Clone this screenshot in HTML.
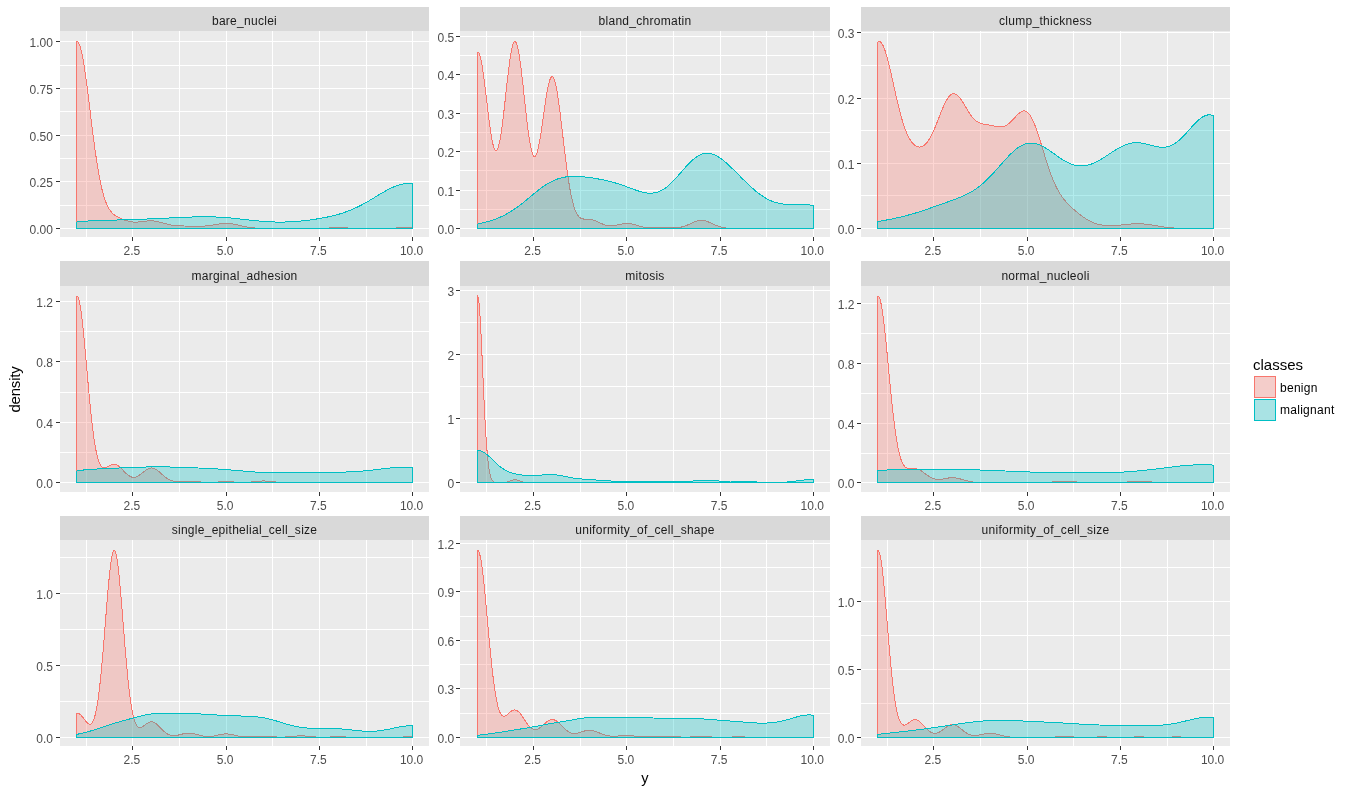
<!DOCTYPE html><html><head><meta charset="utf-8"><title>density</title><style>html,body{margin:0;padding:0;background:#fff}svg{display:block}text{font-family:"Liberation Sans",Arial,sans-serif;letter-spacing:0.28px}.t{letter-spacing:0}</style></head><body>
<svg width="1349" height="793" viewBox="0 0 1349 793">
<rect width="1349" height="793" fill="#fff"/>
<g shape-rendering="crispEdges">
<rect x="60" y="7" width="369" height="24" fill="#D9D9D9"/>
<rect x="60" y="31" width="369" height="206" fill="#EBEBEB"/>
<path d="M60 228.5H429M60 205.5H429M60 181.5H429M60 158.5H429M60 135.5H429M60 111.5H429M60 88.5H429M60 65.5H429M60 41.5H429M86.5 31V237M132.5 31V237M179.5 31V237M226.5 31V237M272.5 31V237M319.5 31V237M366.5 31V237M412.5 31V237" stroke="#fff" stroke-width="1" fill="none"/>
<path d="M56 228.5H60M56 181.5H60M56 135.5H60M56 88.5H60M56 41.5H60M132.5 237V241M226.5 237V241M319.5 237V241M412.5 237V241" stroke="#333" stroke-width="1" fill="none"/>
<polygon points="76.94,228.60 76.94,41.50 77.59,41.69 78.25,42.33 78.91,43.40 79.56,44.90 80.22,46.82 80.88,49.14 81.53,51.85 82.19,54.92 82.85,58.34 83.50,62.08 84.16,66.11 84.82,70.41 85.48,74.95 86.13,79.69 86.79,84.62 87.45,89.70 88.10,94.89 88.76,100.17 89.42,105.51 90.07,110.88 90.73,116.25 91.39,121.59 92.04,126.89 92.70,132.11 93.36,137.24 94.02,142.25 94.67,147.13 95.33,151.86 95.99,156.43 96.64,160.82 97.30,165.04 97.96,169.06 98.61,172.89 99.27,176.52 99.93,179.94 100.59,183.17 101.24,186.20 101.90,189.02 102.56,191.66 103.21,194.11 103.87,196.37 104.53,198.47 105.18,200.39 105.84,202.16 106.50,203.78 107.15,205.26 107.81,206.61 108.47,207.83 109.13,208.95 109.78,209.96 110.44,210.88 111.10,211.71 111.75,212.47 112.41,213.16 113.07,213.79 113.72,214.36 114.38,214.89 115.04,215.38 115.69,215.83 116.35,216.24 117.01,216.64 117.67,217.00 118.32,217.35 118.98,217.68 119.64,218.00 120.29,218.30 120.95,218.59 121.61,218.88 122.26,219.15 122.92,219.41 123.58,219.66 124.24,219.91 124.89,220.14 125.55,220.36 126.21,220.58 126.86,220.78 127.52,220.97 128.18,221.15 128.83,221.31 129.49,221.46 130.15,221.60 130.80,221.72 131.46,221.82 132.12,221.91 132.78,221.99 133.43,222.04 134.09,222.09 134.75,222.11 135.40,222.12 136.06,222.12 136.72,222.11 137.37,222.08 138.03,222.03 138.69,221.98 139.34,221.92 140.00,221.85 140.66,221.77 141.32,221.69 141.97,221.60 142.63,221.52 143.29,221.43 143.94,221.34 144.60,221.25 145.26,221.17 145.91,221.09 146.57,221.02 147.23,220.96 147.89,220.91 148.54,220.87 149.20,220.83 149.86,220.81 150.51,220.81 151.17,220.81 151.83,220.83 152.48,220.87 153.14,220.92 153.80,220.98 154.45,221.06 155.11,221.15 155.77,221.25 156.43,221.37 157.08,221.49 157.74,221.63 158.40,221.78 159.05,221.94 159.71,222.10 160.37,222.27 161.02,222.45 161.68,222.63 162.34,222.81 163.00,223.00 163.65,223.19 164.31,223.37 164.97,223.56 165.62,223.74 166.28,223.92 166.94,224.09 167.59,224.26 168.25,224.42 168.91,224.57 169.56,224.72 170.22,224.86 170.88,224.99 171.54,225.11 172.19,225.22 172.85,225.33 173.51,225.42 174.16,225.51 174.82,225.59 175.48,225.66 176.13,225.72 176.79,225.77 177.45,225.81 178.10,225.85 178.76,225.89 179.42,225.91 180.08,225.94 180.73,225.95 181.39,225.97 182.05,225.98 182.70,225.99 183.36,225.99 184.02,226.00 184.67,226.00 185.33,226.00 185.99,226.01 186.65,226.01 187.30,226.01 187.96,226.02 188.62,226.02 189.27,226.03 189.93,226.04 190.59,226.05 191.24,226.06 191.90,226.07 192.56,226.09 193.21,226.10 193.87,226.11 194.53,226.13 195.19,226.14 195.84,226.15 196.50,226.16 197.16,226.17 197.81,226.18 198.47,226.19 199.13,226.19 199.78,226.19 200.44,226.18 201.10,226.17 201.75,226.15 202.41,226.13 203.07,226.11 203.73,226.07 204.38,226.03 205.04,225.99 205.70,225.94 206.35,225.88 207.01,225.81 207.67,225.74 208.32,225.66 208.98,225.58 209.64,225.49 210.30,225.40 210.95,225.30 211.61,225.19 212.27,225.08 212.92,224.97 213.58,224.86 214.24,224.75 214.89,224.63 215.55,224.52 216.21,224.40 216.86,224.29 217.52,224.18 218.18,224.08 218.84,223.98 219.49,223.88 220.15,223.80 220.81,223.72 221.46,223.64 222.12,223.58 222.78,223.53 223.43,223.48 224.09,223.45 224.75,223.43 225.41,223.41 226.06,223.41 226.72,223.42 227.38,223.45 228.03,223.48 228.69,223.52 229.35,223.58 230.00,223.65 230.66,223.72 231.32,223.81 231.97,223.91 232.63,224.01 233.29,224.13 233.95,224.25 234.60,224.37 235.26,224.50 235.92,224.64 236.57,224.78 237.23,224.93 237.89,225.08 238.54,225.23 239.20,225.38 239.86,225.53 240.51,225.68 241.17,225.83 241.83,225.97 242.49,226.12 243.14,226.26 243.80,226.40 244.46,226.53 245.11,226.66 245.77,226.79 246.43,226.91 247.08,227.03 247.74,227.14 248.40,227.24 249.06,227.34 249.71,227.43 250.37,227.52 251.03,227.61 251.68,227.68 252.34,227.76 253.00,227.82 253.65,227.89 254.31,227.94 254.97,228.00 255.62,228.05 256.28,228.09 256.94,228.13 257.60,228.17 258.25,228.20 258.91,228.23 259.57,228.26 260.22,228.29 260.88,228.31 261.54,228.33 262.19,228.35 262.85,228.36 263.51,228.38 264.16,228.39 264.82,228.41 265.48,228.42 266.14,228.43 266.79,228.43 267.45,228.44 268.11,228.45 268.76,228.46 269.42,228.46 270.08,228.47 270.73,228.47 271.39,228.48 272.05,228.48 272.71,228.49 273.36,228.49 274.02,228.49 274.68,228.49 275.33,228.50 275.99,228.50 276.65,228.50 277.30,228.50 277.96,228.50 278.62,228.50 279.27,228.50 279.93,228.51 280.59,228.51 281.25,228.51 281.90,228.51 282.56,228.50 283.22,228.50 283.87,228.50 284.53,228.50 285.19,228.50 285.84,228.50 286.50,228.50 287.16,228.49 287.82,228.49 288.47,228.49 289.13,228.49 289.79,228.49 290.44,228.48 291.10,228.48 291.76,228.48 292.41,228.47 293.07,228.47 293.73,228.47 294.38,228.47 295.04,228.46 295.70,228.46 296.36,228.46 297.01,228.46 297.67,228.46 298.33,228.45 298.98,228.45 299.64,228.45 300.30,228.45 300.95,228.45 301.61,228.44 302.27,228.44 302.92,228.44 303.58,228.44 304.24,228.44 304.90,228.43 305.55,228.43 306.21,228.43 306.87,228.43 307.52,228.42 308.18,228.42 308.84,228.42 309.49,228.41 310.15,228.41 310.81,228.40 311.47,228.40 312.12,228.39 312.78,228.38 313.44,228.37 314.09,228.37 314.75,228.36 315.41,228.35 316.06,228.33 316.72,228.32 317.38,228.31 318.03,228.30 318.69,228.28 319.35,228.27 320.01,228.25 320.66,228.23 321.32,228.22 321.98,228.20 322.63,228.18 323.29,228.16 323.95,228.14 324.60,228.12 325.26,228.10 325.92,228.08 326.57,228.06 327.23,228.04 327.89,228.02 328.55,228.01 329.20,227.99 329.86,227.97 330.52,227.95 331.17,227.94 331.83,227.92 332.49,227.91 333.14,227.90 333.80,227.89 334.46,227.88 335.12,227.87 335.77,227.86 336.43,227.86 337.09,227.85 337.74,227.85 338.40,227.85 339.06,227.85 339.71,227.86 340.37,227.86 341.03,227.87 341.68,227.88 342.34,227.89 343.00,227.90 343.66,227.91 344.31,227.92 344.97,227.94 345.63,227.95 346.28,227.97 346.94,227.99 347.60,228.00 348.25,228.02 348.91,228.04 349.57,228.06 350.23,228.08 350.88,228.10 351.54,228.12 352.20,228.14 352.85,228.15 353.51,228.17 354.17,228.19 354.82,228.21 355.48,228.22 356.14,228.24 356.79,228.25 357.45,228.27 358.11,228.28 358.77,228.29 359.42,228.31 360.08,228.32 360.74,228.33 361.39,228.34 362.05,228.34 362.71,228.35 363.36,228.36 364.02,228.37 364.68,228.37 365.33,228.37 365.99,228.38 366.65,228.38 367.31,228.39 367.96,228.39 368.62,228.39 369.28,228.39 369.93,228.39 370.59,228.39 371.25,228.39 371.90,228.39 372.56,228.39 373.22,228.39 373.88,228.39 374.53,228.39 375.19,228.39 375.85,228.39 376.50,228.39 377.16,228.39 377.82,228.38 378.47,228.38 379.13,228.38 379.79,228.38 380.44,228.37 381.10,228.37 381.76,228.36 382.42,228.36 383.07,228.35 383.73,228.35 384.39,228.34 385.04,228.33 385.70,228.32 386.36,228.31 387.01,228.30 387.67,228.29 388.33,228.27 388.98,228.26 389.64,228.24 390.30,228.22 390.96,228.20 391.61,228.18 392.27,228.16 392.93,228.14 393.58,228.12 394.24,228.09 394.90,228.06 395.55,228.04 396.21,228.01 396.87,227.98 397.53,227.95 398.18,227.92 398.84,227.89 399.50,227.86 400.15,227.83 400.81,227.80 401.47,227.77 402.12,227.74 402.78,227.71 403.44,227.68 404.09,227.65 404.75,227.62 405.41,227.60 406.07,227.58 406.72,227.55 407.38,227.53 408.04,227.52 408.69,227.50 409.35,227.49 410.01,227.47 410.66,227.47 411.32,227.46 411.98,227.46 412.63,227.46 412.63,228.60" fill="#F8766D" fill-opacity="0.3" stroke="#F8766D" stroke-width="1" stroke-linejoin="round"/>
<polygon points="76.94,228.60 76.94,221.73 77.59,221.67 78.25,221.62 78.91,221.57 79.56,221.52 80.22,221.48 80.88,221.43 81.53,221.38 82.19,221.34 82.85,221.29 83.50,221.25 84.16,221.21 84.82,221.17 85.48,221.13 86.13,221.09 86.79,221.05 87.45,221.02 88.10,220.98 88.76,220.94 89.42,220.91 90.07,220.88 90.73,220.84 91.39,220.81 92.04,220.78 92.70,220.75 93.36,220.72 94.02,220.69 94.67,220.67 95.33,220.64 95.99,220.61 96.64,220.59 97.30,220.56 97.96,220.54 98.61,220.52 99.27,220.49 99.93,220.47 100.59,220.45 101.24,220.43 101.90,220.41 102.56,220.39 103.21,220.37 103.87,220.35 104.53,220.33 105.18,220.31 105.84,220.29 106.50,220.27 107.15,220.25 107.81,220.24 108.47,220.22 109.13,220.20 109.78,220.18 110.44,220.17 111.10,220.15 111.75,220.13 112.41,220.12 113.07,220.10 113.72,220.08 114.38,220.07 115.04,220.05 115.69,220.03 116.35,220.02 117.01,220.00 117.67,219.98 118.32,219.96 118.98,219.95 119.64,219.93 120.29,219.91 120.95,219.90 121.61,219.88 122.26,219.86 122.92,219.84 123.58,219.82 124.24,219.81 124.89,219.79 125.55,219.77 126.21,219.75 126.86,219.73 127.52,219.71 128.18,219.69 128.83,219.67 129.49,219.65 130.15,219.63 130.80,219.61 131.46,219.59 132.12,219.57 132.78,219.54 133.43,219.52 134.09,219.50 134.75,219.48 135.40,219.45 136.06,219.43 136.72,219.41 137.37,219.38 138.03,219.36 138.69,219.34 139.34,219.31 140.00,219.29 140.66,219.26 141.32,219.24 141.97,219.21 142.63,219.18 143.29,219.16 143.94,219.13 144.60,219.11 145.26,219.08 145.91,219.05 146.57,219.02 147.23,219.00 147.89,218.97 148.54,218.94 149.20,218.91 149.86,218.88 150.51,218.86 151.17,218.83 151.83,218.80 152.48,218.77 153.14,218.74 153.80,218.71 154.45,218.68 155.11,218.65 155.77,218.62 156.43,218.59 157.08,218.56 157.74,218.53 158.40,218.50 159.05,218.47 159.71,218.44 160.37,218.41 161.02,218.37 161.68,218.34 162.34,218.31 163.00,218.28 163.65,218.25 164.31,218.22 164.97,218.19 165.62,218.15 166.28,218.12 166.94,218.09 167.59,218.06 168.25,218.03 168.91,217.99 169.56,217.96 170.22,217.93 170.88,217.90 171.54,217.87 172.19,217.84 172.85,217.80 173.51,217.77 174.16,217.74 174.82,217.71 175.48,217.68 176.13,217.65 176.79,217.62 177.45,217.59 178.10,217.56 178.76,217.53 179.42,217.50 180.08,217.47 180.73,217.44 181.39,217.41 182.05,217.38 182.70,217.35 183.36,217.32 184.02,217.29 184.67,217.27 185.33,217.24 185.99,217.21 186.65,217.19 187.30,217.16 187.96,217.14 188.62,217.11 189.27,217.09 189.93,217.07 190.59,217.04 191.24,217.02 191.90,217.00 192.56,216.98 193.21,216.96 193.87,216.94 194.53,216.93 195.19,216.91 195.84,216.89 196.50,216.88 197.16,216.86 197.81,216.85 198.47,216.84 199.13,216.83 199.78,216.82 200.44,216.81 201.10,216.80 201.75,216.80 202.41,216.79 203.07,216.79 203.73,216.79 204.38,216.79 205.04,216.79 205.70,216.79 206.35,216.79 207.01,216.80 207.67,216.80 208.32,216.81 208.98,216.82 209.64,216.83 210.30,216.84 210.95,216.85 211.61,216.87 212.27,216.89 212.92,216.90 213.58,216.92 214.24,216.95 214.89,216.97 215.55,216.99 216.21,217.02 216.86,217.05 217.52,217.08 218.18,217.11 218.84,217.14 219.49,217.18 220.15,217.21 220.81,217.25 221.46,217.29 222.12,217.33 222.78,217.38 223.43,217.42 224.09,217.47 224.75,217.51 225.41,217.56 226.06,217.61 226.72,217.66 227.38,217.72 228.03,217.77 228.69,217.83 229.35,217.89 230.00,217.94 230.66,218.00 231.32,218.07 231.97,218.13 232.63,218.19 233.29,218.26 233.95,218.32 234.60,218.39 235.26,218.46 235.92,218.53 236.57,218.59 237.23,218.66 237.89,218.74 238.54,218.81 239.20,218.88 239.86,218.95 240.51,219.03 241.17,219.10 241.83,219.17 242.49,219.25 243.14,219.32 243.80,219.40 244.46,219.47 245.11,219.55 245.77,219.62 246.43,219.70 247.08,219.77 247.74,219.85 248.40,219.92 249.06,220.00 249.71,220.07 250.37,220.15 251.03,220.22 251.68,220.29 252.34,220.36 253.00,220.43 253.65,220.50 254.31,220.57 254.97,220.64 255.62,220.71 256.28,220.77 256.94,220.84 257.60,220.90 258.25,220.97 258.91,221.03 259.57,221.09 260.22,221.15 260.88,221.20 261.54,221.26 262.19,221.31 262.85,221.37 263.51,221.42 264.16,221.47 264.82,221.52 265.48,221.56 266.14,221.61 266.79,221.65 267.45,221.69 268.11,221.73 268.76,221.76 269.42,221.80 270.08,221.83 270.73,221.86 271.39,221.89 272.05,221.92 272.71,221.94 273.36,221.97 274.02,221.99 274.68,222.00 275.33,222.02 275.99,222.03 276.65,222.05 277.30,222.06 277.96,222.06 278.62,222.07 279.27,222.07 279.93,222.07 280.59,222.07 281.25,222.07 281.90,222.06 282.56,222.05 283.22,222.04 283.87,222.03 284.53,222.02 285.19,222.00 285.84,221.98 286.50,221.96 287.16,221.94 287.82,221.91 288.47,221.89 289.13,221.86 289.79,221.83 290.44,221.79 291.10,221.76 291.76,221.72 292.41,221.68 293.07,221.64 293.73,221.60 294.38,221.55 295.04,221.50 295.70,221.46 296.36,221.40 297.01,221.35 297.67,221.30 298.33,221.24 298.98,221.18 299.64,221.12 300.30,221.06 300.95,221.00 301.61,220.93 302.27,220.87 302.92,220.80 303.58,220.73 304.24,220.65 304.90,220.58 305.55,220.51 306.21,220.43 306.87,220.35 307.52,220.27 308.18,220.19 308.84,220.10 309.49,220.02 310.15,219.93 310.81,219.84 311.47,219.75 312.12,219.66 312.78,219.57 313.44,219.47 314.09,219.38 314.75,219.28 315.41,219.18 316.06,219.08 316.72,218.97 317.38,218.87 318.03,218.76 318.69,218.65 319.35,218.54 320.01,218.43 320.66,218.32 321.32,218.20 321.98,218.08 322.63,217.96 323.29,217.84 323.95,217.71 324.60,217.59 325.26,217.46 325.92,217.33 326.57,217.19 327.23,217.06 327.89,216.92 328.55,216.78 329.20,216.63 329.86,216.49 330.52,216.34 331.17,216.18 331.83,216.03 332.49,215.87 333.14,215.71 333.80,215.55 334.46,215.38 335.12,215.21 335.77,215.04 336.43,214.86 337.09,214.68 337.74,214.50 338.40,214.31 339.06,214.12 339.71,213.93 340.37,213.73 341.03,213.52 341.68,213.32 342.34,213.11 343.00,212.89 343.66,212.68 344.31,212.45 344.97,212.23 345.63,211.99 346.28,211.76 346.94,211.52 347.60,211.27 348.25,211.02 348.91,210.77 349.57,210.51 350.23,210.25 350.88,209.98 351.54,209.71 352.20,209.43 352.85,209.15 353.51,208.86 354.17,208.57 354.82,208.27 355.48,207.97 356.14,207.67 356.79,207.36 357.45,207.04 358.11,206.72 358.77,206.40 359.42,206.07 360.08,205.73 360.74,205.40 361.39,205.05 362.05,204.71 362.71,204.36 363.36,204.00 364.02,203.64 364.68,203.28 365.33,202.92 365.99,202.55 366.65,202.17 367.31,201.80 367.96,201.42 368.62,201.04 369.28,200.65 369.93,200.26 370.59,199.87 371.25,199.48 371.90,199.09 372.56,198.69 373.22,198.30 373.88,197.90 374.53,197.50 375.19,197.10 375.85,196.70 376.50,196.31 377.16,195.91 377.82,195.51 378.47,195.11 379.13,194.71 379.79,194.32 380.44,193.93 381.10,193.53 381.76,193.15 382.42,192.76 383.07,192.38 383.73,192.00 384.39,191.62 385.04,191.25 385.70,190.89 386.36,190.52 387.01,190.17 387.67,189.82 388.33,189.47 388.98,189.13 389.64,188.80 390.30,188.48 390.96,188.16 391.61,187.85 392.27,187.55 392.93,187.25 393.58,186.97 394.24,186.69 394.90,186.43 395.55,186.17 396.21,185.92 396.87,185.69 397.53,185.46 398.18,185.25 398.84,185.04 399.50,184.85 400.15,184.67 400.81,184.50 401.47,184.34 402.12,184.20 402.78,184.07 403.44,183.95 404.09,183.85 404.75,183.75 405.41,183.67 406.07,183.61 406.72,183.56 407.38,183.52 408.04,183.50 408.69,183.49 409.35,183.49 410.01,183.51 410.66,183.54 411.32,183.59 411.98,183.65 412.63,183.72 412.63,228.60" fill="#00BFC4" fill-opacity="0.3" stroke="#00BFC4" stroke-width="1" stroke-linejoin="round"/>
</g>
<text x="244.5" y="24.8" font-size="12" fill="#1A1A1A" text-anchor="middle">bare_nuclei</text>
<text class="t" x="52.9" y="234" font-size="12" fill="#4D4D4D" text-anchor="end">0.00</text>
<text class="t" x="52.9" y="187" font-size="12" fill="#4D4D4D" text-anchor="end">0.25</text>
<text class="t" x="52.9" y="141" font-size="12" fill="#4D4D4D" text-anchor="end">0.50</text>
<text class="t" x="52.9" y="94" font-size="12" fill="#4D4D4D" text-anchor="end">0.75</text>
<text class="t" x="52.9" y="47" font-size="12" fill="#4D4D4D" text-anchor="end">1.00</text>
<text class="t" x="131.9" y="255" font-size="12" fill="#4D4D4D" text-anchor="middle">2.5</text>
<text class="t" x="225.1" y="255" font-size="12" fill="#4D4D4D" text-anchor="middle">5.0</text>
<text class="t" x="318.4" y="255" font-size="12" fill="#4D4D4D" text-anchor="middle">7.5</text>
<text class="t" x="411.6" y="255" font-size="12" fill="#4D4D4D" text-anchor="middle">10.0</text>
<g shape-rendering="crispEdges">
<rect x="460" y="7" width="370" height="24" fill="#D9D9D9"/>
<rect x="460" y="31" width="370" height="206" fill="#EBEBEB"/>
<path d="M460 228.5H830M460 209.5H830M460 190.5H830M460 170.5H830M460 151.5H830M460 132.5H830M460 113.5H830M460 93.5H830M460 74.5H830M460 55.5H830M460 36.5H830M486.5 31V237M533.5 31V237M580.5 31V237M626.5 31V237M673.5 31V237M720.5 31V237M766.5 31V237M813.5 31V237" stroke="#fff" stroke-width="1" fill="none"/>
<path d="M456 228.5H460M456 190.5H460M456 151.5H460M456 113.5H460M456 74.5H460M456 36.5H460M533.5 237V241M626.5 237V241M720.5 237V241M813.5 237V241" stroke="#333" stroke-width="1" fill="none"/>
<polygon points="477.64,228.60 477.64,52.05 478.29,52.29 478.95,53.18 479.61,54.70 480.26,56.83 480.92,59.54 481.58,62.79 482.23,66.53 482.89,70.72 483.55,75.30 484.20,80.21 484.86,85.37 485.52,90.74 486.18,96.23 486.83,101.78 487.49,107.31 488.15,112.76 488.80,118.07 489.46,123.16 490.12,127.97 490.77,132.44 491.43,136.53 492.09,140.18 492.74,143.35 493.40,145.99 494.06,148.09 494.72,149.60 495.37,150.52 496.03,150.83 496.69,150.52 497.34,149.60 498.00,148.07 498.66,145.94 499.31,143.25 499.97,140.00 500.63,136.25 501.29,132.02 501.94,127.37 502.60,122.34 503.26,116.99 503.91,111.39 504.57,105.59 505.23,99.67 505.88,93.69 506.54,87.73 507.20,81.85 507.85,76.14 508.51,70.66 509.17,65.48 509.83,60.66 510.48,56.28 511.14,52.38 511.80,49.01 512.45,46.22 513.11,44.06 513.77,42.53 514.42,41.68 515.08,41.50 515.74,42.00 516.39,43.18 517.05,45.02 517.71,47.49 518.37,50.57 519.02,54.22 519.68,58.38 520.34,63.02 520.99,68.06 521.65,73.45 522.31,79.12 522.96,85.00 523.62,91.02 524.28,97.12 524.94,103.22 525.59,109.25 526.25,115.14 526.91,120.84 527.56,126.28 528.22,131.40 528.88,136.15 529.53,140.49 530.19,144.37 530.85,147.76 531.50,150.63 532.16,152.95 532.82,154.72 533.48,155.91 534.13,156.53 534.79,156.58 535.45,156.06 536.10,154.99 536.76,153.39 537.42,151.29 538.07,148.72 538.73,145.72 539.39,142.33 540.04,138.59 540.70,134.55 541.36,130.28 542.02,125.82 542.67,121.24 543.33,116.59 543.99,111.95 544.64,107.36 545.30,102.89 545.96,98.61 546.61,94.57 547.27,90.82 547.93,87.42 548.59,84.42 549.24,81.86 549.90,79.76 550.56,78.18 551.21,77.13 551.87,76.62 552.53,76.67 553.18,77.28 553.84,78.45 554.50,80.17 555.15,82.41 555.81,85.16 556.47,88.39 557.13,92.06 557.78,96.13 558.44,100.57 559.10,105.32 559.75,110.34 560.41,115.57 561.07,120.98 561.72,126.51 562.38,132.11 563.04,137.73 563.70,143.34 564.35,148.88 565.01,154.32 565.67,159.63 566.32,164.77 566.98,169.72 567.64,174.45 568.29,178.95 568.95,183.19 569.61,187.18 570.26,190.89 570.92,194.33 571.58,197.50 572.24,200.40 572.89,203.03 573.55,205.41 574.21,207.53 574.86,209.43 575.52,211.09 576.18,212.55 576.83,213.81 577.49,214.89 578.15,215.80 578.80,216.57 579.46,217.20 580.12,217.71 580.78,218.12 581.43,218.44 582.09,218.68 582.75,218.86 583.40,218.99 584.06,219.07 584.72,219.13 585.37,219.16 586.03,219.18 586.69,219.20 587.35,219.21 588.00,219.24 588.66,219.28 589.32,219.33 589.97,219.40 590.63,219.49 591.29,219.60 591.94,219.74 592.60,219.90 593.26,220.09 593.91,220.30 594.57,220.52 595.23,220.77 595.89,221.03 596.54,221.31 597.20,221.60 597.86,221.90 598.51,222.20 599.17,222.51 599.83,222.81 600.48,223.11 601.14,223.41 601.80,223.70 602.45,223.97 603.11,224.23 603.77,224.48 604.43,224.71 605.08,224.92 605.74,225.10 606.40,225.27 607.05,225.41 607.71,225.53 608.37,225.63 609.02,225.70 609.68,225.74 610.34,225.77 611.00,225.77 611.65,225.75 612.31,225.71 612.97,225.66 613.62,225.58 614.28,225.49 614.94,225.38 615.59,225.27 616.25,225.14 616.91,225.01 617.56,224.87 618.22,224.73 618.88,224.58 619.54,224.44 620.19,224.30 620.85,224.17 621.51,224.05 622.16,223.93 622.82,223.83 623.48,223.74 624.13,223.66 624.79,223.60 625.45,223.56 626.11,223.53 626.76,223.53 627.42,223.54 628.08,223.57 628.73,223.61 629.39,223.68 630.05,223.76 630.70,223.86 631.36,223.97 632.02,224.10 632.67,224.24 633.33,224.39 633.99,224.56 634.65,224.73 635.30,224.90 635.96,225.08 636.62,225.27 637.27,225.45 637.93,225.64 638.59,225.82 639.24,226.00 639.90,226.18 640.56,226.35 641.21,226.51 641.87,226.67 642.53,226.82 643.19,226.96 643.84,227.09 644.50,227.21 645.16,227.32 645.81,227.42 646.47,227.51 647.13,227.60 647.78,227.67 648.44,227.74 649.10,227.79 649.76,227.84 650.41,227.88 651.07,227.91 651.73,227.94 652.38,227.96 653.04,227.97 653.70,227.98 654.35,227.99 655.01,227.99 655.67,227.99 656.32,227.98 656.98,227.98 657.64,227.97 658.30,227.96 658.95,227.95 659.61,227.94 660.27,227.94 660.92,227.93 661.58,227.92 662.24,227.92 662.89,227.91 663.55,227.91 664.21,227.91 664.86,227.91 665.52,227.91 666.18,227.91 666.84,227.91 667.49,227.91 668.15,227.92 668.81,227.92 669.46,227.92 670.12,227.92 670.78,227.92 671.43,227.92 672.09,227.91 672.75,227.90 673.41,227.89 674.06,227.87 674.72,227.84 675.38,227.81 676.03,227.77 676.69,227.72 677.35,227.66 678.00,227.59 678.66,227.51 679.32,227.41 679.97,227.30 680.63,227.18 681.29,227.05 681.95,226.90 682.60,226.73 683.26,226.55 683.92,226.36 684.57,226.15 685.23,225.92 685.89,225.68 686.54,225.43 687.20,225.17 687.86,224.89 688.52,224.61 689.17,224.31 689.83,224.02 690.49,223.71 691.14,223.41 691.80,223.10 692.46,222.80 693.11,222.51 693.77,222.22 694.43,221.94 695.08,221.68 695.74,221.44 696.40,221.21 697.06,221.01 697.71,220.83 698.37,220.68 699.03,220.55 699.68,220.45 700.34,220.39 701.00,220.35 701.65,220.34 702.31,220.37 702.97,220.43 703.62,220.52 704.28,220.63 704.94,220.78 705.60,220.95 706.25,221.15 706.91,221.37 707.57,221.61 708.22,221.87 708.88,222.14 709.54,222.43 710.19,222.72 710.85,223.02 711.51,223.33 712.17,223.64 712.82,223.95 713.48,224.25 714.14,224.56 714.79,224.85 715.45,225.14 716.11,225.41 716.76,225.68 717.42,225.93 718.08,226.18 718.73,226.40 719.39,226.62 720.05,226.82 720.71,227.00 721.36,227.18 722.02,227.33 722.68,227.48 723.33,227.61 723.99,227.73 724.65,227.84 725.30,227.94 725.96,228.02 726.62,228.10 727.27,228.17 727.93,228.23 728.59,228.28 729.25,228.33 729.90,228.37 730.56,228.41 731.22,228.44 731.87,228.46 732.53,228.49 733.19,228.50 733.84,228.52 734.50,228.53 735.16,228.55 735.82,228.56 736.47,228.56 737.13,228.57 737.79,228.58 738.44,228.58 739.10,228.58 739.76,228.59 740.41,228.59 741.07,228.59 741.73,228.59 742.38,228.60 743.04,228.60 743.70,228.60 744.36,228.60 745.01,228.60 745.67,228.60 746.33,228.60 746.98,228.60 747.64,228.60 748.30,228.60 748.95,228.60 749.61,228.60 750.27,228.60 750.93,228.60 751.58,228.60 752.24,228.60 752.90,228.60 753.55,228.60 754.21,228.60 754.87,228.60 755.52,228.60 756.18,228.60 756.84,228.60 757.49,228.60 758.15,228.60 758.81,228.60 759.47,228.60 760.12,228.60 760.78,228.60 761.44,228.60 762.09,228.60 762.75,228.60 763.41,228.60 764.06,228.60 764.72,228.60 765.38,228.60 766.03,228.60 766.69,228.60 767.35,228.60 768.01,228.60 768.66,228.60 769.32,228.60 769.98,228.60 770.63,228.60 771.29,228.60 771.95,228.60 772.60,228.60 773.26,228.60 773.92,228.60 774.58,228.60 775.23,228.60 775.89,228.60 776.55,228.60 777.20,228.60 777.86,228.60 778.52,228.60 779.17,228.60 779.83,228.60 780.49,228.60 781.14,228.60 781.80,228.60 782.46,228.60 783.12,228.60 783.77,228.60 784.43,228.60 785.09,228.60 785.74,228.60 786.40,228.60 787.06,228.60 787.71,228.60 788.37,228.60 789.03,228.60 789.68,228.60 790.34,228.60 791.00,228.60 791.66,228.60 792.31,228.60 792.97,228.60 793.63,228.60 794.28,228.60 794.94,228.60 795.60,228.60 796.25,228.60 796.91,228.60 797.57,228.60 798.23,228.60 798.88,228.60 799.54,228.60 800.20,228.60 800.85,228.60 801.51,228.60 802.17,228.60 802.82,228.60 803.48,228.60 804.14,228.60 804.79,228.60 805.45,228.60 806.11,228.60 806.77,228.60 807.42,228.60 808.08,228.60 808.74,228.60 809.39,228.60 810.05,228.60 810.71,228.60 811.36,228.60 812.02,228.60 812.68,228.60 813.34,228.60 813.34,228.60" fill="#F8766D" fill-opacity="0.3" stroke="#F8766D" stroke-width="1" stroke-linejoin="round"/>
<polygon points="477.64,228.60 477.64,224.00 478.29,223.87 478.95,223.74 479.61,223.60 480.26,223.46 480.92,223.32 481.58,223.17 482.23,223.03 482.89,222.87 483.55,222.72 484.20,222.56 484.86,222.39 485.52,222.22 486.18,222.05 486.83,221.87 487.49,221.69 488.15,221.50 488.80,221.31 489.46,221.12 490.12,220.92 490.77,220.71 491.43,220.50 492.09,220.29 492.74,220.07 493.40,219.84 494.06,219.61 494.72,219.37 495.37,219.13 496.03,218.88 496.69,218.62 497.34,218.36 498.00,218.09 498.66,217.82 499.31,217.54 499.97,217.25 500.63,216.96 501.29,216.65 501.94,216.35 502.60,216.03 503.26,215.71 503.91,215.38 504.57,215.05 505.23,214.71 505.88,214.36 506.54,214.00 507.20,213.63 507.85,213.26 508.51,212.88 509.17,212.50 509.83,212.10 510.48,211.70 511.14,211.29 511.80,210.88 512.45,210.46 513.11,210.02 513.77,209.59 514.42,209.14 515.08,208.69 515.74,208.23 516.39,207.77 517.05,207.30 517.71,206.82 518.37,206.34 519.02,205.85 519.68,205.35 520.34,204.85 520.99,204.34 521.65,203.83 522.31,203.31 522.96,202.79 523.62,202.27 524.28,201.74 524.94,201.21 525.59,200.67 526.25,200.13 526.91,199.59 527.56,199.05 528.22,198.50 528.88,197.96 529.53,197.41 530.19,196.86 530.85,196.32 531.50,195.77 532.16,195.22 532.82,194.68 533.48,194.14 534.13,193.60 534.79,193.06 535.45,192.52 536.10,191.99 536.76,191.47 537.42,190.94 538.07,190.43 538.73,189.91 539.39,189.41 540.04,188.91 540.70,188.41 541.36,187.93 542.02,187.45 542.67,186.98 543.33,186.51 543.99,186.06 544.64,185.61 545.30,185.18 545.96,184.75 546.61,184.33 547.27,183.93 547.93,183.53 548.59,183.14 549.24,182.77 549.90,182.40 550.56,182.05 551.21,181.71 551.87,181.38 552.53,181.06 553.18,180.75 553.84,180.45 554.50,180.16 555.15,179.89 555.81,179.63 556.47,179.37 557.13,179.13 557.78,178.90 558.44,178.69 559.10,178.48 559.75,178.28 560.41,178.10 561.07,177.92 561.72,177.76 562.38,177.61 563.04,177.46 563.70,177.33 564.35,177.21 565.01,177.09 565.67,176.99 566.32,176.89 566.98,176.81 567.64,176.73 568.29,176.66 568.95,176.60 569.61,176.54 570.26,176.50 570.92,176.46 571.58,176.43 572.24,176.40 572.89,176.39 573.55,176.38 574.21,176.37 574.86,176.37 575.52,176.38 576.18,176.39 576.83,176.41 577.49,176.43 578.15,176.46 578.80,176.49 579.46,176.53 580.12,176.57 580.78,176.61 581.43,176.66 582.09,176.72 582.75,176.77 583.40,176.84 584.06,176.90 584.72,176.97 585.37,177.04 586.03,177.11 586.69,177.19 587.35,177.27 588.00,177.35 588.66,177.44 589.32,177.52 589.97,177.62 590.63,177.71 591.29,177.80 591.94,177.90 592.60,178.00 593.26,178.10 593.91,178.21 594.57,178.32 595.23,178.43 595.89,178.54 596.54,178.65 597.20,178.77 597.86,178.89 598.51,179.01 599.17,179.13 599.83,179.25 600.48,179.38 601.14,179.51 601.80,179.64 602.45,179.78 603.11,179.91 603.77,180.05 604.43,180.20 605.08,180.34 605.74,180.49 606.40,180.64 607.05,180.79 607.71,180.94 608.37,181.10 609.02,181.26 609.68,181.43 610.34,181.59 611.00,181.76 611.65,181.94 612.31,182.11 612.97,182.29 613.62,182.47 614.28,182.66 614.94,182.85 615.59,183.04 616.25,183.23 616.91,183.43 617.56,183.64 618.22,183.84 618.88,184.05 619.54,184.26 620.19,184.48 620.85,184.69 621.51,184.92 622.16,185.14 622.82,185.37 623.48,185.60 624.13,185.83 624.79,186.06 625.45,186.30 626.11,186.54 626.76,186.78 627.42,187.02 628.08,187.26 628.73,187.51 629.39,187.75 630.05,188.00 630.70,188.24 631.36,188.49 632.02,188.73 632.67,188.98 633.33,189.22 633.99,189.46 634.65,189.69 635.30,189.93 635.96,190.16 636.62,190.39 637.27,190.61 637.93,190.83 638.59,191.04 639.24,191.24 639.90,191.44 640.56,191.63 641.21,191.82 641.87,191.99 642.53,192.16 643.19,192.31 643.84,192.46 644.50,192.59 645.16,192.72 645.81,192.83 646.47,192.92 647.13,193.01 647.78,193.08 648.44,193.13 649.10,193.17 649.76,193.20 650.41,193.20 651.07,193.19 651.73,193.16 652.38,193.12 653.04,193.05 653.70,192.97 654.35,192.87 655.01,192.75 655.67,192.60 656.32,192.44 656.98,192.25 657.64,192.05 658.30,191.82 658.95,191.57 659.61,191.30 660.27,191.01 660.92,190.70 661.58,190.36 662.24,190.01 662.89,189.63 663.55,189.23 664.21,188.81 664.86,188.36 665.52,187.90 666.18,187.41 666.84,186.91 667.49,186.39 668.15,185.84 668.81,185.28 669.46,184.70 670.12,184.10 670.78,183.49 671.43,182.85 672.09,182.21 672.75,181.55 673.41,180.87 674.06,180.18 674.72,179.48 675.38,178.77 676.03,178.05 676.69,177.32 677.35,176.58 678.00,175.83 678.66,175.08 679.32,174.33 679.97,173.57 680.63,172.81 681.29,172.05 681.95,171.29 682.60,170.53 683.26,169.77 683.92,169.01 684.57,168.27 685.23,167.52 685.89,166.79 686.54,166.06 687.20,165.35 687.86,164.64 688.52,163.95 689.17,163.27 689.83,162.61 690.49,161.96 691.14,161.33 691.80,160.72 692.46,160.12 693.11,159.55 693.77,159.00 694.43,158.46 695.08,157.95 695.74,157.47 696.40,157.00 697.06,156.57 697.71,156.15 698.37,155.76 699.03,155.40 699.68,155.07 700.34,154.76 701.00,154.48 701.65,154.23 702.31,154.00 702.97,153.81 703.62,153.64 704.28,153.50 704.94,153.39 705.60,153.31 706.25,153.25 706.91,153.23 707.57,153.23 708.22,153.26 708.88,153.31 709.54,153.39 710.19,153.50 710.85,153.64 711.51,153.80 712.17,153.99 712.82,154.20 713.48,154.44 714.14,154.70 714.79,154.98 715.45,155.29 716.11,155.61 716.76,155.96 717.42,156.33 718.08,156.72 718.73,157.12 719.39,157.55 720.05,157.99 720.71,158.45 721.36,158.93 722.02,159.42 722.68,159.93 723.33,160.45 723.99,160.98 724.65,161.52 725.30,162.08 725.96,162.65 726.62,163.23 727.27,163.82 727.93,164.42 728.59,165.02 729.25,165.64 729.90,166.26 730.56,166.88 731.22,167.52 731.87,168.16 732.53,168.80 733.19,169.45 733.84,170.10 734.50,170.75 735.16,171.41 735.82,172.07 736.47,172.73 737.13,173.39 737.79,174.06 738.44,174.72 739.10,175.38 739.76,176.05 740.41,176.71 741.07,177.37 741.73,178.03 742.38,178.69 743.04,179.34 743.70,179.99 744.36,180.64 745.01,181.29 745.67,181.93 746.33,182.57 746.98,183.20 747.64,183.83 748.30,184.45 748.95,185.07 749.61,185.68 750.27,186.29 750.93,186.88 751.58,187.48 752.24,188.06 752.90,188.64 753.55,189.21 754.21,189.77 754.87,190.33 755.52,190.88 756.18,191.41 756.84,191.94 757.49,192.46 758.15,192.97 758.81,193.47 759.47,193.96 760.12,194.44 760.78,194.91 761.44,195.37 762.09,195.82 762.75,196.26 763.41,196.69 764.06,197.10 764.72,197.50 765.38,197.90 766.03,198.28 766.69,198.65 767.35,199.00 768.01,199.35 768.66,199.68 769.32,200.00 769.98,200.31 770.63,200.60 771.29,200.89 771.95,201.16 772.60,201.42 773.26,201.67 773.92,201.90 774.58,202.13 775.23,202.34 775.89,202.54 776.55,202.72 777.20,202.90 777.86,203.07 778.52,203.22 779.17,203.36 779.83,203.50 780.49,203.62 781.14,203.73 781.80,203.84 782.46,203.93 783.12,204.01 783.77,204.09 784.43,204.16 785.09,204.21 785.74,204.27 786.40,204.31 787.06,204.35 787.71,204.38 788.37,204.40 789.03,204.42 789.68,204.44 790.34,204.45 791.00,204.46 791.66,204.46 792.31,204.46 792.97,204.45 793.63,204.45 794.28,204.44 794.94,204.43 795.60,204.43 796.25,204.42 796.91,204.41 797.57,204.40 798.23,204.40 798.88,204.39 799.54,204.39 800.20,204.39 800.85,204.40 801.51,204.41 802.17,204.42 802.82,204.44 803.48,204.46 804.14,204.49 804.79,204.52 805.45,204.56 806.11,204.61 806.77,204.66 807.42,204.72 808.08,204.79 808.74,204.87 809.39,204.95 810.05,205.04 810.71,205.14 811.36,205.25 812.02,205.37 812.68,205.50 813.34,205.63 813.34,228.60" fill="#00BFC4" fill-opacity="0.3" stroke="#00BFC4" stroke-width="1" stroke-linejoin="round"/>
</g>
<text x="645.0" y="24.8" font-size="12" fill="#1A1A1A" text-anchor="middle">bland_chromatin</text>
<text class="t" x="454.3" y="234" font-size="12" fill="#4D4D4D" text-anchor="end">0.0</text>
<text class="t" x="454.3" y="196" font-size="12" fill="#4D4D4D" text-anchor="end">0.1</text>
<text class="t" x="454.3" y="157" font-size="12" fill="#4D4D4D" text-anchor="end">0.2</text>
<text class="t" x="454.3" y="119" font-size="12" fill="#4D4D4D" text-anchor="end">0.3</text>
<text class="t" x="454.3" y="80" font-size="12" fill="#4D4D4D" text-anchor="end">0.4</text>
<text class="t" x="454.3" y="42" font-size="12" fill="#4D4D4D" text-anchor="end">0.5</text>
<text class="t" x="532.6" y="255" font-size="12" fill="#4D4D4D" text-anchor="middle">2.5</text>
<text class="t" x="625.8" y="255" font-size="12" fill="#4D4D4D" text-anchor="middle">5.0</text>
<text class="t" x="719.1" y="255" font-size="12" fill="#4D4D4D" text-anchor="middle">7.5</text>
<text class="t" x="812.3" y="255" font-size="12" fill="#4D4D4D" text-anchor="middle">10.0</text>
<g shape-rendering="crispEdges">
<rect x="861" y="7" width="369" height="24" fill="#D9D9D9"/>
<rect x="861" y="31" width="369" height="206" fill="#EBEBEB"/>
<path d="M861 228.5H1230M861 195.5H1230M861 163.5H1230M861 130.5H1230M861 98.5H1230M861 65.5H1230M861 32.5H1230M887.5 31V237M933.5 31V237M980.5 31V237M1027.5 31V237M1073.5 31V237M1120.5 31V237M1167.5 31V237M1213.5 31V237" stroke="#fff" stroke-width="1" fill="none"/>
<path d="M857 228.5H861M857 163.5H861M857 98.5H861M857 32.5H861M933.5 237V241M1027.5 237V241M1120.5 237V241M1213.5 237V241" stroke="#333" stroke-width="1" fill="none"/>
<polygon points="877.93,228.60 877.93,41.87 878.59,41.56 879.25,41.50 879.91,41.68 880.56,42.09 881.22,42.73 881.88,43.59 882.53,44.67 883.19,45.95 883.85,47.43 884.50,49.10 885.16,50.95 885.82,52.96 886.48,55.13 887.13,57.44 887.79,59.87 888.45,62.42 889.10,65.07 889.76,67.80 890.42,70.61 891.07,73.48 891.73,76.40 892.39,79.35 893.04,82.31 893.70,85.29 894.36,88.27 895.02,91.23 895.67,94.16 896.33,97.06 896.99,99.91 897.64,102.72 898.30,105.45 898.96,108.13 899.61,110.72 900.27,113.24 900.93,115.67 901.59,118.01 902.24,120.27 902.90,122.42 903.56,124.48 904.21,126.45 904.87,128.31 905.53,130.08 906.18,131.75 906.84,133.32 907.50,134.79 908.15,136.18 908.81,137.46 909.47,138.66 910.13,139.77 910.78,140.79 911.44,141.73 912.10,142.58 912.75,143.36 913.41,144.05 914.07,144.67 914.72,145.22 915.38,145.69 916.04,146.09 916.69,146.42 917.35,146.67 918.01,146.86 918.67,146.98 919.32,147.03 919.98,147.01 920.64,146.92 921.29,146.76 921.95,146.54 922.61,146.24 923.26,145.87 923.92,145.42 924.58,144.91 925.24,144.32 925.89,143.66 926.55,142.93 927.21,142.13 927.86,141.25 928.52,140.30 929.18,139.27 929.83,138.18 930.49,137.02 931.15,135.80 931.80,134.51 932.46,133.16 933.12,131.76 933.78,130.30 934.43,128.79 935.09,127.24 935.75,125.66 936.40,124.04 937.06,122.39 937.72,120.73 938.37,119.05 939.03,117.37 939.69,115.69 940.34,114.03 941.00,112.38 941.66,110.75 942.32,109.16 942.97,107.61 943.63,106.11 944.29,104.67 944.94,103.29 945.60,101.98 946.26,100.76 946.91,99.61 947.57,98.55 948.23,97.59 948.89,96.73 949.54,95.97 950.20,95.31 950.86,94.77 951.51,94.33 952.17,94.01 952.83,93.80 953.48,93.70 954.14,93.71 954.80,93.82 955.45,94.05 956.11,94.37 956.77,94.79 957.43,95.31 958.08,95.91 958.74,96.59 959.40,97.35 960.05,98.18 960.71,99.07 961.37,100.02 962.02,101.01 962.68,102.04 963.34,103.10 964.00,104.19 964.65,105.29 965.31,106.40 965.97,107.52 966.62,108.62 967.28,109.72 967.94,110.79 968.59,111.84 969.25,112.86 969.91,113.85 970.56,114.80 971.22,115.71 971.88,116.57 972.54,117.38 973.19,118.14 973.85,118.85 974.51,119.51 975.16,120.12 975.82,120.67 976.48,121.18 977.13,121.64 977.79,122.05 978.45,122.42 979.10,122.74 979.76,123.03 980.42,123.28 981.08,123.50 981.73,123.69 982.39,123.86 983.05,124.01 983.70,124.14 984.36,124.25 985.02,124.36 985.67,124.46 986.33,124.56 986.99,124.65 987.65,124.75 988.30,124.84 988.96,124.95 989.62,125.05 990.27,125.17 990.93,125.29 991.59,125.42 992.24,125.55 992.90,125.69 993.56,125.83 994.21,125.97 994.87,126.11 995.53,126.25 996.19,126.38 996.84,126.50 997.50,126.61 998.16,126.71 998.81,126.78 999.47,126.83 1000.13,126.86 1000.78,126.86 1001.44,126.83 1002.10,126.76 1002.75,126.65 1003.41,126.50 1004.07,126.31 1004.73,126.08 1005.38,125.80 1006.04,125.48 1006.70,125.11 1007.35,124.69 1008.01,124.23 1008.67,123.73 1009.32,123.19 1009.98,122.61 1010.64,121.99 1011.30,121.35 1011.95,120.67 1012.61,119.98 1013.27,119.26 1013.92,118.54 1014.58,117.81 1015.24,117.08 1015.89,116.36 1016.55,115.66 1017.21,114.97 1017.86,114.32 1018.52,113.70 1019.18,113.13 1019.84,112.61 1020.49,112.15 1021.15,111.75 1021.81,111.42 1022.46,111.17 1023.12,111.00 1023.78,110.92 1024.43,110.93 1025.09,111.04 1025.75,111.25 1026.41,111.57 1027.06,111.99 1027.72,112.52 1028.38,113.16 1029.03,113.91 1029.69,114.77 1030.35,115.74 1031.00,116.81 1031.66,117.99 1032.32,119.27 1032.97,120.65 1033.63,122.13 1034.29,123.69 1034.95,125.34 1035.60,127.07 1036.26,128.87 1036.92,130.74 1037.57,132.67 1038.23,134.66 1038.89,136.69 1039.54,138.76 1040.20,140.86 1040.86,143.00 1041.51,145.15 1042.17,147.31 1042.83,149.48 1043.49,151.64 1044.14,153.80 1044.80,155.95 1045.46,158.08 1046.11,160.18 1046.77,162.26 1047.43,164.30 1048.08,166.30 1048.74,168.26 1049.40,170.17 1050.06,172.04 1050.71,173.86 1051.37,175.62 1052.03,177.33 1052.68,178.98 1053.34,180.58 1054.00,182.13 1054.65,183.61 1055.31,185.04 1055.97,186.42 1056.62,187.74 1057.28,189.01 1057.94,190.22 1058.60,191.39 1059.25,192.51 1059.91,193.58 1060.57,194.61 1061.22,195.60 1061.88,196.55 1062.54,197.46 1063.19,198.34 1063.85,199.19 1064.51,200.01 1065.16,200.80 1065.82,201.56 1066.48,202.30 1067.14,203.02 1067.79,203.72 1068.45,204.41 1069.11,205.07 1069.76,205.73 1070.42,206.37 1071.08,206.99 1071.73,207.61 1072.39,208.22 1073.05,208.81 1073.71,209.40 1074.36,209.98 1075.02,210.55 1075.68,211.12 1076.33,211.68 1076.99,212.23 1077.65,212.77 1078.30,213.30 1078.96,213.83 1079.62,214.34 1080.27,214.85 1080.93,215.35 1081.59,215.84 1082.25,216.32 1082.90,216.79 1083.56,217.25 1084.22,217.70 1084.87,218.14 1085.53,218.57 1086.19,218.98 1086.84,219.38 1087.50,219.77 1088.16,220.15 1088.82,220.51 1089.47,220.86 1090.13,221.19 1090.79,221.51 1091.44,221.82 1092.10,222.12 1092.76,222.40 1093.41,222.66 1094.07,222.92 1094.73,223.16 1095.38,223.39 1096.04,223.60 1096.70,223.80 1097.36,223.99 1098.01,224.17 1098.67,224.33 1099.33,224.49 1099.98,224.63 1100.64,224.76 1101.30,224.88 1101.95,224.99 1102.61,225.10 1103.27,225.19 1103.92,225.27 1104.58,225.34 1105.24,225.41 1105.90,225.46 1106.55,225.51 1107.21,225.55 1107.87,225.58 1108.52,225.61 1109.18,225.63 1109.84,225.64 1110.49,225.64 1111.15,225.64 1111.81,225.64 1112.47,225.62 1113.12,225.60 1113.78,225.58 1114.44,225.55 1115.09,225.52 1115.75,225.48 1116.41,225.44 1117.06,225.39 1117.72,225.34 1118.38,225.29 1119.03,225.23 1119.69,225.17 1120.35,225.11 1121.01,225.04 1121.66,224.97 1122.32,224.91 1122.98,224.84 1123.63,224.77 1124.29,224.69 1124.95,224.62 1125.60,224.55 1126.26,224.48 1126.92,224.41 1127.57,224.34 1128.23,224.28 1128.89,224.21 1129.55,224.15 1130.20,224.09 1130.86,224.04 1131.52,223.98 1132.17,223.94 1132.83,223.89 1133.49,223.85 1134.14,223.82 1134.80,223.79 1135.46,223.77 1136.12,223.75 1136.77,223.73 1137.43,223.73 1138.09,223.73 1138.74,223.73 1139.40,223.75 1140.06,223.76 1140.71,223.79 1141.37,223.82 1142.03,223.86 1142.68,223.90 1143.34,223.95 1144.00,224.00 1144.66,224.07 1145.31,224.13 1145.97,224.20 1146.63,224.28 1147.28,224.36 1147.94,224.45 1148.60,224.54 1149.25,224.63 1149.91,224.73 1150.57,224.83 1151.23,224.93 1151.88,225.03 1152.54,225.14 1153.20,225.25 1153.85,225.36 1154.51,225.47 1155.17,225.58 1155.82,225.69 1156.48,225.81 1157.14,225.92 1157.79,226.03 1158.45,226.14 1159.11,226.25 1159.77,226.35 1160.42,226.46 1161.08,226.56 1161.74,226.67 1162.39,226.76 1163.05,226.86 1163.71,226.96 1164.36,227.05 1165.02,227.14 1165.68,227.22 1166.33,227.30 1166.99,227.38 1167.65,227.46 1168.31,227.53 1168.96,227.60 1169.62,227.67 1170.28,227.73 1170.93,227.79 1171.59,227.85 1172.25,227.90 1172.90,227.95 1173.56,228.00 1174.22,228.05 1174.88,228.09 1175.53,228.13 1176.19,228.17 1176.85,228.20 1177.50,228.24 1178.16,228.27 1178.82,228.30 1179.47,228.32 1180.13,228.35 1180.79,228.37 1181.44,228.39 1182.10,228.41 1182.76,228.43 1183.42,228.45 1184.07,228.46 1184.73,228.47 1185.39,228.49 1186.04,228.50 1186.70,228.51 1187.36,228.52 1188.01,228.53 1188.67,228.53 1189.33,228.54 1189.98,228.55 1190.64,228.55 1191.30,228.56 1191.96,228.56 1192.61,228.57 1193.27,228.57 1193.93,228.57 1194.58,228.58 1195.24,228.58 1195.90,228.58 1196.55,228.58 1197.21,228.59 1197.87,228.59 1198.53,228.59 1199.18,228.59 1199.84,228.59 1200.50,228.59 1201.15,228.59 1201.81,228.59 1202.47,228.60 1203.12,228.60 1203.78,228.60 1204.44,228.60 1205.09,228.60 1205.75,228.60 1206.41,228.60 1207.07,228.60 1207.72,228.60 1208.38,228.60 1209.04,228.60 1209.69,228.60 1210.35,228.60 1211.01,228.60 1211.66,228.60 1212.32,228.60 1212.98,228.60 1213.63,228.60 1213.63,228.60" fill="#F8766D" fill-opacity="0.3" stroke="#F8766D" stroke-width="1" stroke-linejoin="round"/>
<polygon points="877.93,228.60 877.93,221.53 878.59,221.42 879.25,221.31 879.91,221.19 880.56,221.08 881.22,220.96 881.88,220.85 882.53,220.73 883.19,220.61 883.85,220.50 884.50,220.38 885.16,220.26 885.82,220.14 886.48,220.01 887.13,219.89 887.79,219.76 888.45,219.64 889.10,219.51 889.76,219.38 890.42,219.25 891.07,219.12 891.73,218.99 892.39,218.86 893.04,218.72 893.70,218.59 894.36,218.45 895.02,218.31 895.67,218.17 896.33,218.02 896.99,217.88 897.64,217.73 898.30,217.59 898.96,217.44 899.61,217.28 900.27,217.13 900.93,216.97 901.59,216.82 902.24,216.66 902.90,216.49 903.56,216.33 904.21,216.16 904.87,216.00 905.53,215.83 906.18,215.65 906.84,215.48 907.50,215.30 908.15,215.13 908.81,214.94 909.47,214.76 910.13,214.58 910.78,214.39 911.44,214.20 912.10,214.01 912.75,213.82 913.41,213.62 914.07,213.43 914.72,213.23 915.38,213.03 916.04,212.82 916.69,212.62 917.35,212.41 918.01,212.20 918.67,211.99 919.32,211.78 919.98,211.57 920.64,211.35 921.29,211.14 921.95,210.92 922.61,210.70 923.26,210.48 923.92,210.26 924.58,210.04 925.24,209.81 925.89,209.59 926.55,209.36 927.21,209.14 927.86,208.91 928.52,208.68 929.18,208.45 929.83,208.23 930.49,208.00 931.15,207.77 931.80,207.54 932.46,207.31 933.12,207.08 933.78,206.84 934.43,206.61 935.09,206.38 935.75,206.15 936.40,205.92 937.06,205.69 937.72,205.46 938.37,205.23 939.03,205.00 939.69,204.77 940.34,204.54 941.00,204.30 941.66,204.07 942.32,203.84 942.97,203.61 943.63,203.38 944.29,203.15 944.94,202.92 945.60,202.69 946.26,202.46 946.91,202.23 947.57,202.00 948.23,201.77 948.89,201.54 949.54,201.30 950.20,201.07 950.86,200.83 951.51,200.60 952.17,200.36 952.83,200.12 953.48,199.88 954.14,199.64 954.80,199.39 955.45,199.15 956.11,198.90 956.77,198.65 957.43,198.39 958.08,198.13 958.74,197.87 959.40,197.61 960.05,197.34 960.71,197.06 961.37,196.78 962.02,196.50 962.68,196.21 963.34,195.92 964.00,195.62 964.65,195.32 965.31,195.00 965.97,194.69 966.62,194.36 967.28,194.03 967.94,193.69 968.59,193.34 969.25,192.99 969.91,192.63 970.56,192.25 971.22,191.87 971.88,191.48 972.54,191.09 973.19,190.68 973.85,190.26 974.51,189.83 975.16,189.40 975.82,188.95 976.48,188.49 977.13,188.02 977.79,187.54 978.45,187.05 979.10,186.55 979.76,186.04 980.42,185.52 981.08,184.98 981.73,184.44 982.39,183.88 983.05,183.31 983.70,182.74 984.36,182.15 985.02,181.55 985.67,180.94 986.33,180.32 986.99,179.69 987.65,179.05 988.30,178.40 988.96,177.74 989.62,177.07 990.27,176.40 990.93,175.71 991.59,175.02 992.24,174.32 992.90,173.61 993.56,172.90 994.21,172.17 994.87,171.45 995.53,170.72 996.19,169.98 996.84,169.24 997.50,168.50 998.16,167.75 998.81,167.01 999.47,166.26 1000.13,165.51 1000.78,164.76 1001.44,164.01 1002.10,163.27 1002.75,162.52 1003.41,161.78 1004.07,161.04 1004.73,160.31 1005.38,159.58 1006.04,158.86 1006.70,158.15 1007.35,157.44 1008.01,156.75 1008.67,156.06 1009.32,155.38 1009.98,154.72 1010.64,154.06 1011.30,153.42 1011.95,152.80 1012.61,152.18 1013.27,151.58 1013.92,151.00 1014.58,150.43 1015.24,149.88 1015.89,149.35 1016.55,148.84 1017.21,148.34 1017.86,147.87 1018.52,147.41 1019.18,146.98 1019.84,146.57 1020.49,146.17 1021.15,145.80 1021.81,145.46 1022.46,145.13 1023.12,144.83 1023.78,144.55 1024.43,144.30 1025.09,144.07 1025.75,143.86 1026.41,143.67 1027.06,143.51 1027.72,143.38 1028.38,143.27 1029.03,143.18 1029.69,143.12 1030.35,143.08 1031.00,143.06 1031.66,143.07 1032.32,143.10 1032.97,143.16 1033.63,143.23 1034.29,143.33 1034.95,143.45 1035.60,143.60 1036.26,143.76 1036.92,143.94 1037.57,144.15 1038.23,144.37 1038.89,144.61 1039.54,144.87 1040.20,145.15 1040.86,145.45 1041.51,145.76 1042.17,146.09 1042.83,146.43 1043.49,146.78 1044.14,147.15 1044.80,147.53 1045.46,147.93 1046.11,148.33 1046.77,148.75 1047.43,149.17 1048.08,149.60 1048.74,150.04 1049.40,150.49 1050.06,150.94 1050.71,151.40 1051.37,151.86 1052.03,152.32 1052.68,152.79 1053.34,153.26 1054.00,153.73 1054.65,154.20 1055.31,154.67 1055.97,155.14 1056.62,155.60 1057.28,156.07 1057.94,156.53 1058.60,156.98 1059.25,157.43 1059.91,157.87 1060.57,158.31 1061.22,158.74 1061.88,159.16 1062.54,159.58 1063.19,159.98 1063.85,160.37 1064.51,160.76 1065.16,161.13 1065.82,161.49 1066.48,161.85 1067.14,162.18 1067.79,162.51 1068.45,162.82 1069.11,163.12 1069.76,163.41 1070.42,163.68 1071.08,163.94 1071.73,164.18 1072.39,164.40 1073.05,164.62 1073.71,164.81 1074.36,164.99 1075.02,165.16 1075.68,165.31 1076.33,165.44 1076.99,165.55 1077.65,165.65 1078.30,165.74 1078.96,165.80 1079.62,165.85 1080.27,165.89 1080.93,165.90 1081.59,165.90 1082.25,165.89 1082.90,165.86 1083.56,165.81 1084.22,165.74 1084.87,165.66 1085.53,165.56 1086.19,165.45 1086.84,165.32 1087.50,165.18 1088.16,165.02 1088.82,164.85 1089.47,164.66 1090.13,164.46 1090.79,164.24 1091.44,164.01 1092.10,163.77 1092.76,163.51 1093.41,163.24 1094.07,162.96 1094.73,162.66 1095.38,162.36 1096.04,162.04 1096.70,161.71 1097.36,161.37 1098.01,161.02 1098.67,160.67 1099.33,160.30 1099.98,159.92 1100.64,159.54 1101.30,159.15 1101.95,158.75 1102.61,158.35 1103.27,157.94 1103.92,157.52 1104.58,157.10 1105.24,156.68 1105.90,156.25 1106.55,155.82 1107.21,155.38 1107.87,154.95 1108.52,154.51 1109.18,154.07 1109.84,153.64 1110.49,153.20 1111.15,152.77 1111.81,152.33 1112.47,151.90 1113.12,151.47 1113.78,151.05 1114.44,150.63 1115.09,150.22 1115.75,149.81 1116.41,149.41 1117.06,149.01 1117.72,148.63 1118.38,148.25 1119.03,147.88 1119.69,147.51 1120.35,147.16 1121.01,146.82 1121.66,146.49 1122.32,146.17 1122.98,145.86 1123.63,145.57 1124.29,145.29 1124.95,145.02 1125.60,144.76 1126.26,144.52 1126.92,144.29 1127.57,144.08 1128.23,143.88 1128.89,143.69 1129.55,143.52 1130.20,143.37 1130.86,143.23 1131.52,143.11 1132.17,143.00 1132.83,142.91 1133.49,142.83 1134.14,142.77 1134.80,142.72 1135.46,142.69 1136.12,142.68 1136.77,142.67 1137.43,142.69 1138.09,142.71 1138.74,142.75 1139.40,142.81 1140.06,142.87 1140.71,142.95 1141.37,143.04 1142.03,143.14 1142.68,143.25 1143.34,143.37 1144.00,143.51 1144.66,143.64 1145.31,143.79 1145.97,143.94 1146.63,144.10 1147.28,144.27 1147.94,144.44 1148.60,144.61 1149.25,144.79 1149.91,144.96 1150.57,145.14 1151.23,145.31 1151.88,145.49 1152.54,145.66 1153.20,145.83 1153.85,146.00 1154.51,146.15 1155.17,146.31 1155.82,146.45 1156.48,146.59 1157.14,146.71 1157.79,146.83 1158.45,146.93 1159.11,147.02 1159.77,147.10 1160.42,147.16 1161.08,147.21 1161.74,147.24 1162.39,147.25 1163.05,147.25 1163.71,147.22 1164.36,147.18 1165.02,147.12 1165.68,147.03 1166.33,146.93 1166.99,146.80 1167.65,146.65 1168.31,146.48 1168.96,146.28 1169.62,146.06 1170.28,145.81 1170.93,145.55 1171.59,145.25 1172.25,144.94 1172.90,144.60 1173.56,144.23 1174.22,143.84 1174.88,143.43 1175.53,142.99 1176.19,142.53 1176.85,142.05 1177.50,141.55 1178.16,141.02 1178.82,140.48 1179.47,139.91 1180.13,139.32 1180.79,138.72 1181.44,138.10 1182.10,137.46 1182.76,136.81 1183.42,136.14 1184.07,135.46 1184.73,134.76 1185.39,134.06 1186.04,133.35 1186.70,132.62 1187.36,131.90 1188.01,131.16 1188.67,130.43 1189.33,129.69 1189.98,128.95 1190.64,128.21 1191.30,127.48 1191.96,126.75 1192.61,126.03 1193.27,125.31 1193.93,124.61 1194.58,123.91 1195.24,123.23 1195.90,122.57 1196.55,121.92 1197.21,121.29 1197.87,120.68 1198.53,120.09 1199.18,119.52 1199.84,118.98 1200.50,118.47 1201.15,117.98 1201.81,117.52 1202.47,117.10 1203.12,116.71 1203.78,116.35 1204.44,116.02 1205.09,115.74 1205.75,115.49 1206.41,115.28 1207.07,115.10 1207.72,114.97 1208.38,114.89 1209.04,114.84 1209.69,114.84 1210.35,114.88 1211.01,114.96 1211.66,115.10 1212.32,115.27 1212.98,115.50 1213.63,115.76 1213.63,228.60" fill="#00BFC4" fill-opacity="0.3" stroke="#00BFC4" stroke-width="1" stroke-linejoin="round"/>
</g>
<text x="1045.5" y="24.8" font-size="12" fill="#1A1A1A" text-anchor="middle">clump_thickness</text>
<text class="t" x="854.5" y="234" font-size="12" fill="#4D4D4D" text-anchor="end">0.0</text>
<text class="t" x="854.5" y="169" font-size="12" fill="#4D4D4D" text-anchor="end">0.1</text>
<text class="t" x="854.5" y="104" font-size="12" fill="#4D4D4D" text-anchor="end">0.2</text>
<text class="t" x="854.5" y="38" font-size="12" fill="#4D4D4D" text-anchor="end">0.3</text>
<text class="t" x="932.9" y="255" font-size="12" fill="#4D4D4D" text-anchor="middle">2.5</text>
<text class="t" x="1026.1" y="255" font-size="12" fill="#4D4D4D" text-anchor="middle">5.0</text>
<text class="t" x="1119.4" y="255" font-size="12" fill="#4D4D4D" text-anchor="middle">7.5</text>
<text class="t" x="1212.6" y="255" font-size="12" fill="#4D4D4D" text-anchor="middle">10.0</text>
<g shape-rendering="crispEdges">
<rect x="60" y="261" width="369" height="25" fill="#D9D9D9"/>
<rect x="60" y="286" width="369" height="206" fill="#EBEBEB"/>
<path d="M60 482.5H429M60 452.5H429M60 422.5H429M60 392.5H429M60 361.5H429M60 331.5H429M60 301.5H429M86.5 286V492M132.5 286V492M179.5 286V492M226.5 286V492M272.5 286V492M319.5 286V492M366.5 286V492M412.5 286V492" stroke="#fff" stroke-width="1" fill="none"/>
<path d="M56 482.5H60M56 422.5H60M56 361.5H60M56 301.5H60M132.5 492V496M226.5 492V496M319.5 492V496M412.5 492V496" stroke="#333" stroke-width="1" fill="none"/>
<polygon points="76.94,482.90 76.94,295.80 77.59,296.21 78.25,297.44 78.91,299.47 79.56,302.27 80.22,305.82 80.88,310.05 81.53,314.93 82.19,320.38 82.85,326.34 83.50,332.74 84.16,339.51 84.82,346.56 85.48,353.83 86.13,361.23 86.79,368.69 87.45,376.15 88.10,383.53 88.76,390.77 89.42,397.83 90.07,404.64 90.73,411.18 91.39,417.39 92.04,423.26 92.70,428.76 93.36,433.88 94.02,438.60 94.67,442.92 95.33,446.84 95.99,450.36 96.64,453.50 97.30,456.27 97.96,458.68 98.61,460.75 99.27,462.50 99.93,463.96 100.59,465.14 101.24,466.07 101.90,466.77 102.56,467.27 103.21,467.58 103.87,467.74 104.53,467.77 105.18,467.68 105.84,467.50 106.50,467.26 107.15,466.95 107.81,466.62 108.47,466.27 109.13,465.91 109.78,465.57 110.44,465.25 111.10,464.97 111.75,464.74 112.41,464.56 113.07,464.44 113.72,464.38 114.38,464.40 115.04,464.48 115.69,464.64 116.35,464.87 117.01,465.17 117.67,465.54 118.32,465.97 118.98,466.46 119.64,467.00 120.29,467.58 120.95,468.20 121.61,468.85 122.26,469.52 122.92,470.20 123.58,470.89 124.24,471.57 124.89,472.24 125.55,472.90 126.21,473.53 126.86,474.12 127.52,474.68 128.18,475.20 128.83,475.67 129.49,476.08 130.15,476.44 130.80,476.74 131.46,476.99 132.12,477.16 132.78,477.28 133.43,477.33 134.09,477.32 134.75,477.25 135.40,477.11 136.06,476.92 136.72,476.67 137.37,476.37 138.03,476.03 138.69,475.63 139.34,475.20 140.00,474.74 140.66,474.25 141.32,473.73 141.97,473.21 142.63,472.67 143.29,472.13 143.94,471.60 144.60,471.08 145.26,470.58 145.91,470.11 146.57,469.67 147.23,469.27 147.89,468.92 148.54,468.62 149.20,468.37 149.86,468.18 150.51,468.05 151.17,467.98 151.83,467.98 152.48,468.05 153.14,468.18 153.80,468.37 154.45,468.62 155.11,468.93 155.77,469.29 156.43,469.70 157.08,470.15 157.74,470.64 158.40,471.17 159.05,471.72 159.71,472.29 160.37,472.87 161.02,473.46 161.68,474.06 162.34,474.65 163.00,475.23 163.65,475.80 164.31,476.35 164.97,476.88 165.62,477.39 166.28,477.87 166.94,478.32 167.59,478.74 168.25,479.13 168.91,479.49 169.56,479.81 170.22,480.10 170.88,480.37 171.54,480.59 172.19,480.79 172.85,480.97 173.51,481.11 174.16,481.23 174.82,481.33 175.48,481.40 176.13,481.46 176.79,481.49 177.45,481.51 178.10,481.52 178.76,481.52 179.42,481.50 180.08,481.48 180.73,481.45 181.39,481.42 182.05,481.38 182.70,481.34 183.36,481.31 184.02,481.27 184.67,481.24 185.33,481.20 185.99,481.18 186.65,481.16 187.30,481.14 187.96,481.13 188.62,481.13 189.27,481.13 189.93,481.14 190.59,481.16 191.24,481.18 191.90,481.22 192.56,481.25 193.21,481.30 193.87,481.35 194.53,481.40 195.19,481.46 195.84,481.52 196.50,481.58 197.16,481.65 197.81,481.71 198.47,481.78 199.13,481.85 199.78,481.91 200.44,481.98 201.10,482.04 201.75,482.09 202.41,482.15 203.07,482.20 203.73,482.24 204.38,482.28 205.04,482.32 205.70,482.35 206.35,482.37 207.01,482.39 207.67,482.40 208.32,482.41 208.98,482.41 209.64,482.41 210.30,482.40 210.95,482.38 211.61,482.37 212.27,482.34 212.92,482.31 213.58,482.28 214.24,482.25 214.89,482.21 215.55,482.17 216.21,482.13 216.86,482.09 217.52,482.05 218.18,482.00 218.84,481.96 219.49,481.92 220.15,481.88 220.81,481.84 221.46,481.81 222.12,481.78 222.78,481.75 223.43,481.73 224.09,481.71 224.75,481.70 225.41,481.69 226.06,481.69 226.72,481.69 227.38,481.70 228.03,481.71 228.69,481.73 229.35,481.75 230.00,481.77 230.66,481.80 231.32,481.84 231.97,481.87 232.63,481.91 233.29,481.95 233.95,481.99 234.60,482.03 235.26,482.08 235.92,482.12 236.57,482.16 237.23,482.20 237.89,482.24 238.54,482.27 239.20,482.30 239.86,482.33 240.51,482.35 241.17,482.37 241.83,482.38 242.49,482.39 243.14,482.39 243.80,482.39 244.46,482.38 245.11,482.36 245.77,482.34 246.43,482.31 247.08,482.28 247.74,482.24 248.40,482.20 249.06,482.15 249.71,482.10 250.37,482.04 251.03,481.97 251.68,481.91 252.34,481.84 253.00,481.77 253.65,481.70 254.31,481.62 254.97,481.55 255.62,481.48 256.28,481.41 256.94,481.34 257.60,481.28 258.25,481.22 258.91,481.16 259.57,481.11 260.22,481.07 260.88,481.04 261.54,481.01 262.19,480.99 262.85,480.98 263.51,480.97 264.16,480.98 264.82,480.99 265.48,481.02 266.14,481.04 266.79,481.08 267.45,481.13 268.11,481.18 268.76,481.23 269.42,481.30 270.08,481.36 270.73,481.43 271.39,481.51 272.05,481.58 272.71,481.66 273.36,481.73 274.02,481.81 274.68,481.89 275.33,481.96 275.99,482.03 276.65,482.10 277.30,482.17 277.96,482.24 278.62,482.30 279.27,482.35 279.93,482.41 280.59,482.45 281.25,482.50 281.90,482.54 282.56,482.58 283.22,482.61 283.87,482.64 284.53,482.66 285.19,482.69 285.84,482.70 286.50,482.72 287.16,482.73 287.82,482.74 288.47,482.75 289.13,482.76 289.79,482.76 290.44,482.77 291.10,482.77 291.76,482.77 292.41,482.77 293.07,482.77 293.73,482.77 294.38,482.76 295.04,482.76 295.70,482.76 296.36,482.76 297.01,482.75 297.67,482.75 298.33,482.75 298.98,482.75 299.64,482.75 300.30,482.75 300.95,482.75 301.61,482.75 302.27,482.75 302.92,482.75 303.58,482.76 304.24,482.76 304.90,482.76 305.55,482.77 306.21,482.77 306.87,482.78 307.52,482.78 308.18,482.79 308.84,482.79 309.49,482.80 310.15,482.80 310.81,482.81 311.47,482.82 312.12,482.82 312.78,482.83 313.44,482.83 314.09,482.84 314.75,482.85 315.41,482.85 316.06,482.86 316.72,482.86 317.38,482.86 318.03,482.87 318.69,482.87 319.35,482.87 320.01,482.88 320.66,482.88 321.32,482.88 321.98,482.89 322.63,482.89 323.29,482.89 323.95,482.89 324.60,482.89 325.26,482.89 325.92,482.89 326.57,482.90 327.23,482.90 327.89,482.90 328.55,482.90 329.20,482.90 329.86,482.90 330.52,482.90 331.17,482.90 331.83,482.90 332.49,482.90 333.14,482.90 333.80,482.90 334.46,482.90 335.12,482.90 335.77,482.90 336.43,482.90 337.09,482.90 337.74,482.90 338.40,482.90 339.06,482.90 339.71,482.90 340.37,482.90 341.03,482.90 341.68,482.90 342.34,482.90 343.00,482.90 343.66,482.90 344.31,482.90 344.97,482.90 345.63,482.90 346.28,482.90 346.94,482.90 347.60,482.90 348.25,482.90 348.91,482.90 349.57,482.90 350.23,482.90 350.88,482.90 351.54,482.90 352.20,482.90 352.85,482.90 353.51,482.90 354.17,482.90 354.82,482.90 355.48,482.90 356.14,482.90 356.79,482.90 357.45,482.90 358.11,482.90 358.77,482.90 359.42,482.90 360.08,482.90 360.74,482.90 361.39,482.90 362.05,482.90 362.71,482.90 363.36,482.90 364.02,482.90 364.68,482.90 365.33,482.90 365.99,482.90 366.65,482.90 367.31,482.90 367.96,482.90 368.62,482.90 369.28,482.90 369.93,482.90 370.59,482.90 371.25,482.90 371.90,482.90 372.56,482.90 373.22,482.90 373.88,482.90 374.53,482.90 375.19,482.90 375.85,482.90 376.50,482.90 377.16,482.90 377.82,482.90 378.47,482.90 379.13,482.90 379.79,482.90 380.44,482.90 381.10,482.90 381.76,482.90 382.42,482.90 383.07,482.90 383.73,482.90 384.39,482.90 385.04,482.90 385.70,482.90 386.36,482.90 387.01,482.89 387.67,482.89 388.33,482.89 388.98,482.89 389.64,482.89 390.30,482.89 390.96,482.89 391.61,482.88 392.27,482.88 392.93,482.88 393.58,482.88 394.24,482.87 394.90,482.87 395.55,482.87 396.21,482.86 396.87,482.86 397.53,482.85 398.18,482.85 398.84,482.84 399.50,482.84 400.15,482.83 400.81,482.83 401.47,482.82 402.12,482.81 402.78,482.81 403.44,482.80 404.09,482.80 404.75,482.79 405.41,482.78 406.07,482.78 406.72,482.77 407.38,482.77 408.04,482.76 408.69,482.76 409.35,482.76 410.01,482.75 410.66,482.75 411.32,482.75 411.98,482.75 412.63,482.75 412.63,482.90" fill="#F8766D" fill-opacity="0.3" stroke="#F8766D" stroke-width="1" stroke-linejoin="round"/>
<polygon points="76.94,482.90 76.94,470.74 77.59,470.66 78.25,470.58 78.91,470.50 79.56,470.43 80.22,470.35 80.88,470.28 81.53,470.21 82.19,470.14 82.85,470.08 83.50,470.01 84.16,469.95 84.82,469.89 85.48,469.83 86.13,469.77 86.79,469.71 87.45,469.66 88.10,469.60 88.76,469.55 89.42,469.50 90.07,469.45 90.73,469.40 91.39,469.36 92.04,469.31 92.70,469.27 93.36,469.22 94.02,469.18 94.67,469.14 95.33,469.10 95.99,469.06 96.64,469.02 97.30,468.99 97.96,468.95 98.61,468.92 99.27,468.88 99.93,468.85 100.59,468.81 101.24,468.78 101.90,468.75 102.56,468.72 103.21,468.69 103.87,468.66 104.53,468.63 105.18,468.60 105.84,468.57 106.50,468.54 107.15,468.51 107.81,468.48 108.47,468.46 109.13,468.43 109.78,468.40 110.44,468.37 111.10,468.34 111.75,468.32 112.41,468.29 113.07,468.26 113.72,468.24 114.38,468.21 115.04,468.18 115.69,468.15 116.35,468.13 117.01,468.10 117.67,468.07 118.32,468.04 118.98,468.02 119.64,467.99 120.29,467.96 120.95,467.93 121.61,467.91 122.26,467.88 122.92,467.85 123.58,467.82 124.24,467.79 124.89,467.77 125.55,467.74 126.21,467.71 126.86,467.68 127.52,467.66 128.18,467.63 128.83,467.60 129.49,467.57 130.15,467.55 130.80,467.52 131.46,467.49 132.12,467.46 132.78,467.44 133.43,467.41 134.09,467.39 134.75,467.36 135.40,467.33 136.06,467.31 136.72,467.29 137.37,467.26 138.03,467.24 138.69,467.22 139.34,467.19 140.00,467.17 140.66,467.15 141.32,467.13 141.97,467.11 142.63,467.09 143.29,467.07 143.94,467.05 144.60,467.03 145.26,467.02 145.91,467.00 146.57,466.99 147.23,466.97 147.89,466.96 148.54,466.94 149.20,466.93 149.86,466.92 150.51,466.91 151.17,466.90 151.83,466.89 152.48,466.89 153.14,466.88 153.80,466.87 154.45,466.87 155.11,466.86 155.77,466.86 156.43,466.86 157.08,466.86 157.74,466.86 158.40,466.86 159.05,466.86 159.71,466.86 160.37,466.87 161.02,466.87 161.68,466.87 162.34,466.88 163.00,466.89 163.65,466.89 164.31,466.90 164.97,466.91 165.62,466.92 166.28,466.93 166.94,466.94 167.59,466.96 168.25,466.97 168.91,466.98 169.56,467.00 170.22,467.01 170.88,467.03 171.54,467.04 172.19,467.06 172.85,467.08 173.51,467.09 174.16,467.11 174.82,467.13 175.48,467.15 176.13,467.17 176.79,467.19 177.45,467.21 178.10,467.23 178.76,467.25 179.42,467.27 180.08,467.29 180.73,467.31 181.39,467.34 182.05,467.36 182.70,467.38 183.36,467.41 184.02,467.43 184.67,467.45 185.33,467.48 185.99,467.50 186.65,467.53 187.30,467.55 187.96,467.57 188.62,467.60 189.27,467.62 189.93,467.65 190.59,467.67 191.24,467.70 191.90,467.73 192.56,467.75 193.21,467.78 193.87,467.80 194.53,467.83 195.19,467.86 195.84,467.89 196.50,467.91 197.16,467.94 197.81,467.97 198.47,468.00 199.13,468.02 199.78,468.05 200.44,468.08 201.10,468.11 201.75,468.14 202.41,468.17 203.07,468.20 203.73,468.23 204.38,468.26 205.04,468.29 205.70,468.33 206.35,468.36 207.01,468.39 207.67,468.42 208.32,468.46 208.98,468.49 209.64,468.53 210.30,468.56 210.95,468.60 211.61,468.63 212.27,468.67 212.92,468.71 213.58,468.75 214.24,468.79 214.89,468.83 215.55,468.87 216.21,468.91 216.86,468.95 217.52,468.99 218.18,469.03 218.84,469.08 219.49,469.12 220.15,469.17 220.81,469.21 221.46,469.26 222.12,469.30 222.78,469.35 223.43,469.40 224.09,469.45 224.75,469.50 225.41,469.55 226.06,469.60 226.72,469.65 227.38,469.70 228.03,469.76 228.69,469.81 229.35,469.86 230.00,469.92 230.66,469.97 231.32,470.03 231.97,470.08 232.63,470.14 233.29,470.19 233.95,470.25 234.60,470.31 235.26,470.36 235.92,470.42 236.57,470.48 237.23,470.54 237.89,470.59 238.54,470.65 239.20,470.71 239.86,470.77 240.51,470.82 241.17,470.88 241.83,470.94 242.49,471.00 243.14,471.05 243.80,471.11 244.46,471.17 245.11,471.22 245.77,471.28 246.43,471.33 247.08,471.39 247.74,471.44 248.40,471.50 249.06,471.55 249.71,471.60 250.37,471.65 251.03,471.70 251.68,471.75 252.34,471.80 253.00,471.85 253.65,471.90 254.31,471.94 254.97,471.99 255.62,472.03 256.28,472.08 256.94,472.12 257.60,472.16 258.25,472.20 258.91,472.24 259.57,472.28 260.22,472.31 260.88,472.35 261.54,472.38 262.19,472.41 262.85,472.44 263.51,472.47 264.16,472.50 264.82,472.53 265.48,472.56 266.14,472.58 266.79,472.60 267.45,472.63 268.11,472.65 268.76,472.67 269.42,472.68 270.08,472.70 270.73,472.72 271.39,472.73 272.05,472.74 272.71,472.75 273.36,472.76 274.02,472.77 274.68,472.78 275.33,472.79 275.99,472.79 276.65,472.80 277.30,472.80 277.96,472.80 278.62,472.80 279.27,472.80 279.93,472.80 280.59,472.80 281.25,472.79 281.90,472.79 282.56,472.78 283.22,472.78 283.87,472.77 284.53,472.76 285.19,472.76 285.84,472.75 286.50,472.74 287.16,472.73 287.82,472.72 288.47,472.70 289.13,472.69 289.79,472.68 290.44,472.67 291.10,472.66 291.76,472.64 292.41,472.63 293.07,472.61 293.73,472.60 294.38,472.59 295.04,472.57 295.70,472.56 296.36,472.54 297.01,472.53 297.67,472.51 298.33,472.50 298.98,472.49 299.64,472.47 300.30,472.46 300.95,472.44 301.61,472.43 302.27,472.42 302.92,472.41 303.58,472.39 304.24,472.38 304.90,472.37 305.55,472.36 306.21,472.35 306.87,472.33 307.52,472.32 308.18,472.31 308.84,472.30 309.49,472.30 310.15,472.29 310.81,472.28 311.47,472.27 312.12,472.26 312.78,472.26 313.44,472.25 314.09,472.24 314.75,472.24 315.41,472.23 316.06,472.23 316.72,472.22 317.38,472.22 318.03,472.22 318.69,472.21 319.35,472.21 320.01,472.21 320.66,472.21 321.32,472.20 321.98,472.20 322.63,472.20 323.29,472.20 323.95,472.20 324.60,472.20 325.26,472.20 325.92,472.20 326.57,472.20 327.23,472.20 327.89,472.20 328.55,472.20 329.20,472.19 329.86,472.19 330.52,472.19 331.17,472.19 331.83,472.19 332.49,472.19 333.14,472.18 333.80,472.18 334.46,472.18 335.12,472.18 335.77,472.17 336.43,472.17 337.09,472.16 337.74,472.15 338.40,472.15 339.06,472.14 339.71,472.13 340.37,472.12 341.03,472.11 341.68,472.10 342.34,472.09 343.00,472.07 343.66,472.06 344.31,472.04 344.97,472.03 345.63,472.01 346.28,471.99 346.94,471.97 347.60,471.95 348.25,471.92 348.91,471.90 349.57,471.87 350.23,471.85 350.88,471.82 351.54,471.79 352.20,471.76 352.85,471.72 353.51,471.69 354.17,471.65 354.82,471.61 355.48,471.57 356.14,471.53 356.79,471.49 357.45,471.45 358.11,471.40 358.77,471.35 359.42,471.30 360.08,471.25 360.74,471.20 361.39,471.15 362.05,471.09 362.71,471.03 363.36,470.98 364.02,470.92 364.68,470.85 365.33,470.79 365.99,470.73 366.65,470.66 367.31,470.60 367.96,470.53 368.62,470.46 369.28,470.39 369.93,470.32 370.59,470.24 371.25,470.17 371.90,470.10 372.56,470.02 373.22,469.95 373.88,469.87 374.53,469.79 375.19,469.72 375.85,469.64 376.50,469.56 377.16,469.48 377.82,469.40 378.47,469.32 379.13,469.24 379.79,469.17 380.44,469.09 381.10,469.01 381.76,468.93 382.42,468.85 383.07,468.78 383.73,468.70 384.39,468.62 385.04,468.55 385.70,468.48 386.36,468.40 387.01,468.33 387.67,468.26 388.33,468.19 388.98,468.13 389.64,468.06 390.30,468.00 390.96,467.94 391.61,467.88 392.27,467.82 392.93,467.76 393.58,467.71 394.24,467.66 394.90,467.61 395.55,467.57 396.21,467.52 396.87,467.48 397.53,467.45 398.18,467.41 398.84,467.38 399.50,467.35 400.15,467.33 400.81,467.30 401.47,467.29 402.12,467.27 402.78,467.26 403.44,467.25 404.09,467.25 404.75,467.24 405.41,467.25 406.07,467.25 406.72,467.26 407.38,467.28 408.04,467.30 408.69,467.32 409.35,467.34 410.01,467.37 410.66,467.41 411.32,467.44 411.98,467.49 412.63,467.53 412.63,482.90" fill="#00BFC4" fill-opacity="0.3" stroke="#00BFC4" stroke-width="1" stroke-linejoin="round"/>
</g>
<text x="244.5" y="279.7" font-size="12" fill="#1A1A1A" text-anchor="middle">marginal_adhesion</text>
<text class="t" x="52.9" y="488" font-size="12" fill="#4D4D4D" text-anchor="end">0.0</text>
<text class="t" x="52.9" y="428" font-size="12" fill="#4D4D4D" text-anchor="end">0.4</text>
<text class="t" x="52.9" y="367" font-size="12" fill="#4D4D4D" text-anchor="end">0.8</text>
<text class="t" x="52.9" y="307" font-size="12" fill="#4D4D4D" text-anchor="end">1.2</text>
<text class="t" x="131.9" y="510" font-size="12" fill="#4D4D4D" text-anchor="middle">2.5</text>
<text class="t" x="225.1" y="510" font-size="12" fill="#4D4D4D" text-anchor="middle">5.0</text>
<text class="t" x="318.4" y="510" font-size="12" fill="#4D4D4D" text-anchor="middle">7.5</text>
<text class="t" x="411.6" y="510" font-size="12" fill="#4D4D4D" text-anchor="middle">10.0</text>
<g shape-rendering="crispEdges">
<rect x="460" y="261" width="370" height="25" fill="#D9D9D9"/>
<rect x="460" y="286" width="370" height="206" fill="#EBEBEB"/>
<path d="M460 482.5H830M460 450.5H830M460 418.5H830M460 386.5H830M460 354.5H830M460 322.5H830M460 290.5H830M486.5 286V492M533.5 286V492M580.5 286V492M626.5 286V492M673.5 286V492M720.5 286V492M766.5 286V492M813.5 286V492" stroke="#fff" stroke-width="1" fill="none"/>
<path d="M456 482.5H460M456 418.5H460M456 354.5H460M456 290.5H460M533.5 492V496M626.5 492V496M720.5 492V496M813.5 492V496" stroke="#333" stroke-width="1" fill="none"/>
<polygon points="477.64,482.90 477.64,295.80 478.29,297.41 478.95,302.15 479.61,309.79 480.26,319.95 480.92,332.14 481.58,345.80 482.23,360.37 482.89,375.26 483.55,389.96 484.20,404.03 484.86,417.11 485.52,428.96 486.18,439.44 486.83,448.48 487.49,456.11 488.15,462.40 488.80,467.49 489.46,471.51 490.12,474.62 490.77,476.99 491.43,478.75 492.09,480.04 492.74,480.96 493.40,481.61 494.06,482.05 494.72,482.35 495.37,482.55 496.03,482.68 496.69,482.76 497.34,482.81 498.00,482.84 498.66,482.86 499.31,482.86 499.97,482.86 500.63,482.84 501.29,482.82 501.94,482.79 502.60,482.75 503.26,482.69 503.91,482.62 504.57,482.53 505.23,482.42 505.88,482.28 506.54,482.12 507.20,481.94 507.85,481.73 508.51,481.50 509.17,481.26 509.83,481.01 510.48,480.75 511.14,480.51 511.80,480.28 512.45,480.08 513.11,479.91 513.77,479.79 514.42,479.72 515.08,479.71 515.74,479.75 516.39,479.84 517.05,479.98 517.71,480.16 518.37,480.38 519.02,480.61 519.68,480.86 520.34,481.12 520.99,481.37 521.65,481.60 522.31,481.82 522.96,482.02 523.62,482.19 524.28,482.34 524.94,482.47 525.59,482.57 526.25,482.65 526.91,482.72 527.56,482.77 528.22,482.81 528.88,482.83 529.53,482.86 530.19,482.87 530.85,482.88 531.50,482.89 532.16,482.89 532.82,482.89 533.48,482.90 534.13,482.90 534.79,482.90 535.45,482.90 536.10,482.90 536.76,482.90 537.42,482.90 538.07,482.89 538.73,482.89 539.39,482.89 540.04,482.88 540.70,482.88 541.36,482.87 542.02,482.86 542.67,482.85 543.33,482.83 543.99,482.82 544.64,482.80 545.30,482.78 545.96,482.75 546.61,482.73 547.27,482.70 547.93,482.68 548.59,482.66 549.24,482.63 549.90,482.61 550.56,482.60 551.21,482.59 551.87,482.58 552.53,482.58 553.18,482.59 553.84,482.60 554.50,482.61 555.15,482.63 555.81,482.65 556.47,482.68 557.13,482.70 557.78,482.73 558.44,482.75 559.10,482.78 559.75,482.80 560.41,482.82 561.07,482.83 561.72,482.85 562.38,482.86 563.04,482.87 563.70,482.88 564.35,482.88 565.01,482.89 565.67,482.89 566.32,482.89 566.98,482.90 567.64,482.90 568.29,482.90 568.95,482.90 569.61,482.90 570.26,482.90 570.92,482.90 571.58,482.90 572.24,482.90 572.89,482.90 573.55,482.90 574.21,482.90 574.86,482.90 575.52,482.90 576.18,482.90 576.83,482.90 577.49,482.90 578.15,482.90 578.80,482.90 579.46,482.90 580.12,482.90 580.78,482.90 581.43,482.90 582.09,482.90 582.75,482.90 583.40,482.90 584.06,482.90 584.72,482.90 585.37,482.90 586.03,482.90 586.69,482.90 587.35,482.90 588.00,482.90 588.66,482.90 589.32,482.90 589.97,482.90 590.63,482.90 591.29,482.90 591.94,482.90 592.60,482.90 593.26,482.90 593.91,482.90 594.57,482.90 595.23,482.90 595.89,482.90 596.54,482.90 597.20,482.90 597.86,482.90 598.51,482.90 599.17,482.90 599.83,482.90 600.48,482.90 601.14,482.90 601.80,482.90 602.45,482.90 603.11,482.90 603.77,482.90 604.43,482.90 605.08,482.90 605.74,482.90 606.40,482.90 607.05,482.90 607.71,482.90 608.37,482.90 609.02,482.90 609.68,482.90 610.34,482.90 611.00,482.90 611.65,482.90 612.31,482.90 612.97,482.90 613.62,482.90 614.28,482.90 614.94,482.90 615.59,482.90 616.25,482.90 616.91,482.90 617.56,482.90 618.22,482.90 618.88,482.90 619.54,482.90 620.19,482.90 620.85,482.90 621.51,482.90 622.16,482.90 622.82,482.90 623.48,482.90 624.13,482.90 624.79,482.90 625.45,482.90 626.11,482.90 626.76,482.90 627.42,482.90 628.08,482.90 628.73,482.90 629.39,482.90 630.05,482.90 630.70,482.90 631.36,482.90 632.02,482.90 632.67,482.90 633.33,482.90 633.99,482.90 634.65,482.90 635.30,482.90 635.96,482.90 636.62,482.90 637.27,482.90 637.93,482.90 638.59,482.90 639.24,482.90 639.90,482.90 640.56,482.90 641.21,482.90 641.87,482.90 642.53,482.90 643.19,482.90 643.84,482.90 644.50,482.90 645.16,482.90 645.81,482.90 646.47,482.90 647.13,482.90 647.78,482.90 648.44,482.90 649.10,482.90 649.76,482.90 650.41,482.90 651.07,482.90 651.73,482.90 652.38,482.90 653.04,482.90 653.70,482.90 654.35,482.90 655.01,482.90 655.67,482.90 656.32,482.90 656.98,482.90 657.64,482.90 658.30,482.90 658.95,482.90 659.61,482.90 660.27,482.90 660.92,482.90 661.58,482.90 662.24,482.90 662.89,482.90 663.55,482.90 664.21,482.90 664.86,482.90 665.52,482.90 666.18,482.90 666.84,482.90 667.49,482.90 668.15,482.90 668.81,482.90 669.46,482.90 670.12,482.90 670.78,482.90 671.43,482.90 672.09,482.90 672.75,482.90 673.41,482.90 674.06,482.90 674.72,482.90 675.38,482.90 676.03,482.90 676.69,482.90 677.35,482.90 678.00,482.90 678.66,482.90 679.32,482.90 679.97,482.90 680.63,482.90 681.29,482.90 681.95,482.90 682.60,482.90 683.26,482.90 683.92,482.90 684.57,482.90 685.23,482.90 685.89,482.90 686.54,482.90 687.20,482.90 687.86,482.90 688.52,482.89 689.17,482.89 689.83,482.89 690.49,482.88 691.14,482.88 691.80,482.87 692.46,482.86 693.11,482.85 693.77,482.84 694.43,482.83 695.08,482.81 695.74,482.80 696.40,482.78 697.06,482.77 697.71,482.75 698.37,482.74 699.03,482.73 699.68,482.72 700.34,482.71 701.00,482.71 701.65,482.71 702.31,482.71 702.97,482.72 703.62,482.73 704.28,482.74 704.94,482.75 705.60,482.76 706.25,482.78 706.91,482.79 707.57,482.81 708.22,482.82 708.88,482.84 709.54,482.85 710.19,482.86 710.85,482.87 711.51,482.87 712.17,482.88 712.82,482.89 713.48,482.89 714.14,482.89 714.79,482.89 715.45,482.90 716.11,482.90 716.76,482.90 717.42,482.90 718.08,482.90 718.73,482.90 719.39,482.90 720.05,482.90 720.71,482.90 721.36,482.90 722.02,482.90 722.68,482.90 723.33,482.90 723.99,482.90 724.65,482.90 725.30,482.89 725.96,482.89 726.62,482.89 727.27,482.89 727.93,482.88 728.59,482.88 729.25,482.87 729.90,482.86 730.56,482.85 731.22,482.84 731.87,482.83 732.53,482.81 733.19,482.80 733.84,482.78 734.50,482.77 735.16,482.75 735.82,482.74 736.47,482.73 737.13,482.72 737.79,482.71 738.44,482.71 739.10,482.71 739.76,482.71 740.41,482.72 741.07,482.73 741.73,482.74 742.38,482.75 743.04,482.77 743.70,482.78 744.36,482.80 745.01,482.81 745.67,482.83 746.33,482.84 746.98,482.85 747.64,482.86 748.30,482.87 748.95,482.88 749.61,482.88 750.27,482.89 750.93,482.89 751.58,482.89 752.24,482.90 752.90,482.90 753.55,482.90 754.21,482.90 754.87,482.90 755.52,482.90 756.18,482.90 756.84,482.90 757.49,482.90 758.15,482.90 758.81,482.90 759.47,482.90 760.12,482.90 760.78,482.90 761.44,482.90 762.09,482.90 762.75,482.90 763.41,482.90 764.06,482.90 764.72,482.90 765.38,482.90 766.03,482.90 766.69,482.90 767.35,482.90 768.01,482.90 768.66,482.90 769.32,482.90 769.98,482.90 770.63,482.90 771.29,482.90 771.95,482.90 772.60,482.90 773.26,482.90 773.92,482.90 774.58,482.90 775.23,482.90 775.89,482.90 776.55,482.90 777.20,482.90 777.86,482.90 778.52,482.90 779.17,482.90 779.83,482.90 780.49,482.90 781.14,482.90 781.80,482.90 782.46,482.90 783.12,482.90 783.77,482.90 784.43,482.90 785.09,482.90 785.74,482.90 786.40,482.90 787.06,482.90 787.71,482.90 788.37,482.90 789.03,482.90 789.68,482.90 790.34,482.90 791.00,482.90 791.66,482.90 792.31,482.90 792.97,482.90 793.63,482.90 794.28,482.90 794.94,482.90 795.60,482.90 796.25,482.90 796.91,482.90 797.57,482.90 798.23,482.90 798.88,482.90 799.54,482.90 800.20,482.90 800.85,482.90 801.51,482.90 802.17,482.90 802.82,482.90 803.48,482.90 804.14,482.90 804.79,482.90 805.45,482.90 806.11,482.90 806.77,482.90 807.42,482.90 808.08,482.90 808.74,482.90 809.39,482.90 810.05,482.90 810.71,482.90 811.36,482.90 812.02,482.90 812.68,482.90 813.34,482.90 813.34,482.90" fill="#F8766D" fill-opacity="0.3" stroke="#F8766D" stroke-width="1" stroke-linejoin="round"/>
<polygon points="477.64,482.90 477.64,450.58 478.29,450.56 478.95,450.60 479.61,450.68 480.26,450.81 480.92,450.99 481.58,451.21 482.23,451.48 482.89,451.80 483.55,452.15 484.20,452.54 484.86,452.97 485.52,453.43 486.18,453.93 486.83,454.45 487.49,454.99 488.15,455.56 488.80,456.15 489.46,456.76 490.12,457.38 490.77,458.01 491.43,458.65 492.09,459.29 492.74,459.94 493.40,460.59 494.06,461.23 494.72,461.87 495.37,462.50 496.03,463.12 496.69,463.73 497.34,464.33 498.00,464.92 498.66,465.48 499.31,466.04 499.97,466.57 500.63,467.08 501.29,467.58 501.94,468.05 502.60,468.51 503.26,468.94 503.91,469.36 504.57,469.75 505.23,470.13 505.88,470.48 506.54,470.82 507.20,471.14 507.85,471.44 508.51,471.72 509.17,471.99 509.83,472.24 510.48,472.48 511.14,472.70 511.80,472.91 512.45,473.11 513.11,473.29 513.77,473.47 514.42,473.64 515.08,473.79 515.74,473.94 516.39,474.08 517.05,474.22 517.71,474.34 518.37,474.46 519.02,474.57 519.68,474.68 520.34,474.78 520.99,474.88 521.65,474.97 522.31,475.05 522.96,475.13 523.62,475.21 524.28,475.28 524.94,475.34 525.59,475.40 526.25,475.45 526.91,475.50 527.56,475.54 528.22,475.57 528.88,475.60 529.53,475.62 530.19,475.64 530.85,475.65 531.50,475.65 532.16,475.65 532.82,475.64 533.48,475.62 534.13,475.60 534.79,475.58 535.45,475.55 536.10,475.51 536.76,475.47 537.42,475.42 538.07,475.38 538.73,475.32 539.39,475.27 540.04,475.21 540.70,475.16 541.36,475.10 542.02,475.04 542.67,474.98 543.33,474.93 543.99,474.87 544.64,474.82 545.30,474.77 545.96,474.73 546.61,474.69 547.27,474.66 547.93,474.63 548.59,474.61 549.24,474.59 549.90,474.59 550.56,474.58 551.21,474.59 551.87,474.61 552.53,474.63 553.18,474.66 553.84,474.70 554.50,474.75 555.15,474.81 555.81,474.87 556.47,474.94 557.13,475.02 557.78,475.11 558.44,475.21 559.10,475.31 559.75,475.41 560.41,475.53 561.07,475.64 561.72,475.76 562.38,475.89 563.04,476.02 563.70,476.15 564.35,476.28 565.01,476.41 565.67,476.55 566.32,476.68 566.98,476.82 567.64,476.95 568.29,477.09 568.95,477.22 569.61,477.34 570.26,477.47 570.92,477.59 571.58,477.71 572.24,477.82 572.89,477.93 573.55,478.04 574.21,478.14 574.86,478.24 575.52,478.34 576.18,478.42 576.83,478.51 577.49,478.59 578.15,478.67 578.80,478.74 579.46,478.81 580.12,478.87 580.78,478.93 581.43,478.99 582.09,479.04 582.75,479.10 583.40,479.15 584.06,479.19 584.72,479.24 585.37,479.28 586.03,479.33 586.69,479.37 587.35,479.41 588.00,479.45 588.66,479.49 589.32,479.54 589.97,479.58 590.63,479.62 591.29,479.66 591.94,479.70 592.60,479.74 593.26,479.79 593.91,479.83 594.57,479.88 595.23,479.92 595.89,479.97 596.54,480.02 597.20,480.07 597.86,480.12 598.51,480.17 599.17,480.21 599.83,480.26 600.48,480.31 601.14,480.36 601.80,480.41 602.45,480.46 603.11,480.51 603.77,480.56 604.43,480.61 605.08,480.65 605.74,480.70 606.40,480.74 607.05,480.78 607.71,480.82 608.37,480.86 609.02,480.90 609.68,480.94 610.34,480.97 611.00,481.01 611.65,481.04 612.31,481.07 612.97,481.09 613.62,481.12 614.28,481.14 614.94,481.17 615.59,481.19 616.25,481.21 616.91,481.23 617.56,481.25 618.22,481.26 618.88,481.28 619.54,481.29 620.19,481.31 620.85,481.32 621.51,481.33 622.16,481.35 622.82,481.36 623.48,481.37 624.13,481.38 624.79,481.40 625.45,481.41 626.11,481.42 626.76,481.43 627.42,481.45 628.08,481.46 628.73,481.47 629.39,481.49 630.05,481.50 630.70,481.52 631.36,481.53 632.02,481.55 632.67,481.56 633.33,481.58 633.99,481.60 634.65,481.62 635.30,481.63 635.96,481.65 636.62,481.67 637.27,481.69 637.93,481.71 638.59,481.72 639.24,481.74 639.90,481.76 640.56,481.78 641.21,481.79 641.87,481.81 642.53,481.82 643.19,481.84 643.84,481.85 644.50,481.87 645.16,481.88 645.81,481.89 646.47,481.90 647.13,481.92 647.78,481.92 648.44,481.93 649.10,481.94 649.76,481.95 650.41,481.96 651.07,481.96 651.73,481.97 652.38,481.97 653.04,481.97 653.70,481.98 654.35,481.98 655.01,481.98 655.67,481.98 656.32,481.98 656.98,481.98 657.64,481.98 658.30,481.98 658.95,481.97 659.61,481.97 660.27,481.97 660.92,481.97 661.58,481.96 662.24,481.96 662.89,481.96 663.55,481.95 664.21,481.95 664.86,481.94 665.52,481.94 666.18,481.93 666.84,481.92 667.49,481.92 668.15,481.91 668.81,481.90 669.46,481.89 670.12,481.89 670.78,481.88 671.43,481.86 672.09,481.85 672.75,481.84 673.41,481.83 674.06,481.81 674.72,481.80 675.38,481.78 676.03,481.76 676.69,481.74 677.35,481.72 678.00,481.70 678.66,481.68 679.32,481.66 679.97,481.63 680.63,481.61 681.29,481.58 681.95,481.55 682.60,481.52 683.26,481.49 683.92,481.46 684.57,481.43 685.23,481.39 685.89,481.36 686.54,481.33 687.20,481.29 687.86,481.26 688.52,481.23 689.17,481.19 689.83,481.16 690.49,481.12 691.14,481.09 691.80,481.06 692.46,481.03 693.11,481.00 693.77,480.97 694.43,480.94 695.08,480.92 695.74,480.89 696.40,480.87 697.06,480.85 697.71,480.83 698.37,480.81 699.03,480.80 699.68,480.78 700.34,480.77 701.00,480.76 701.65,480.76 702.31,480.75 702.97,480.75 703.62,480.75 704.28,480.75 704.94,480.75 705.60,480.76 706.25,480.77 706.91,480.77 707.57,480.78 708.22,480.79 708.88,480.81 709.54,480.82 710.19,480.83 710.85,480.85 711.51,480.86 712.17,480.87 712.82,480.89 713.48,480.90 714.14,480.92 714.79,480.93 715.45,480.95 716.11,480.96 716.76,480.97 717.42,480.98 718.08,480.99 718.73,481.00 719.39,481.01 720.05,481.02 720.71,481.02 721.36,481.03 722.02,481.03 722.68,481.03 723.33,481.03 723.99,481.03 724.65,481.03 725.30,481.03 725.96,481.03 726.62,481.03 727.27,481.02 727.93,481.02 728.59,481.02 729.25,481.01 729.90,481.01 730.56,481.00 731.22,481.00 731.87,481.00 732.53,481.00 733.19,481.00 733.84,481.00 734.50,481.00 735.16,481.00 735.82,481.00 736.47,481.01 737.13,481.02 737.79,481.03 738.44,481.04 739.10,481.05 739.76,481.06 740.41,481.08 741.07,481.10 741.73,481.12 742.38,481.14 743.04,481.17 743.70,481.19 744.36,481.22 745.01,481.25 745.67,481.28 746.33,481.32 746.98,481.35 747.64,481.39 748.30,481.43 748.95,481.47 749.61,481.51 750.27,481.55 750.93,481.59 751.58,481.63 752.24,481.67 752.90,481.72 753.55,481.76 754.21,481.80 754.87,481.85 755.52,481.89 756.18,481.93 756.84,481.98 757.49,482.02 758.15,482.06 758.81,482.10 759.47,482.14 760.12,482.17 760.78,482.21 761.44,482.25 762.09,482.28 762.75,482.31 763.41,482.34 764.06,482.37 764.72,482.40 765.38,482.43 766.03,482.45 766.69,482.47 767.35,482.49 768.01,482.51 768.66,482.53 769.32,482.54 769.98,482.55 770.63,482.56 771.29,482.57 771.95,482.57 772.60,482.58 773.26,482.58 773.92,482.58 774.58,482.57 775.23,482.56 775.89,482.56 776.55,482.54 777.20,482.53 777.86,482.51 778.52,482.49 779.17,482.47 779.83,482.45 780.49,482.42 781.14,482.39 781.80,482.35 782.46,482.32 783.12,482.28 783.77,482.24 784.43,482.19 785.09,482.14 785.74,482.09 786.40,482.04 787.06,481.98 787.71,481.92 788.37,481.86 789.03,481.79 789.68,481.72 790.34,481.65 791.00,481.58 791.66,481.51 792.31,481.43 792.97,481.35 793.63,481.27 794.28,481.19 794.94,481.11 795.60,481.02 796.25,480.94 796.91,480.85 797.57,480.77 798.23,480.68 798.88,480.60 799.54,480.51 800.20,480.43 800.85,480.35 801.51,480.27 802.17,480.19 802.82,480.11 803.48,480.04 804.14,479.97 804.79,479.90 805.45,479.84 806.11,479.78 806.77,479.73 807.42,479.67 808.08,479.63 808.74,479.59 809.39,479.55 810.05,479.52 810.71,479.49 811.36,479.47 812.02,479.46 812.68,479.45 813.34,479.45 813.34,482.90" fill="#00BFC4" fill-opacity="0.3" stroke="#00BFC4" stroke-width="1" stroke-linejoin="round"/>
</g>
<text x="645.0" y="279.7" font-size="12" fill="#1A1A1A" text-anchor="middle">mitosis</text>
<text class="t" x="454.3" y="488" font-size="12" fill="#4D4D4D" text-anchor="end">0</text>
<text class="t" x="454.3" y="424" font-size="12" fill="#4D4D4D" text-anchor="end">1</text>
<text class="t" x="454.3" y="360" font-size="12" fill="#4D4D4D" text-anchor="end">2</text>
<text class="t" x="454.3" y="296" font-size="12" fill="#4D4D4D" text-anchor="end">3</text>
<text class="t" x="532.6" y="510" font-size="12" fill="#4D4D4D" text-anchor="middle">2.5</text>
<text class="t" x="625.8" y="510" font-size="12" fill="#4D4D4D" text-anchor="middle">5.0</text>
<text class="t" x="719.1" y="510" font-size="12" fill="#4D4D4D" text-anchor="middle">7.5</text>
<text class="t" x="812.3" y="510" font-size="12" fill="#4D4D4D" text-anchor="middle">10.0</text>
<g shape-rendering="crispEdges">
<rect x="861" y="261" width="369" height="25" fill="#D9D9D9"/>
<rect x="861" y="286" width="369" height="206" fill="#EBEBEB"/>
<path d="M861 482.5H1230M861 453.5H1230M861 423.5H1230M861 393.5H1230M861 363.5H1230M861 333.5H1230M861 303.5H1230M887.5 286V492M933.5 286V492M980.5 286V492M1027.5 286V492M1073.5 286V492M1120.5 286V492M1167.5 286V492M1213.5 286V492" stroke="#fff" stroke-width="1" fill="none"/>
<path d="M857 482.5H861M857 423.5H861M857 363.5H861M857 303.5H861M933.5 492V496M1027.5 492V496M1120.5 492V496M1213.5 492V496" stroke="#333" stroke-width="1" fill="none"/>
<polygon points="877.93,482.90 877.93,295.80 878.59,296.15 879.25,297.21 879.91,298.96 880.56,301.39 881.22,304.47 881.88,308.16 882.53,312.42 883.19,317.20 883.85,322.46 884.50,328.13 885.16,334.17 885.82,340.50 886.48,347.07 887.13,353.81 887.79,360.67 888.45,367.58 889.10,374.49 889.76,381.34 890.42,388.09 891.07,394.69 891.73,401.10 892.39,407.28 893.04,413.20 893.70,418.83 894.36,424.16 895.02,429.16 895.67,433.84 896.33,438.17 896.99,442.16 897.64,445.81 898.30,449.12 898.96,452.11 899.61,454.78 900.27,457.15 900.93,459.23 901.59,461.04 902.24,462.60 902.90,463.92 903.56,465.03 904.21,465.94 904.87,466.68 905.53,467.27 906.18,467.72 906.84,468.05 907.50,468.29 908.15,468.44 908.81,468.53 909.47,468.57 910.13,468.57 910.78,468.55 911.44,468.51 912.10,468.48 912.75,468.45 913.41,468.44 914.07,468.46 914.72,468.50 915.38,468.57 916.04,468.68 916.69,468.83 917.35,469.02 918.01,469.25 918.67,469.51 919.32,469.82 919.98,470.16 920.64,470.53 921.29,470.93 921.95,471.36 922.61,471.81 923.26,472.28 923.92,472.76 924.58,473.25 925.24,473.74 925.89,474.24 926.55,474.72 927.21,475.20 927.86,475.66 928.52,476.11 929.18,476.54 929.83,476.94 930.49,477.32 931.15,477.67 931.80,477.99 932.46,478.28 933.12,478.54 933.78,478.77 934.43,478.96 935.09,479.12 935.75,479.25 936.40,479.35 937.06,479.42 937.72,479.46 938.37,479.47 939.03,479.46 939.69,479.43 940.34,479.37 941.00,479.30 941.66,479.21 942.32,479.11 942.97,479.00 943.63,478.88 944.29,478.75 944.94,478.63 945.60,478.50 946.26,478.37 946.91,478.25 947.57,478.14 948.23,478.04 948.89,477.95 949.54,477.87 950.20,477.81 950.86,477.76 951.51,477.73 952.17,477.72 952.83,477.72 953.48,477.74 954.14,477.79 954.80,477.85 955.45,477.93 956.11,478.02 956.77,478.13 957.43,478.26 958.08,478.40 958.74,478.55 959.40,478.71 960.05,478.88 960.71,479.06 961.37,479.25 962.02,479.43 962.68,479.63 963.34,479.82 964.00,480.01 964.65,480.20 965.31,480.39 965.97,480.57 966.62,480.75 967.28,480.92 967.94,481.08 968.59,481.23 969.25,481.38 969.91,481.52 970.56,481.65 971.22,481.77 971.88,481.88 972.54,481.98 973.19,482.08 973.85,482.16 974.51,482.24 975.16,482.31 975.82,482.37 976.48,482.43 977.13,482.48 977.79,482.52 978.45,482.56 979.10,482.59 979.76,482.62 980.42,482.64 981.08,482.66 981.73,482.68 982.39,482.69 983.05,482.70 983.70,482.71 984.36,482.72 985.02,482.72 985.67,482.73 986.33,482.73 986.99,482.74 987.65,482.74 988.30,482.74 988.96,482.74 989.62,482.75 990.27,482.75 990.93,482.75 991.59,482.75 992.24,482.76 992.90,482.76 993.56,482.76 994.21,482.76 994.87,482.77 995.53,482.77 996.19,482.78 996.84,482.78 997.50,482.78 998.16,482.79 998.81,482.79 999.47,482.80 1000.13,482.80 1000.78,482.80 1001.44,482.81 1002.10,482.81 1002.75,482.81 1003.41,482.81 1004.07,482.81 1004.73,482.81 1005.38,482.81 1006.04,482.81 1006.70,482.81 1007.35,482.81 1008.01,482.81 1008.67,482.80 1009.32,482.80 1009.98,482.80 1010.64,482.79 1011.30,482.78 1011.95,482.78 1012.61,482.77 1013.27,482.76 1013.92,482.75 1014.58,482.74 1015.24,482.73 1015.89,482.72 1016.55,482.71 1017.21,482.70 1017.86,482.69 1018.52,482.68 1019.18,482.67 1019.84,482.66 1020.49,482.65 1021.15,482.65 1021.81,482.64 1022.46,482.63 1023.12,482.62 1023.78,482.62 1024.43,482.61 1025.09,482.61 1025.75,482.60 1026.41,482.60 1027.06,482.60 1027.72,482.60 1028.38,482.60 1029.03,482.60 1029.69,482.60 1030.35,482.61 1031.00,482.61 1031.66,482.61 1032.32,482.62 1032.97,482.62 1033.63,482.63 1034.29,482.63 1034.95,482.64 1035.60,482.64 1036.26,482.64 1036.92,482.64 1037.57,482.64 1038.23,482.64 1038.89,482.64 1039.54,482.64 1040.20,482.63 1040.86,482.62 1041.51,482.61 1042.17,482.59 1042.83,482.58 1043.49,482.56 1044.14,482.53 1044.80,482.50 1045.46,482.47 1046.11,482.44 1046.77,482.40 1047.43,482.36 1048.08,482.32 1048.74,482.27 1049.40,482.22 1050.06,482.16 1050.71,482.11 1051.37,482.05 1052.03,481.99 1052.68,481.92 1053.34,481.86 1054.00,481.80 1054.65,481.73 1055.31,481.67 1055.97,481.60 1056.62,481.54 1057.28,481.48 1057.94,481.43 1058.60,481.38 1059.25,481.33 1059.91,481.28 1060.57,481.24 1061.22,481.21 1061.88,481.18 1062.54,481.16 1063.19,481.14 1063.85,481.13 1064.51,481.13 1065.16,481.13 1065.82,481.15 1066.48,481.16 1067.14,481.19 1067.79,481.22 1068.45,481.25 1069.11,481.29 1069.76,481.34 1070.42,481.39 1071.08,481.44 1071.73,481.50 1072.39,481.56 1073.05,481.62 1073.71,481.69 1074.36,481.75 1075.02,481.82 1075.68,481.88 1076.33,481.95 1076.99,482.01 1077.65,482.07 1078.30,482.13 1078.96,482.19 1079.62,482.25 1080.27,482.30 1080.93,482.35 1081.59,482.39 1082.25,482.44 1082.90,482.48 1083.56,482.52 1084.22,482.55 1084.87,482.58 1085.53,482.61 1086.19,482.63 1086.84,482.65 1087.50,482.67 1088.16,482.69 1088.82,482.70 1089.47,482.71 1090.13,482.72 1090.79,482.73 1091.44,482.74 1092.10,482.74 1092.76,482.75 1093.41,482.75 1094.07,482.75 1094.73,482.75 1095.38,482.75 1096.04,482.75 1096.70,482.75 1097.36,482.75 1098.01,482.75 1098.67,482.75 1099.33,482.75 1099.98,482.75 1100.64,482.75 1101.30,482.75 1101.95,482.75 1102.61,482.75 1103.27,482.75 1103.92,482.75 1104.58,482.75 1105.24,482.75 1105.90,482.75 1106.55,482.75 1107.21,482.75 1107.87,482.75 1108.52,482.75 1109.18,482.75 1109.84,482.75 1110.49,482.75 1111.15,482.74 1111.81,482.74 1112.47,482.73 1113.12,482.73 1113.78,482.72 1114.44,482.71 1115.09,482.69 1115.75,482.68 1116.41,482.66 1117.06,482.64 1117.72,482.62 1118.38,482.59 1119.03,482.56 1119.69,482.53 1120.35,482.49 1121.01,482.45 1121.66,482.41 1122.32,482.36 1122.98,482.32 1123.63,482.26 1124.29,482.21 1124.95,482.15 1125.60,482.09 1126.26,482.03 1126.92,481.97 1127.57,481.90 1128.23,481.84 1128.89,481.77 1129.55,481.71 1130.20,481.64 1130.86,481.58 1131.52,481.52 1132.17,481.46 1132.83,481.41 1133.49,481.35 1134.14,481.31 1134.80,481.26 1135.46,481.23 1136.12,481.20 1136.77,481.17 1137.43,481.15 1138.09,481.14 1138.74,481.13 1139.40,481.13 1140.06,481.14 1140.71,481.15 1141.37,481.17 1142.03,481.20 1142.68,481.23 1143.34,481.27 1144.00,481.31 1144.66,481.36 1145.31,481.41 1145.97,481.47 1146.63,481.53 1147.28,481.59 1147.94,481.65 1148.60,481.71 1149.25,481.78 1149.91,481.85 1150.57,481.91 1151.23,481.97 1151.88,482.04 1152.54,482.10 1153.20,482.16 1153.85,482.21 1154.51,482.27 1155.17,482.32 1155.82,482.37 1156.48,482.41 1157.14,482.46 1157.79,482.49 1158.45,482.53 1159.11,482.56 1159.77,482.59 1160.42,482.62 1161.08,482.64 1161.74,482.66 1162.39,482.68 1163.05,482.69 1163.71,482.71 1164.36,482.72 1165.02,482.73 1165.68,482.73 1166.33,482.74 1166.99,482.74 1167.65,482.75 1168.31,482.75 1168.96,482.75 1169.62,482.75 1170.28,482.75 1170.93,482.75 1171.59,482.75 1172.25,482.75 1172.90,482.75 1173.56,482.75 1174.22,482.75 1174.88,482.75 1175.53,482.75 1176.19,482.75 1176.85,482.75 1177.50,482.75 1178.16,482.75 1178.82,482.75 1179.47,482.76 1180.13,482.76 1180.79,482.76 1181.44,482.77 1182.10,482.77 1182.76,482.78 1183.42,482.78 1184.07,482.79 1184.73,482.79 1185.39,482.80 1186.04,482.80 1186.70,482.81 1187.36,482.81 1188.01,482.82 1188.67,482.82 1189.33,482.83 1189.98,482.84 1190.64,482.84 1191.30,482.85 1191.96,482.85 1192.61,482.85 1193.27,482.86 1193.93,482.86 1194.58,482.87 1195.24,482.87 1195.90,482.87 1196.55,482.88 1197.21,482.88 1197.87,482.88 1198.53,482.88 1199.18,482.89 1199.84,482.89 1200.50,482.89 1201.15,482.89 1201.81,482.89 1202.47,482.89 1203.12,482.89 1203.78,482.89 1204.44,482.90 1205.09,482.90 1205.75,482.90 1206.41,482.90 1207.07,482.90 1207.72,482.90 1208.38,482.90 1209.04,482.90 1209.69,482.90 1210.35,482.90 1211.01,482.90 1211.66,482.90 1212.32,482.90 1212.98,482.90 1213.63,482.90 1213.63,482.90" fill="#F8766D" fill-opacity="0.3" stroke="#F8766D" stroke-width="1" stroke-linejoin="round"/>
<polygon points="877.93,482.90 877.93,470.53 878.59,470.49 879.25,470.44 879.91,470.40 880.56,470.36 881.22,470.32 881.88,470.28 882.53,470.24 883.19,470.21 883.85,470.17 884.50,470.14 885.16,470.11 885.82,470.08 886.48,470.05 887.13,470.02 887.79,469.99 888.45,469.96 889.10,469.94 889.76,469.92 890.42,469.89 891.07,469.87 891.73,469.85 892.39,469.83 893.04,469.81 893.70,469.80 894.36,469.78 895.02,469.76 895.67,469.75 896.33,469.74 896.99,469.72 897.64,469.71 898.30,469.70 898.96,469.69 899.61,469.68 900.27,469.67 900.93,469.66 901.59,469.66 902.24,469.65 902.90,469.64 903.56,469.64 904.21,469.63 904.87,469.63 905.53,469.62 906.18,469.62 906.84,469.62 907.50,469.62 908.15,469.61 908.81,469.61 909.47,469.61 910.13,469.61 910.78,469.61 911.44,469.61 912.10,469.61 912.75,469.61 913.41,469.61 914.07,469.61 914.72,469.61 915.38,469.61 916.04,469.61 916.69,469.62 917.35,469.62 918.01,469.62 918.67,469.62 919.32,469.62 919.98,469.63 920.64,469.63 921.29,469.63 921.95,469.63 922.61,469.63 923.26,469.63 923.92,469.64 924.58,469.64 925.24,469.64 925.89,469.64 926.55,469.64 927.21,469.64 927.86,469.65 928.52,469.65 929.18,469.65 929.83,469.65 930.49,469.65 931.15,469.65 931.80,469.65 932.46,469.65 933.12,469.65 933.78,469.65 934.43,469.66 935.09,469.66 935.75,469.66 936.40,469.66 937.06,469.66 937.72,469.66 938.37,469.66 939.03,469.66 939.69,469.66 940.34,469.66 941.00,469.65 941.66,469.65 942.32,469.65 942.97,469.65 943.63,469.65 944.29,469.65 944.94,469.65 945.60,469.65 946.26,469.65 946.91,469.65 947.57,469.65 948.23,469.65 948.89,469.65 949.54,469.65 950.20,469.65 950.86,469.65 951.51,469.65 952.17,469.65 952.83,469.65 953.48,469.66 954.14,469.66 954.80,469.66 955.45,469.66 956.11,469.66 956.77,469.66 957.43,469.67 958.08,469.67 958.74,469.67 959.40,469.68 960.05,469.68 960.71,469.68 961.37,469.69 962.02,469.69 962.68,469.70 963.34,469.71 964.00,469.71 964.65,469.72 965.31,469.72 965.97,469.73 966.62,469.74 967.28,469.75 967.94,469.76 968.59,469.77 969.25,469.78 969.91,469.79 970.56,469.80 971.22,469.81 971.88,469.82 972.54,469.83 973.19,469.84 973.85,469.86 974.51,469.87 975.16,469.88 975.82,469.90 976.48,469.91 977.13,469.93 977.79,469.95 978.45,469.96 979.10,469.98 979.76,470.00 980.42,470.02 981.08,470.04 981.73,470.05 982.39,470.07 983.05,470.09 983.70,470.12 984.36,470.14 985.02,470.16 985.67,470.18 986.33,470.20 986.99,470.23 987.65,470.25 988.30,470.27 988.96,470.30 989.62,470.32 990.27,470.35 990.93,470.37 991.59,470.40 992.24,470.43 992.90,470.45 993.56,470.48 994.21,470.51 994.87,470.53 995.53,470.56 996.19,470.59 996.84,470.62 997.50,470.65 998.16,470.67 998.81,470.70 999.47,470.73 1000.13,470.76 1000.78,470.79 1001.44,470.82 1002.10,470.85 1002.75,470.88 1003.41,470.91 1004.07,470.94 1004.73,470.97 1005.38,471.00 1006.04,471.03 1006.70,471.06 1007.35,471.09 1008.01,471.12 1008.67,471.15 1009.32,471.18 1009.98,471.21 1010.64,471.24 1011.30,471.27 1011.95,471.30 1012.61,471.33 1013.27,471.36 1013.92,471.39 1014.58,471.41 1015.24,471.44 1015.89,471.47 1016.55,471.50 1017.21,471.53 1017.86,471.56 1018.52,471.58 1019.18,471.61 1019.84,471.64 1020.49,471.66 1021.15,471.69 1021.81,471.72 1022.46,471.74 1023.12,471.77 1023.78,471.79 1024.43,471.82 1025.09,471.84 1025.75,471.87 1026.41,471.89 1027.06,471.91 1027.72,471.94 1028.38,471.96 1029.03,471.98 1029.69,472.00 1030.35,472.02 1031.00,472.05 1031.66,472.07 1032.32,472.09 1032.97,472.11 1033.63,472.13 1034.29,472.15 1034.95,472.16 1035.60,472.18 1036.26,472.20 1036.92,472.22 1037.57,472.24 1038.23,472.25 1038.89,472.27 1039.54,472.29 1040.20,472.30 1040.86,472.32 1041.51,472.33 1042.17,472.35 1042.83,472.36 1043.49,472.38 1044.14,472.39 1044.80,472.40 1045.46,472.42 1046.11,472.43 1046.77,472.44 1047.43,472.45 1048.08,472.47 1048.74,472.48 1049.40,472.49 1050.06,472.50 1050.71,472.51 1051.37,472.52 1052.03,472.53 1052.68,472.54 1053.34,472.55 1054.00,472.56 1054.65,472.57 1055.31,472.58 1055.97,472.59 1056.62,472.60 1057.28,472.60 1057.94,472.61 1058.60,472.62 1059.25,472.63 1059.91,472.63 1060.57,472.64 1061.22,472.65 1061.88,472.66 1062.54,472.66 1063.19,472.67 1063.85,472.68 1064.51,472.68 1065.16,472.69 1065.82,472.70 1066.48,472.70 1067.14,472.71 1067.79,472.71 1068.45,472.72 1069.11,472.72 1069.76,472.73 1070.42,472.73 1071.08,472.74 1071.73,472.74 1072.39,472.75 1073.05,472.75 1073.71,472.76 1074.36,472.76 1075.02,472.77 1075.68,472.77 1076.33,472.77 1076.99,472.78 1077.65,472.78 1078.30,472.78 1078.96,472.79 1079.62,472.79 1080.27,472.79 1080.93,472.80 1081.59,472.80 1082.25,472.80 1082.90,472.80 1083.56,472.81 1084.22,472.81 1084.87,472.81 1085.53,472.81 1086.19,472.81 1086.84,472.81 1087.50,472.81 1088.16,472.81 1088.82,472.81 1089.47,472.81 1090.13,472.81 1090.79,472.81 1091.44,472.81 1092.10,472.81 1092.76,472.80 1093.41,472.80 1094.07,472.80 1094.73,472.79 1095.38,472.79 1096.04,472.79 1096.70,472.78 1097.36,472.78 1098.01,472.77 1098.67,472.76 1099.33,472.76 1099.98,472.75 1100.64,472.74 1101.30,472.73 1101.95,472.73 1102.61,472.72 1103.27,472.71 1103.92,472.70 1104.58,472.68 1105.24,472.67 1105.90,472.66 1106.55,472.65 1107.21,472.63 1107.87,472.62 1108.52,472.60 1109.18,472.58 1109.84,472.57 1110.49,472.55 1111.15,472.53 1111.81,472.51 1112.47,472.49 1113.12,472.47 1113.78,472.45 1114.44,472.43 1115.09,472.40 1115.75,472.38 1116.41,472.35 1117.06,472.33 1117.72,472.30 1118.38,472.27 1119.03,472.24 1119.69,472.21 1120.35,472.18 1121.01,472.15 1121.66,472.11 1122.32,472.08 1122.98,472.04 1123.63,472.01 1124.29,471.97 1124.95,471.93 1125.60,471.89 1126.26,471.85 1126.92,471.81 1127.57,471.77 1128.23,471.73 1128.89,471.68 1129.55,471.64 1130.20,471.59 1130.86,471.54 1131.52,471.49 1132.17,471.44 1132.83,471.39 1133.49,471.34 1134.14,471.29 1134.80,471.23 1135.46,471.18 1136.12,471.12 1136.77,471.06 1137.43,471.01 1138.09,470.95 1138.74,470.89 1139.40,470.82 1140.06,470.76 1140.71,470.70 1141.37,470.63 1142.03,470.57 1142.68,470.50 1143.34,470.44 1144.00,470.37 1144.66,470.30 1145.31,470.23 1145.97,470.16 1146.63,470.08 1147.28,470.01 1147.94,469.94 1148.60,469.86 1149.25,469.79 1149.91,469.71 1150.57,469.64 1151.23,469.56 1151.88,469.48 1152.54,469.40 1153.20,469.33 1153.85,469.25 1154.51,469.17 1155.17,469.08 1155.82,469.00 1156.48,468.92 1157.14,468.84 1157.79,468.76 1158.45,468.67 1159.11,468.59 1159.77,468.51 1160.42,468.42 1161.08,468.34 1161.74,468.26 1162.39,468.17 1163.05,468.09 1163.71,468.00 1164.36,467.92 1165.02,467.84 1165.68,467.75 1166.33,467.67 1166.99,467.58 1167.65,467.50 1168.31,467.42 1168.96,467.34 1169.62,467.25 1170.28,467.17 1170.93,467.09 1171.59,467.01 1172.25,466.93 1172.90,466.85 1173.56,466.77 1174.22,466.69 1174.88,466.61 1175.53,466.54 1176.19,466.46 1176.85,466.39 1177.50,466.31 1178.16,466.24 1178.82,466.17 1179.47,466.10 1180.13,466.03 1180.79,465.96 1181.44,465.90 1182.10,465.83 1182.76,465.77 1183.42,465.70 1184.07,465.64 1184.73,465.58 1185.39,465.53 1186.04,465.47 1186.70,465.42 1187.36,465.36 1188.01,465.31 1188.67,465.26 1189.33,465.22 1189.98,465.17 1190.64,465.13 1191.30,465.09 1191.96,465.05 1192.61,465.01 1193.27,464.98 1193.93,464.94 1194.58,464.91 1195.24,464.89 1195.90,464.86 1196.55,464.84 1197.21,464.82 1197.87,464.80 1198.53,464.78 1199.18,464.77 1199.84,464.76 1200.50,464.75 1201.15,464.74 1201.81,464.74 1202.47,464.74 1203.12,464.74 1203.78,464.75 1204.44,464.75 1205.09,464.76 1205.75,464.77 1206.41,464.79 1207.07,464.81 1207.72,464.83 1208.38,464.85 1209.04,464.88 1209.69,464.91 1210.35,464.94 1211.01,464.97 1211.66,465.01 1212.32,465.05 1212.98,465.10 1213.63,465.14 1213.63,482.90" fill="#00BFC4" fill-opacity="0.3" stroke="#00BFC4" stroke-width="1" stroke-linejoin="round"/>
</g>
<text x="1045.5" y="279.7" font-size="12" fill="#1A1A1A" text-anchor="middle">normal_nucleoli</text>
<text class="t" x="854.5" y="488" font-size="12" fill="#4D4D4D" text-anchor="end">0.0</text>
<text class="t" x="854.5" y="429" font-size="12" fill="#4D4D4D" text-anchor="end">0.4</text>
<text class="t" x="854.5" y="369" font-size="12" fill="#4D4D4D" text-anchor="end">0.8</text>
<text class="t" x="854.5" y="309" font-size="12" fill="#4D4D4D" text-anchor="end">1.2</text>
<text class="t" x="932.9" y="510" font-size="12" fill="#4D4D4D" text-anchor="middle">2.5</text>
<text class="t" x="1026.1" y="510" font-size="12" fill="#4D4D4D" text-anchor="middle">5.0</text>
<text class="t" x="1119.4" y="510" font-size="12" fill="#4D4D4D" text-anchor="middle">7.5</text>
<text class="t" x="1212.6" y="510" font-size="12" fill="#4D4D4D" text-anchor="middle">10.0</text>
<g shape-rendering="crispEdges">
<rect x="60" y="516" width="369" height="24" fill="#D9D9D9"/>
<rect x="60" y="540" width="369" height="206" fill="#EBEBEB"/>
<path d="M60 737.5H429M60 701.5H429M60 665.5H429M60 629.5H429M60 593.5H429M60 557.5H429M86.5 540V746M132.5 540V746M179.5 540V746M226.5 540V746M272.5 540V746M319.5 540V746M366.5 540V746M412.5 540V746" stroke="#fff" stroke-width="1" fill="none"/>
<path d="M56 737.5H60M56 665.5H60M56 593.5H60M132.5 746V750M226.5 746V750M319.5 746V750M412.5 746V750" stroke="#333" stroke-width="1" fill="none"/>
<polygon points="76.94,737.40 76.94,713.00 77.59,713.05 78.25,713.23 78.91,713.54 79.56,713.96 80.22,714.48 80.88,715.10 81.53,715.81 82.19,716.58 82.85,717.41 83.50,718.27 84.16,719.14 84.82,720.02 85.48,720.87 86.13,721.67 86.79,722.40 87.45,723.04 88.10,723.57 88.76,723.95 89.42,724.17 90.07,724.20 90.73,724.01 91.39,723.57 92.04,722.87 92.70,721.86 93.36,720.54 94.02,718.85 94.67,716.79 95.33,714.33 95.99,711.44 96.64,708.10 97.30,704.30 97.96,700.03 98.61,695.28 99.27,690.04 99.93,684.32 100.59,678.14 101.24,671.52 101.90,664.50 102.56,657.10 103.21,649.39 103.87,641.42 104.53,633.26 105.18,625.00 105.84,616.71 106.50,608.50 107.15,600.46 107.81,592.69 108.47,585.29 109.13,578.37 109.78,572.02 110.44,566.35 111.10,561.42 111.75,557.32 112.41,554.12 113.07,551.86 113.72,550.58 114.38,550.30 115.04,551.03 115.69,552.75 116.35,555.43 117.01,559.04 117.67,563.52 118.32,568.79 118.98,574.78 119.64,581.40 120.29,588.55 120.95,596.13 121.61,604.04 122.26,612.18 122.92,620.45 123.58,628.75 124.24,636.99 124.89,645.09 125.55,652.98 126.21,660.59 126.86,667.86 127.52,674.76 128.18,681.24 128.83,687.27 129.49,692.85 130.15,697.95 130.80,702.59 131.46,706.76 132.12,710.48 132.78,713.75 133.43,716.61 134.09,719.07 134.75,721.16 135.40,722.90 136.06,724.32 136.72,725.45 137.37,726.31 138.03,726.93 138.69,727.35 139.34,727.57 140.00,727.63 140.66,727.55 141.32,727.35 141.97,727.05 142.63,726.67 143.29,726.23 143.94,725.76 144.60,725.25 145.26,724.74 145.91,724.24 146.57,723.75 147.23,723.30 147.89,722.89 148.54,722.53 149.20,722.24 149.86,722.01 150.51,721.86 151.17,721.78 151.83,721.79 152.48,721.87 153.14,722.04 153.80,722.28 154.45,722.60 155.11,722.99 155.77,723.45 156.43,723.96 157.08,724.52 157.74,725.12 158.40,725.76 159.05,726.42 159.71,727.10 160.37,727.79 161.02,728.47 161.68,729.15 162.34,729.82 163.00,730.46 163.65,731.08 164.31,731.66 164.97,732.22 165.62,732.73 166.28,733.20 166.94,733.63 167.59,734.02 168.25,734.37 168.91,734.67 169.56,734.92 170.22,735.14 170.88,735.31 171.54,735.45 172.19,735.54 172.85,735.61 173.51,735.64 174.16,735.63 174.82,735.60 175.48,735.55 176.13,735.46 176.79,735.36 177.45,735.24 178.10,735.10 178.76,734.95 179.42,734.79 180.08,734.63 180.73,734.46 181.39,734.28 182.05,734.11 182.70,733.95 183.36,733.79 184.02,733.64 184.67,733.51 185.33,733.39 185.99,733.28 186.65,733.20 187.30,733.14 187.96,733.10 188.62,733.08 189.27,733.08 189.93,733.11 190.59,733.16 191.24,733.23 191.90,733.32 192.56,733.44 193.21,733.56 193.87,733.71 194.53,733.86 195.19,734.03 195.84,734.21 196.50,734.39 197.16,734.58 197.81,734.76 198.47,734.95 199.13,735.13 199.78,735.31 200.44,735.48 201.10,735.64 201.75,735.79 202.41,735.93 203.07,736.05 203.73,736.17 204.38,736.26 205.04,736.34 205.70,736.41 206.35,736.46 207.01,736.50 207.67,736.51 208.32,736.52 208.98,736.50 209.64,736.47 210.30,736.43 210.95,736.37 211.61,736.30 212.27,736.21 212.92,736.11 213.58,736.01 214.24,735.89 214.89,735.76 215.55,735.62 216.21,735.48 216.86,735.33 217.52,735.19 218.18,735.04 218.84,734.89 219.49,734.75 220.15,734.61 220.81,734.48 221.46,734.36 222.12,734.25 222.78,734.16 223.43,734.08 224.09,734.01 224.75,733.96 225.41,733.94 226.06,733.92 226.72,733.93 227.38,733.96 228.03,734.00 228.69,734.06 229.35,734.14 230.00,734.23 230.66,734.34 231.32,734.46 231.97,734.59 232.63,734.73 233.29,734.87 233.95,735.02 234.60,735.17 235.26,735.32 235.92,735.48 236.57,735.63 237.23,735.77 237.89,735.91 238.54,736.05 239.20,736.17 239.86,736.29 240.51,736.40 241.17,736.50 241.83,736.59 242.49,736.67 243.14,736.74 243.80,736.80 244.46,736.85 245.11,736.89 245.77,736.92 246.43,736.94 247.08,736.96 247.74,736.96 248.40,736.96 249.06,736.95 249.71,736.93 250.37,736.91 251.03,736.88 251.68,736.85 252.34,736.82 253.00,736.78 253.65,736.73 254.31,736.69 254.97,736.64 255.62,736.59 256.28,736.55 256.94,736.50 257.60,736.46 258.25,736.42 258.91,736.38 259.57,736.34 260.22,736.31 260.88,736.29 261.54,736.27 262.19,736.25 262.85,736.24 263.51,736.24 264.16,736.25 264.82,736.26 265.48,736.27 266.14,736.29 266.79,736.32 267.45,736.35 268.11,736.39 268.76,736.43 269.42,736.47 270.08,736.52 270.73,736.56 271.39,736.61 272.05,736.66 272.71,736.71 273.36,736.76 274.02,736.81 274.68,736.85 275.33,736.89 275.99,736.93 276.65,736.97 277.30,737.00 277.96,737.03 278.62,737.05 279.27,737.07 279.93,737.08 280.59,737.09 281.25,737.09 281.90,737.09 282.56,737.08 283.22,737.07 283.87,737.05 284.53,737.03 285.19,737.00 285.84,736.96 286.50,736.92 287.16,736.87 287.82,736.82 288.47,736.77 289.13,736.71 289.79,736.65 290.44,736.58 291.10,736.52 291.76,736.45 292.41,736.38 293.07,736.32 293.73,736.25 294.38,736.19 295.04,736.13 295.70,736.07 296.36,736.02 297.01,735.97 297.67,735.93 298.33,735.90 298.98,735.87 299.64,735.85 300.30,735.85 300.95,735.84 301.61,735.85 302.27,735.87 302.92,735.89 303.58,735.92 304.24,735.96 304.90,736.00 305.55,736.05 306.21,736.11 306.87,736.17 307.52,736.23 308.18,736.30 308.84,736.36 309.49,736.43 310.15,736.50 310.81,736.57 311.47,736.63 312.12,736.70 312.78,736.76 313.44,736.82 314.09,736.87 314.75,736.92 315.41,736.97 316.06,737.01 316.72,737.05 317.38,737.08 318.03,737.11 318.69,737.14 319.35,737.16 320.01,737.17 320.66,737.18 321.32,737.19 321.98,737.19 322.63,737.19 323.29,737.19 323.95,737.18 324.60,737.17 325.26,737.16 325.92,737.14 326.57,737.12 327.23,737.10 327.89,737.08 328.55,737.06 329.20,737.04 329.86,737.01 330.52,736.99 331.17,736.97 331.83,736.94 332.49,736.92 333.14,736.90 333.80,736.88 334.46,736.87 335.12,736.85 335.77,736.84 336.43,736.83 337.09,736.83 337.74,736.82 338.40,736.82 339.06,736.83 339.71,736.83 340.37,736.84 341.03,736.86 341.68,736.87 342.34,736.89 343.00,736.91 343.66,736.93 344.31,736.95 344.97,736.97 345.63,737.00 346.28,737.02 346.94,737.05 347.60,737.07 348.25,737.10 348.91,737.12 349.57,737.15 350.23,737.17 350.88,737.19 351.54,737.22 352.20,737.24 352.85,737.25 353.51,737.27 354.17,737.29 354.82,737.30 355.48,737.31 356.14,737.33 356.79,737.34 357.45,737.35 358.11,737.35 358.77,737.36 359.42,737.37 360.08,737.37 360.74,737.38 361.39,737.38 362.05,737.38 362.71,737.39 363.36,737.39 364.02,737.39 364.68,737.39 365.33,737.39 365.99,737.40 366.65,737.40 367.31,737.40 367.96,737.40 368.62,737.40 369.28,737.40 369.93,737.40 370.59,737.40 371.25,737.40 371.90,737.40 372.56,737.40 373.22,737.40 373.88,737.40 374.53,737.40 375.19,737.40 375.85,737.40 376.50,737.40 377.16,737.40 377.82,737.40 378.47,737.40 379.13,737.40 379.79,737.40 380.44,737.40 381.10,737.40 381.76,737.40 382.42,737.40 383.07,737.40 383.73,737.40 384.39,737.40 385.04,737.39 385.70,737.39 386.36,737.39 387.01,737.39 387.67,737.39 388.33,737.38 388.98,737.38 389.64,737.37 390.30,737.37 390.96,737.36 391.61,737.35 392.27,737.35 392.93,737.34 393.58,737.33 394.24,737.31 394.90,737.30 395.55,737.28 396.21,737.27 396.87,737.25 397.53,737.23 398.18,737.20 398.84,737.18 399.50,737.15 400.15,737.13 400.81,737.10 401.47,737.07 402.12,737.04 402.78,737.01 403.44,736.98 404.09,736.94 404.75,736.91 405.41,736.88 406.07,736.85 406.72,736.82 407.38,736.79 408.04,736.77 408.69,736.75 409.35,736.73 410.01,736.71 410.66,736.70 411.32,736.69 411.98,736.68 412.63,736.68 412.63,737.40" fill="#F8766D" fill-opacity="0.3" stroke="#F8766D" stroke-width="1" stroke-linejoin="round"/>
<polygon points="76.94,737.40 76.94,734.31 77.59,734.19 78.25,734.06 78.91,733.93 79.56,733.80 80.22,733.66 80.88,733.52 81.53,733.37 82.19,733.22 82.85,733.07 83.50,732.91 84.16,732.75 84.82,732.58 85.48,732.41 86.13,732.24 86.79,732.06 87.45,731.88 88.10,731.69 88.76,731.50 89.42,731.31 90.07,731.12 90.73,730.92 91.39,730.72 92.04,730.51 92.70,730.31 93.36,730.10 94.02,729.89 94.67,729.68 95.33,729.46 95.99,729.25 96.64,729.03 97.30,728.81 97.96,728.59 98.61,728.37 99.27,728.15 99.93,727.93 100.59,727.71 101.24,727.48 101.90,727.26 102.56,727.04 103.21,726.82 103.87,726.60 104.53,726.38 105.18,726.17 105.84,725.95 106.50,725.74 107.15,725.52 107.81,725.31 108.47,725.10 109.13,724.89 109.78,724.68 110.44,724.48 111.10,724.28 111.75,724.07 112.41,723.87 113.07,723.67 113.72,723.48 114.38,723.28 115.04,723.09 115.69,722.90 116.35,722.70 117.01,722.51 117.67,722.33 118.32,722.14 118.98,721.95 119.64,721.77 120.29,721.58 120.95,721.40 121.61,721.21 122.26,721.03 122.92,720.85 123.58,720.66 124.24,720.48 124.89,720.30 125.55,720.11 126.21,719.93 126.86,719.75 127.52,719.57 128.18,719.38 128.83,719.20 129.49,719.02 130.15,718.84 130.80,718.65 131.46,718.47 132.12,718.29 132.78,718.11 133.43,717.93 134.09,717.75 134.75,717.57 135.40,717.39 136.06,717.22 136.72,717.04 137.37,716.87 138.03,716.70 138.69,716.53 139.34,716.36 140.00,716.20 140.66,716.04 141.32,715.88 141.97,715.73 142.63,715.58 143.29,715.43 143.94,715.29 144.60,715.15 145.26,715.01 145.91,714.88 146.57,714.76 147.23,714.64 147.89,714.52 148.54,714.41 149.20,714.31 149.86,714.21 150.51,714.11 151.17,714.02 151.83,713.94 152.48,713.86 153.14,713.78 153.80,713.72 154.45,713.65 155.11,713.59 155.77,713.54 156.43,713.49 157.08,713.44 157.74,713.40 158.40,713.36 159.05,713.32 159.71,713.29 160.37,713.26 161.02,713.24 161.68,713.22 162.34,713.20 163.00,713.18 163.65,713.16 164.31,713.15 164.97,713.14 165.62,713.13 166.28,713.12 166.94,713.11 167.59,713.10 168.25,713.10 168.91,713.09 169.56,713.09 170.22,713.08 170.88,713.08 171.54,713.08 172.19,713.07 172.85,713.07 173.51,713.07 174.16,713.06 174.82,713.06 175.48,713.06 176.13,713.06 176.79,713.06 177.45,713.06 178.10,713.06 178.76,713.06 179.42,713.06 180.08,713.06 180.73,713.07 181.39,713.07 182.05,713.08 182.70,713.09 183.36,713.09 184.02,713.11 184.67,713.12 185.33,713.13 185.99,713.15 186.65,713.17 187.30,713.19 187.96,713.21 188.62,713.24 189.27,713.26 189.93,713.29 190.59,713.32 191.24,713.36 191.90,713.39 192.56,713.43 193.21,713.47 193.87,713.51 194.53,713.55 195.19,713.60 195.84,713.64 196.50,713.69 197.16,713.74 197.81,713.78 198.47,713.83 199.13,713.88 199.78,713.93 200.44,713.98 201.10,714.03 201.75,714.08 202.41,714.14 203.07,714.19 203.73,714.23 204.38,714.28 205.04,714.33 205.70,714.38 206.35,714.42 207.01,714.47 207.67,714.51 208.32,714.56 208.98,714.60 209.64,714.64 210.30,714.68 210.95,714.71 211.61,714.75 212.27,714.79 212.92,714.82 213.58,714.85 214.24,714.88 214.89,714.91 215.55,714.94 216.21,714.97 216.86,715.00 217.52,715.03 218.18,715.05 218.84,715.08 219.49,715.10 220.15,715.13 220.81,715.15 221.46,715.18 222.12,715.20 222.78,715.23 223.43,715.25 224.09,715.28 224.75,715.30 225.41,715.33 226.06,715.35 226.72,715.38 227.38,715.40 228.03,715.43 228.69,715.46 229.35,715.49 230.00,715.51 230.66,715.54 231.32,715.57 231.97,715.60 232.63,715.63 233.29,715.66 233.95,715.69 234.60,715.72 235.26,715.75 235.92,715.78 236.57,715.81 237.23,715.84 237.89,715.87 238.54,715.90 239.20,715.93 239.86,715.96 240.51,715.98 241.17,716.01 241.83,716.04 242.49,716.07 243.14,716.10 243.80,716.13 244.46,716.16 245.11,716.18 245.77,716.21 246.43,716.24 247.08,716.27 247.74,716.30 248.40,716.34 249.06,716.37 249.71,716.40 250.37,716.44 251.03,716.47 251.68,716.51 252.34,716.55 253.00,716.60 253.65,716.64 254.31,716.69 254.97,716.75 255.62,716.80 256.28,716.86 256.94,716.92 257.60,716.99 258.25,717.06 258.91,717.14 259.57,717.22 260.22,717.30 260.88,717.39 261.54,717.49 262.19,717.59 262.85,717.70 263.51,717.81 264.16,717.92 264.82,718.05 265.48,718.17 266.14,718.31 266.79,718.45 267.45,718.59 268.11,718.74 268.76,718.89 269.42,719.05 270.08,719.22 270.73,719.38 271.39,719.56 272.05,719.73 272.71,719.92 273.36,720.10 274.02,720.29 274.68,720.48 275.33,720.67 275.99,720.87 276.65,721.07 277.30,721.27 277.96,721.47 278.62,721.67 279.27,721.88 279.93,722.08 280.59,722.29 281.25,722.49 281.90,722.69 282.56,722.90 283.22,723.10 283.87,723.30 284.53,723.50 285.19,723.69 285.84,723.89 286.50,724.08 287.16,724.27 287.82,724.45 288.47,724.63 289.13,724.81 289.79,724.99 290.44,725.16 291.10,725.32 291.76,725.49 292.41,725.64 293.07,725.80 293.73,725.95 294.38,726.09 295.04,726.23 295.70,726.37 296.36,726.50 297.01,726.63 297.67,726.75 298.33,726.87 298.98,726.98 299.64,727.09 300.30,727.19 300.95,727.29 301.61,727.38 302.27,727.47 302.92,727.55 303.58,727.63 304.24,727.71 304.90,727.78 305.55,727.85 306.21,727.91 306.87,727.97 307.52,728.03 308.18,728.08 308.84,728.12 309.49,728.17 310.15,728.21 310.81,728.25 311.47,728.28 312.12,728.31 312.78,728.34 313.44,728.36 314.09,728.38 314.75,728.40 315.41,728.42 316.06,728.43 316.72,728.44 317.38,728.45 318.03,728.46 318.69,728.47 319.35,728.47 320.01,728.47 320.66,728.48 321.32,728.48 321.98,728.48 322.63,728.48 323.29,728.47 323.95,728.47 324.60,728.47 325.26,728.47 325.92,728.47 326.57,728.47 327.23,728.47 327.89,728.47 328.55,728.47 329.20,728.48 329.86,728.48 330.52,728.49 331.17,728.50 331.83,728.51 332.49,728.52 333.14,728.54 333.80,728.55 334.46,728.57 335.12,728.59 335.77,728.62 336.43,728.64 337.09,728.67 337.74,728.71 338.40,728.74 339.06,728.78 339.71,728.82 340.37,728.86 341.03,728.91 341.68,728.96 342.34,729.01 343.00,729.06 343.66,729.12 344.31,729.18 344.97,729.24 345.63,729.30 346.28,729.37 346.94,729.44 347.60,729.50 348.25,729.57 348.91,729.65 349.57,729.72 350.23,729.79 350.88,729.87 351.54,729.94 352.20,730.01 352.85,730.09 353.51,730.16 354.17,730.24 354.82,730.31 355.48,730.39 356.14,730.46 356.79,730.53 357.45,730.60 358.11,730.66 358.77,730.73 359.42,730.79 360.08,730.85 360.74,730.91 361.39,730.96 362.05,731.01 362.71,731.06 363.36,731.11 364.02,731.15 364.68,731.19 365.33,731.22 365.99,731.25 366.65,731.27 367.31,731.29 367.96,731.31 368.62,731.32 369.28,731.33 369.93,731.33 370.59,731.32 371.25,731.31 371.90,731.30 372.56,731.28 373.22,731.26 373.88,731.23 374.53,731.19 375.19,731.15 375.85,731.10 376.50,731.05 377.16,730.99 377.82,730.93 378.47,730.86 379.13,730.79 379.79,730.71 380.44,730.63 381.10,730.54 381.76,730.44 382.42,730.34 383.07,730.24 383.73,730.13 384.39,730.02 385.04,729.91 385.70,729.79 386.36,729.66 387.01,729.54 387.67,729.41 388.33,729.27 388.98,729.14 389.64,729.00 390.30,728.86 390.96,728.72 391.61,728.58 392.27,728.44 392.93,728.30 393.58,728.15 394.24,728.01 394.90,727.87 395.55,727.73 396.21,727.59 396.87,727.45 397.53,727.32 398.18,727.19 398.84,727.06 399.50,726.93 400.15,726.82 400.81,726.70 401.47,726.59 402.12,726.49 402.78,726.39 403.44,726.30 404.09,726.21 404.75,726.13 405.41,726.06 406.07,726.00 406.72,725.94 407.38,725.89 408.04,725.86 408.69,725.83 409.35,725.80 410.01,725.79 410.66,725.79 411.32,725.80 411.98,725.81 412.63,725.84 412.63,737.40" fill="#00BFC4" fill-opacity="0.3" stroke="#00BFC4" stroke-width="1" stroke-linejoin="round"/>
</g>
<text x="244.5" y="533.6" font-size="12" fill="#1A1A1A" text-anchor="middle">single_epithelial_cell_size</text>
<text class="t" x="52.9" y="743" font-size="12" fill="#4D4D4D" text-anchor="end">0.0</text>
<text class="t" x="52.9" y="671" font-size="12" fill="#4D4D4D" text-anchor="end">0.5</text>
<text class="t" x="52.9" y="599" font-size="12" fill="#4D4D4D" text-anchor="end">1.0</text>
<text class="t" x="131.9" y="764" font-size="12" fill="#4D4D4D" text-anchor="middle">2.5</text>
<text class="t" x="225.1" y="764" font-size="12" fill="#4D4D4D" text-anchor="middle">5.0</text>
<text class="t" x="318.4" y="764" font-size="12" fill="#4D4D4D" text-anchor="middle">7.5</text>
<text class="t" x="411.6" y="764" font-size="12" fill="#4D4D4D" text-anchor="middle">10.0</text>
<g shape-rendering="crispEdges">
<rect x="460" y="516" width="370" height="24" fill="#D9D9D9"/>
<rect x="460" y="540" width="370" height="206" fill="#EBEBEB"/>
<path d="M460 737.5H830M460 713.5H830M460 688.5H830M460 664.5H830M460 640.5H830M460 616.5H830M460 591.5H830M460 567.5H830M460 543.5H830M486.5 540V746M533.5 540V746M580.5 540V746M626.5 540V746M673.5 540V746M720.5 540V746M766.5 540V746M813.5 540V746" stroke="#fff" stroke-width="1" fill="none"/>
<path d="M456 737.5H460M456 688.5H460M456 640.5H460M456 591.5H460M456 543.5H460M533.5 746V750M626.5 746V750M720.5 746V750M813.5 746V750" stroke="#333" stroke-width="1" fill="none"/>
<polygon points="477.64,737.40 477.64,550.30 478.29,550.69 478.95,551.87 479.61,553.82 480.26,556.52 480.92,559.93 481.58,564.01 482.23,568.71 482.89,573.97 483.55,579.73 484.20,585.92 484.86,592.47 485.52,599.31 486.18,606.37 486.83,613.56 487.49,620.83 488.15,628.10 488.80,635.31 489.46,642.40 490.12,649.31 490.77,656.00 491.43,662.41 492.09,668.52 492.74,674.30 493.40,679.71 494.06,684.74 494.72,689.38 495.37,693.61 496.03,697.45 496.69,700.88 497.34,703.92 498.00,706.57 498.66,708.86 499.31,710.79 499.97,712.39 500.63,713.68 501.29,714.68 501.94,715.41 502.60,715.89 503.26,716.17 503.91,716.24 504.57,716.16 505.23,715.93 505.88,715.58 506.54,715.15 507.20,714.64 507.85,714.09 508.51,713.51 509.17,712.93 509.83,712.36 510.48,711.82 511.14,711.33 511.80,710.90 512.45,710.54 513.11,710.27 513.77,710.08 514.42,709.99 515.08,710.01 515.74,710.13 516.39,710.35 517.05,710.68 517.71,711.10 518.37,711.63 519.02,712.24 519.68,712.94 520.34,713.71 520.99,714.55 521.65,715.44 522.31,716.38 522.96,717.34 523.62,718.34 524.28,719.34 524.94,720.34 525.59,721.33 526.25,722.29 526.91,723.23 527.56,724.12 528.22,724.97 528.88,725.76 529.53,726.48 530.19,727.14 530.85,727.72 531.50,728.23 532.16,728.66 532.82,729.00 533.48,729.26 534.13,729.43 534.79,729.53 535.45,729.54 536.10,729.47 536.76,729.32 537.42,729.10 538.07,728.82 538.73,728.47 539.39,728.06 540.04,727.61 540.70,727.11 541.36,726.57 542.02,726.00 542.67,725.42 543.33,724.82 543.99,724.21 544.64,723.62 545.30,723.03 545.96,722.47 546.61,721.93 547.27,721.44 547.93,720.98 548.59,720.58 549.24,720.24 549.90,719.96 550.56,719.74 551.21,719.60 551.87,719.53 552.53,719.53 553.18,719.60 553.84,719.75 554.50,719.97 555.15,720.26 555.81,720.61 556.47,721.03 557.13,721.49 557.78,722.01 558.44,722.58 559.10,723.17 559.75,723.80 560.41,724.45 561.07,725.12 561.72,725.79 562.38,726.47 563.04,727.14 563.70,727.79 564.35,728.43 565.01,729.05 565.67,729.64 566.32,730.19 566.98,730.71 567.64,731.19 568.29,731.62 568.95,732.01 569.61,732.36 570.26,732.66 570.92,732.91 571.58,733.12 572.24,733.28 572.89,733.40 573.55,733.47 574.21,733.51 574.86,733.50 575.52,733.46 576.18,733.38 576.83,733.27 577.49,733.14 578.15,732.98 578.80,732.80 579.46,732.61 580.12,732.40 580.78,732.19 581.43,731.97 582.09,731.75 582.75,731.53 583.40,731.32 584.06,731.12 584.72,730.93 585.37,730.76 586.03,730.61 586.69,730.49 587.35,730.39 588.00,730.31 588.66,730.26 589.32,730.24 589.97,730.25 590.63,730.29 591.29,730.35 591.94,730.45 592.60,730.57 593.26,730.72 593.91,730.89 594.57,731.09 595.23,731.30 595.89,731.53 596.54,731.77 597.20,732.03 597.86,732.30 598.51,732.57 599.17,732.84 599.83,733.11 600.48,733.39 601.14,733.65 601.80,733.92 602.45,734.17 603.11,734.41 603.77,734.64 604.43,734.85 605.08,735.06 605.74,735.24 606.40,735.41 607.05,735.56 607.71,735.70 608.37,735.82 609.02,735.92 609.68,736.01 610.34,736.08 611.00,736.13 611.65,736.18 612.31,736.20 612.97,736.22 613.62,736.22 614.28,736.22 614.94,736.20 615.59,736.17 616.25,736.14 616.91,736.10 617.56,736.06 618.22,736.02 618.88,735.97 619.54,735.92 620.19,735.87 620.85,735.82 621.51,735.77 622.16,735.73 622.82,735.69 623.48,735.66 624.13,735.63 624.79,735.60 625.45,735.59 626.11,735.58 626.76,735.57 627.42,735.58 628.08,735.59 628.73,735.61 629.39,735.63 630.05,735.67 630.70,735.70 631.36,735.75 632.02,735.80 632.67,735.85 633.33,735.91 633.99,735.97 634.65,736.04 635.30,736.10 635.96,736.17 636.62,736.23 637.27,736.30 637.93,736.37 638.59,736.43 639.24,736.49 639.90,736.55 640.56,736.60 641.21,736.65 641.87,736.69 642.53,736.73 643.19,736.77 643.84,736.80 644.50,736.82 645.16,736.84 645.81,736.85 646.47,736.85 647.13,736.85 647.78,736.85 648.44,736.84 649.10,736.82 649.76,736.80 650.41,736.78 651.07,736.75 651.73,736.72 652.38,736.68 653.04,736.64 653.70,736.60 654.35,736.56 655.01,736.52 655.67,736.47 656.32,736.43 656.98,736.39 657.64,736.35 658.30,736.31 658.95,736.27 659.61,736.24 660.27,736.21 660.92,736.18 661.58,736.16 662.24,736.14 662.89,736.13 663.55,736.12 664.21,736.12 664.86,736.13 665.52,736.14 666.18,736.15 666.84,736.17 667.49,736.19 668.15,736.22 668.81,736.25 669.46,736.29 670.12,736.33 670.78,736.37 671.43,736.41 672.09,736.46 672.75,736.50 673.41,736.55 674.06,736.60 674.72,736.65 675.38,736.69 676.03,736.74 676.69,736.78 677.35,736.82 678.00,736.86 678.66,736.90 679.32,736.93 679.97,736.96 680.63,736.99 681.29,737.01 681.95,737.03 682.60,737.05 683.26,737.06 683.92,737.07 684.57,737.08 685.23,737.08 685.89,737.08 686.54,737.08 687.20,737.07 687.86,737.06 688.52,737.05 689.17,737.04 689.83,737.02 690.49,737.00 691.14,736.98 691.80,736.96 692.46,736.94 693.11,736.92 693.77,736.90 694.43,736.88 695.08,736.86 695.74,736.84 696.40,736.82 697.06,736.81 697.71,736.79 698.37,736.78 699.03,736.77 699.68,736.76 700.34,736.76 701.00,736.76 701.65,736.76 702.31,736.76 702.97,736.76 703.62,736.77 704.28,736.78 704.94,736.79 705.60,736.81 706.25,736.82 706.91,736.84 707.57,736.86 708.22,736.88 708.88,736.90 709.54,736.93 710.19,736.95 710.85,736.97 711.51,737.00 712.17,737.02 712.82,737.04 713.48,737.06 714.14,737.09 714.79,737.10 715.45,737.12 716.11,737.14 716.76,737.15 717.42,737.17 718.08,737.18 718.73,737.19 719.39,737.19 720.05,737.20 720.71,737.20 721.36,737.20 722.02,737.20 722.68,737.19 723.33,737.19 723.99,737.18 724.65,737.17 725.30,737.16 725.96,737.15 726.62,737.14 727.27,737.12 727.93,737.11 728.59,737.09 729.25,737.08 729.90,737.06 730.56,737.04 731.22,737.03 731.87,737.01 732.53,736.99 733.19,736.98 733.84,736.97 734.50,736.95 735.16,736.94 735.82,736.93 736.47,736.93 737.13,736.92 737.79,736.92 738.44,736.92 739.10,736.92 739.76,736.92 740.41,736.92 741.07,736.93 741.73,736.94 742.38,736.95 743.04,736.96 743.70,736.97 744.36,736.99 745.01,737.00 745.67,737.02 746.33,737.04 746.98,737.05 747.64,737.07 748.30,737.09 748.95,737.11 749.61,737.13 750.27,737.15 750.93,737.17 751.58,737.19 752.24,737.20 752.90,737.22 753.55,737.24 754.21,737.25 754.87,737.27 755.52,737.28 756.18,737.29 756.84,737.30 757.49,737.31 758.15,737.32 758.81,737.33 759.47,737.34 760.12,737.35 760.78,737.36 761.44,737.36 762.09,737.37 762.75,737.37 763.41,737.38 764.06,737.38 764.72,737.38 765.38,737.39 766.03,737.39 766.69,737.39 767.35,737.39 768.01,737.39 768.66,737.39 769.32,737.40 769.98,737.40 770.63,737.40 771.29,737.40 771.95,737.40 772.60,737.40 773.26,737.40 773.92,737.40 774.58,737.40 775.23,737.40 775.89,737.40 776.55,737.40 777.20,737.40 777.86,737.40 778.52,737.40 779.17,737.40 779.83,737.40 780.49,737.40 781.14,737.40 781.80,737.40 782.46,737.40 783.12,737.40 783.77,737.40 784.43,737.40 785.09,737.40 785.74,737.40 786.40,737.40 787.06,737.40 787.71,737.40 788.37,737.40 789.03,737.40 789.68,737.40 790.34,737.40 791.00,737.40 791.66,737.40 792.31,737.40 792.97,737.40 793.63,737.40 794.28,737.40 794.94,737.40 795.60,737.40 796.25,737.40 796.91,737.40 797.57,737.40 798.23,737.40 798.88,737.40 799.54,737.40 800.20,737.40 800.85,737.40 801.51,737.40 802.17,737.40 802.82,737.40 803.48,737.40 804.14,737.40 804.79,737.40 805.45,737.40 806.11,737.40 806.77,737.40 807.42,737.40 808.08,737.40 808.74,737.40 809.39,737.40 810.05,737.40 810.71,737.40 811.36,737.40 812.02,737.40 812.68,737.40 813.34,737.40 813.34,737.40" fill="#F8766D" fill-opacity="0.3" stroke="#F8766D" stroke-width="1" stroke-linejoin="round"/>
<polygon points="477.64,737.40 477.64,735.19 478.29,735.13 478.95,735.07 479.61,735.00 480.26,734.93 480.92,734.87 481.58,734.80 482.23,734.73 482.89,734.65 483.55,734.58 484.20,734.50 484.86,734.43 485.52,734.35 486.18,734.27 486.83,734.18 487.49,734.10 488.15,734.02 488.80,733.93 489.46,733.84 490.12,733.75 490.77,733.66 491.43,733.57 492.09,733.48 492.74,733.38 493.40,733.29 494.06,733.19 494.72,733.09 495.37,732.99 496.03,732.89 496.69,732.79 497.34,732.69 498.00,732.59 498.66,732.48 499.31,732.38 499.97,732.28 500.63,732.17 501.29,732.07 501.94,731.96 502.60,731.86 503.26,731.75 503.91,731.64 504.57,731.54 505.23,731.43 505.88,731.33 506.54,731.22 507.20,731.12 507.85,731.01 508.51,730.91 509.17,730.80 509.83,730.70 510.48,730.59 511.14,730.49 511.80,730.38 512.45,730.28 513.11,730.18 513.77,730.07 514.42,729.97 515.08,729.86 515.74,729.76 516.39,729.66 517.05,729.55 517.71,729.45 518.37,729.35 519.02,729.24 519.68,729.14 520.34,729.03 520.99,728.93 521.65,728.82 522.31,728.71 522.96,728.61 523.62,728.50 524.28,728.39 524.94,728.28 525.59,728.17 526.25,728.06 526.91,727.95 527.56,727.83 528.22,727.72 528.88,727.60 529.53,727.49 530.19,727.37 530.85,727.25 531.50,727.14 532.16,727.02 532.82,726.90 533.48,726.77 534.13,726.65 534.79,726.53 535.45,726.41 536.10,726.28 536.76,726.16 537.42,726.04 538.07,725.91 538.73,725.79 539.39,725.66 540.04,725.54 540.70,725.41 541.36,725.29 542.02,725.17 542.67,725.04 543.33,724.92 543.99,724.80 544.64,724.67 545.30,724.55 545.96,724.43 546.61,724.31 547.27,724.19 547.93,724.07 548.59,723.96 549.24,723.84 549.90,723.72 550.56,723.61 551.21,723.49 551.87,723.38 552.53,723.26 553.18,723.15 553.84,723.04 554.50,722.93 555.15,722.82 555.81,722.70 556.47,722.59 557.13,722.48 557.78,722.37 558.44,722.26 559.10,722.15 559.75,722.04 560.41,721.93 561.07,721.82 561.72,721.71 562.38,721.60 563.04,721.49 563.70,721.38 564.35,721.27 565.01,721.15 565.67,721.04 566.32,720.93 566.98,720.81 567.64,720.70 568.29,720.58 568.95,720.47 569.61,720.35 570.26,720.24 570.92,720.12 571.58,720.01 572.24,719.89 572.89,719.78 573.55,719.66 574.21,719.55 574.86,719.43 575.52,719.32 576.18,719.21 576.83,719.10 577.49,718.99 578.15,718.88 578.80,718.78 579.46,718.68 580.12,718.58 580.78,718.48 581.43,718.38 582.09,718.29 582.75,718.20 583.40,718.11 584.06,718.03 584.72,717.95 585.37,717.87 586.03,717.80 586.69,717.73 587.35,717.66 588.00,717.60 588.66,717.54 589.32,717.49 589.97,717.44 590.63,717.39 591.29,717.35 591.94,717.31 592.60,717.27 593.26,717.24 593.91,717.21 594.57,717.18 595.23,717.16 595.89,717.14 596.54,717.12 597.20,717.10 597.86,717.09 598.51,717.08 599.17,717.07 599.83,717.06 600.48,717.06 601.14,717.06 601.80,717.05 602.45,717.05 603.11,717.05 603.77,717.05 604.43,717.05 605.08,717.06 605.74,717.06 606.40,717.06 607.05,717.07 607.71,717.07 608.37,717.07 609.02,717.07 609.68,717.08 610.34,717.08 611.00,717.08 611.65,717.08 612.31,717.09 612.97,717.09 613.62,717.09 614.28,717.09 614.94,717.09 615.59,717.10 616.25,717.10 616.91,717.10 617.56,717.10 618.22,717.11 618.88,717.11 619.54,717.11 620.19,717.12 620.85,717.12 621.51,717.13 622.16,717.13 622.82,717.14 623.48,717.15 624.13,717.16 624.79,717.17 625.45,717.18 626.11,717.20 626.76,717.21 627.42,717.23 628.08,717.24 628.73,717.26 629.39,717.28 630.05,717.30 630.70,717.32 631.36,717.34 632.02,717.36 632.67,717.39 633.33,717.41 633.99,717.44 634.65,717.46 635.30,717.49 635.96,717.52 636.62,717.54 637.27,717.57 637.93,717.59 638.59,717.62 639.24,717.65 639.90,717.67 640.56,717.70 641.21,717.72 641.87,717.74 642.53,717.77 643.19,717.79 643.84,717.81 644.50,717.83 645.16,717.85 645.81,717.87 646.47,717.88 647.13,717.90 647.78,717.91 648.44,717.93 649.10,717.94 649.76,717.95 650.41,717.96 651.07,717.97 651.73,717.98 652.38,717.99 653.04,718.00 653.70,718.01 654.35,718.01 655.01,718.02 655.67,718.02 656.32,718.03 656.98,718.04 657.64,718.04 658.30,718.05 658.95,718.06 659.61,718.06 660.27,718.07 660.92,718.08 661.58,718.08 662.24,718.09 662.89,718.10 663.55,718.11 664.21,718.12 664.86,718.13 665.52,718.15 666.18,718.16 666.84,718.17 667.49,718.19 668.15,718.20 668.81,718.22 669.46,718.23 670.12,718.25 670.78,718.26 671.43,718.28 672.09,718.30 672.75,718.31 673.41,718.33 674.06,718.35 674.72,718.37 675.38,718.38 676.03,718.40 676.69,718.41 677.35,718.43 678.00,718.45 678.66,718.46 679.32,718.47 679.97,718.49 680.63,718.50 681.29,718.51 681.95,718.52 682.60,718.53 683.26,718.54 683.92,718.55 684.57,718.56 685.23,718.57 685.89,718.57 686.54,718.58 687.20,718.59 687.86,718.59 688.52,718.60 689.17,718.61 689.83,718.61 690.49,718.62 691.14,718.63 691.80,718.63 692.46,718.64 693.11,718.65 693.77,718.66 694.43,718.67 695.08,718.68 695.74,718.69 696.40,718.71 697.06,718.72 697.71,718.74 698.37,718.76 699.03,718.78 699.68,718.80 700.34,718.83 701.00,718.86 701.65,718.88 702.31,718.91 702.97,718.95 703.62,718.98 704.28,719.02 704.94,719.06 705.60,719.10 706.25,719.14 706.91,719.18 707.57,719.23 708.22,719.27 708.88,719.32 709.54,719.37 710.19,719.42 710.85,719.47 711.51,719.53 712.17,719.58 712.82,719.64 713.48,719.69 714.14,719.75 714.79,719.80 715.45,719.86 716.11,719.92 716.76,719.97 717.42,720.03 718.08,720.08 718.73,720.14 719.39,720.19 720.05,720.25 720.71,720.30 721.36,720.36 722.02,720.41 722.68,720.46 723.33,720.52 723.99,720.57 724.65,720.62 725.30,720.67 725.96,720.72 726.62,720.77 727.27,720.81 727.93,720.86 728.59,720.91 729.25,720.96 729.90,721.01 730.56,721.05 731.22,721.10 731.87,721.15 732.53,721.19 733.19,721.24 733.84,721.29 734.50,721.34 735.16,721.38 735.82,721.43 736.47,721.48 737.13,721.53 737.79,721.58 738.44,721.63 739.10,721.68 739.76,721.74 740.41,721.79 741.07,721.84 741.73,721.89 742.38,721.95 743.04,722.00 743.70,722.06 744.36,722.11 745.01,722.16 745.67,722.22 746.33,722.27 746.98,722.33 747.64,722.38 748.30,722.43 748.95,722.49 749.61,722.54 750.27,722.59 750.93,722.64 751.58,722.69 752.24,722.73 752.90,722.78 753.55,722.82 754.21,722.86 754.87,722.90 755.52,722.94 756.18,722.97 756.84,723.00 757.49,723.03 758.15,723.06 758.81,723.08 759.47,723.10 760.12,723.11 760.78,723.12 761.44,723.13 762.09,723.14 762.75,723.14 763.41,723.13 764.06,723.12 764.72,723.11 765.38,723.09 766.03,723.07 766.69,723.04 767.35,723.01 768.01,722.98 768.66,722.94 769.32,722.89 769.98,722.84 770.63,722.78 771.29,722.72 771.95,722.66 772.60,722.59 773.26,722.51 773.92,722.43 774.58,722.34 775.23,722.25 775.89,722.15 776.55,722.05 777.20,721.94 777.86,721.82 778.52,721.70 779.17,721.58 779.83,721.45 780.49,721.32 781.14,721.18 781.80,721.03 782.46,720.88 783.12,720.73 783.77,720.57 784.43,720.41 785.09,720.24 785.74,720.07 786.40,719.90 787.06,719.72 787.71,719.54 788.37,719.35 789.03,719.17 789.68,718.98 790.34,718.79 791.00,718.60 791.66,718.40 792.31,718.21 792.97,718.02 793.63,717.82 794.28,717.63 794.94,717.44 795.60,717.26 796.25,717.07 796.91,716.89 797.57,716.71 798.23,716.54 798.88,716.38 799.54,716.21 800.20,716.06 800.85,715.91 801.51,715.77 802.17,715.64 802.82,715.52 803.48,715.41 804.14,715.31 804.79,715.22 805.45,715.14 806.11,715.08 806.77,715.03 807.42,714.99 808.08,714.96 808.74,714.95 809.39,714.95 810.05,714.97 810.71,715.00 811.36,715.05 812.02,715.11 812.68,715.19 813.34,715.29 813.34,737.40" fill="#00BFC4" fill-opacity="0.3" stroke="#00BFC4" stroke-width="1" stroke-linejoin="round"/>
</g>
<text x="645.0" y="533.6" font-size="12" fill="#1A1A1A" text-anchor="middle">uniformity_of_cell_shape</text>
<text class="t" x="454.3" y="743" font-size="12" fill="#4D4D4D" text-anchor="end">0.0</text>
<text class="t" x="454.3" y="694" font-size="12" fill="#4D4D4D" text-anchor="end">0.3</text>
<text class="t" x="454.3" y="646" font-size="12" fill="#4D4D4D" text-anchor="end">0.6</text>
<text class="t" x="454.3" y="597" font-size="12" fill="#4D4D4D" text-anchor="end">0.9</text>
<text class="t" x="454.3" y="549" font-size="12" fill="#4D4D4D" text-anchor="end">1.2</text>
<text class="t" x="532.6" y="764" font-size="12" fill="#4D4D4D" text-anchor="middle">2.5</text>
<text class="t" x="625.8" y="764" font-size="12" fill="#4D4D4D" text-anchor="middle">5.0</text>
<text class="t" x="719.1" y="764" font-size="12" fill="#4D4D4D" text-anchor="middle">7.5</text>
<text class="t" x="812.3" y="764" font-size="12" fill="#4D4D4D" text-anchor="middle">10.0</text>
<g shape-rendering="crispEdges">
<rect x="861" y="516" width="369" height="24" fill="#D9D9D9"/>
<rect x="861" y="540" width="369" height="206" fill="#EBEBEB"/>
<path d="M861 737.5H1230M861 703.5H1230M861 669.5H1230M861 635.5H1230M861 601.5H1230M861 567.5H1230M887.5 540V746M933.5 540V746M980.5 540V746M1027.5 540V746M1073.5 540V746M1120.5 540V746M1167.5 540V746M1213.5 540V746" stroke="#fff" stroke-width="1" fill="none"/>
<path d="M857 737.5H861M857 669.5H861M857 601.5H861M933.5 746V750M1027.5 746V750M1120.5 746V750M1213.5 746V750" stroke="#333" stroke-width="1" fill="none"/>
<polygon points="877.93,737.40 877.93,550.30 878.59,550.76 879.25,552.14 879.91,554.42 880.56,557.57 881.22,561.54 881.88,566.27 882.53,571.69 883.19,577.73 883.85,584.31 884.50,591.35 885.16,598.74 885.82,606.40 886.48,614.24 887.13,622.18 887.79,630.12 888.45,638.00 889.10,645.73 889.76,653.25 890.42,660.51 891.07,667.45 891.73,674.03 892.39,680.23 893.04,686.02 893.70,691.37 894.36,696.29 895.02,700.76 895.67,704.80 896.33,708.40 896.99,711.59 897.64,714.37 898.30,716.77 898.96,718.81 899.61,720.51 900.27,721.90 900.93,723.00 901.59,723.84 902.24,724.45 902.90,724.84 903.56,725.04 904.21,725.08 904.87,724.99 905.53,724.77 906.18,724.47 906.84,724.08 907.50,723.65 908.15,723.18 908.81,722.68 909.47,722.19 910.13,721.71 910.78,721.26 911.44,720.84 912.10,720.48 912.75,720.17 913.41,719.93 914.07,719.76 914.72,719.68 915.38,719.67 916.04,719.75 916.69,719.91 917.35,720.15 918.01,720.46 918.67,720.86 919.32,721.32 919.98,721.84 920.64,722.42 921.29,723.04 921.95,723.71 922.61,724.40 923.26,725.11 923.92,725.83 924.58,726.56 925.24,727.28 925.89,727.99 926.55,728.67 927.21,729.33 927.86,729.95 928.52,730.53 929.18,731.07 929.83,731.55 930.49,731.98 931.15,732.36 931.80,732.67 932.46,732.93 933.12,733.13 933.78,733.26 934.43,733.33 935.09,733.35 935.75,733.30 936.40,733.19 937.06,733.03 937.72,732.81 938.37,732.55 939.03,732.23 939.69,731.88 940.34,731.48 941.00,731.06 941.66,730.60 942.32,730.12 942.97,729.62 943.63,729.12 944.29,728.61 944.94,728.10 945.60,727.61 946.26,727.13 946.91,726.67 947.57,726.25 948.23,725.86 948.89,725.52 949.54,725.23 950.20,724.98 950.86,724.80 951.51,724.67 952.17,724.61 952.83,724.60 953.48,724.66 954.14,724.79 954.80,724.97 955.45,725.21 956.11,725.50 956.77,725.85 957.43,726.24 958.08,726.67 958.74,727.13 959.40,727.62 960.05,728.13 960.71,728.66 961.37,729.19 962.02,729.73 962.68,730.26 963.34,730.79 964.00,731.30 964.65,731.79 965.31,732.26 965.97,732.71 966.62,733.12 967.28,733.51 967.94,733.86 968.59,734.18 969.25,734.47 969.91,734.72 970.56,734.93 971.22,735.11 971.88,735.26 972.54,735.37 973.19,735.45 973.85,735.50 974.51,735.52 975.16,735.52 975.82,735.49 976.48,735.43 977.13,735.36 977.79,735.26 978.45,735.15 979.10,735.03 979.76,734.89 980.42,734.75 981.08,734.60 981.73,734.45 982.39,734.29 983.05,734.14 983.70,733.99 984.36,733.85 985.02,733.72 985.67,733.60 986.33,733.50 986.99,733.41 987.65,733.33 988.30,733.28 988.96,733.24 989.62,733.23 990.27,733.23 990.93,733.25 991.59,733.30 992.24,733.36 992.90,733.45 993.56,733.55 994.21,733.66 994.87,733.79 995.53,733.94 996.19,734.09 996.84,734.25 997.50,734.42 998.16,734.60 998.81,734.78 999.47,734.95 1000.13,735.13 1000.78,735.30 1001.44,735.48 1002.10,735.64 1002.75,735.80 1003.41,735.95 1004.07,736.09 1004.73,736.23 1005.38,736.36 1006.04,736.47 1006.70,736.58 1007.35,736.68 1008.01,736.77 1008.67,736.85 1009.32,736.92 1009.98,736.98 1010.64,737.04 1011.30,737.08 1011.95,737.13 1012.61,737.16 1013.27,737.19 1013.92,737.22 1014.58,737.24 1015.24,737.26 1015.89,737.27 1016.55,737.29 1017.21,737.29 1017.86,737.30 1018.52,737.31 1019.18,737.31 1019.84,737.31 1020.49,737.31 1021.15,737.31 1021.81,737.31 1022.46,737.31 1023.12,737.31 1023.78,737.31 1024.43,737.31 1025.09,737.31 1025.75,737.31 1026.41,737.31 1027.06,737.31 1027.72,737.31 1028.38,737.31 1029.03,737.31 1029.69,737.32 1030.35,737.32 1031.00,737.32 1031.66,737.32 1032.32,737.32 1032.97,737.33 1033.63,737.33 1034.29,737.33 1034.95,737.33 1035.60,737.34 1036.26,737.34 1036.92,737.34 1037.57,737.34 1038.23,737.34 1038.89,737.34 1039.54,737.34 1040.20,737.34 1040.86,737.34 1041.51,737.34 1042.17,737.34 1042.83,737.33 1043.49,737.33 1044.14,737.32 1044.80,737.31 1045.46,737.30 1046.11,737.29 1046.77,737.28 1047.43,737.26 1048.08,737.24 1048.74,737.23 1049.40,737.21 1050.06,737.18 1050.71,737.16 1051.37,737.14 1052.03,737.11 1052.68,737.08 1053.34,737.06 1054.00,737.03 1054.65,737.00 1055.31,736.97 1055.97,736.94 1056.62,736.91 1057.28,736.88 1057.94,736.86 1058.60,736.83 1059.25,736.81 1059.91,736.78 1060.57,736.76 1061.22,736.75 1061.88,736.73 1062.54,736.72 1063.19,736.71 1063.85,736.71 1064.51,736.71 1065.16,736.71 1065.82,736.71 1066.48,736.72 1067.14,736.73 1067.79,736.75 1068.45,736.77 1069.11,736.79 1069.76,736.81 1070.42,736.83 1071.08,736.86 1071.73,736.89 1072.39,736.92 1073.05,736.94 1073.71,736.97 1074.36,737.00 1075.02,737.03 1075.68,737.06 1076.33,737.08 1076.99,737.11 1077.65,737.13 1078.30,737.15 1078.96,737.17 1079.62,737.19 1080.27,737.20 1080.93,737.22 1081.59,737.23 1082.25,737.24 1082.90,737.24 1083.56,737.25 1084.22,737.25 1084.87,737.25 1085.53,737.25 1086.19,737.24 1086.84,737.23 1087.50,737.23 1088.16,737.22 1088.82,737.20 1089.47,737.19 1090.13,737.17 1090.79,737.16 1091.44,737.14 1092.10,737.12 1092.76,737.11 1093.41,737.09 1094.07,737.07 1094.73,737.05 1095.38,737.04 1096.04,737.02 1096.70,737.01 1097.36,736.99 1098.01,736.98 1098.67,736.97 1099.33,736.96 1099.98,736.95 1100.64,736.95 1101.30,736.95 1101.95,736.94 1102.61,736.95 1103.27,736.95 1103.92,736.96 1104.58,736.97 1105.24,736.98 1105.90,736.99 1106.55,737.00 1107.21,737.02 1107.87,737.03 1108.52,737.05 1109.18,737.07 1109.84,737.08 1110.49,737.10 1111.15,737.12 1111.81,737.14 1112.47,737.16 1113.12,737.17 1113.78,737.19 1114.44,737.21 1115.09,737.22 1115.75,737.23 1116.41,737.24 1117.06,737.25 1117.72,737.26 1118.38,737.27 1119.03,737.27 1119.69,737.28 1120.35,737.28 1121.01,737.28 1121.66,737.27 1122.32,737.27 1122.98,737.26 1123.63,737.25 1124.29,737.25 1124.95,737.23 1125.60,737.22 1126.26,737.21 1126.92,737.19 1127.57,737.18 1128.23,737.16 1128.89,737.14 1129.55,737.12 1130.20,737.11 1130.86,737.09 1131.52,737.07 1132.17,737.05 1132.83,737.03 1133.49,737.02 1134.14,737.00 1134.80,736.99 1135.46,736.98 1136.12,736.97 1136.77,736.96 1137.43,736.95 1138.09,736.95 1138.74,736.94 1139.40,736.95 1140.06,736.95 1140.71,736.95 1141.37,736.96 1142.03,736.97 1142.68,736.98 1143.34,736.99 1144.00,737.00 1144.66,737.02 1145.31,737.04 1145.97,737.05 1146.63,737.07 1147.28,737.09 1147.94,737.11 1148.60,737.13 1149.25,737.14 1149.91,737.16 1150.57,737.18 1151.23,737.19 1151.88,737.21 1152.54,737.22 1153.20,737.24 1153.85,737.25 1154.51,737.26 1155.17,737.26 1155.82,737.27 1156.48,737.27 1157.14,737.28 1157.79,737.28 1158.45,737.28 1159.11,737.27 1159.77,737.27 1160.42,737.26 1161.08,737.25 1161.74,737.24 1162.39,737.23 1163.05,737.22 1163.71,737.20 1164.36,737.19 1165.02,737.17 1165.68,737.16 1166.33,737.14 1166.99,737.12 1167.65,737.10 1168.31,737.08 1168.96,737.06 1169.62,737.05 1170.28,737.03 1170.93,737.01 1171.59,737.00 1172.25,736.99 1172.90,736.97 1173.56,736.96 1174.22,736.96 1174.88,736.95 1175.53,736.95 1176.19,736.94 1176.85,736.95 1177.50,736.95 1178.16,736.95 1178.82,736.96 1179.47,736.97 1180.13,736.98 1180.79,736.99 1181.44,737.01 1182.10,737.02 1182.76,737.04 1183.42,737.06 1184.07,737.08 1184.73,737.10 1185.39,737.12 1186.04,737.14 1186.70,737.15 1187.36,737.17 1188.01,737.19 1188.67,737.21 1189.33,737.23 1189.98,737.24 1190.64,737.26 1191.30,737.27 1191.96,737.29 1192.61,737.30 1193.27,737.31 1193.93,737.32 1194.58,737.33 1195.24,737.34 1195.90,737.35 1196.55,737.36 1197.21,737.36 1197.87,737.37 1198.53,737.37 1199.18,737.38 1199.84,737.38 1200.50,737.38 1201.15,737.39 1201.81,737.39 1202.47,737.39 1203.12,737.39 1203.78,737.39 1204.44,737.40 1205.09,737.40 1205.75,737.40 1206.41,737.40 1207.07,737.40 1207.72,737.40 1208.38,737.40 1209.04,737.40 1209.69,737.40 1210.35,737.40 1211.01,737.40 1211.66,737.40 1212.32,737.40 1212.98,737.40 1213.63,737.40 1213.63,737.40" fill="#F8766D" fill-opacity="0.3" stroke="#F8766D" stroke-width="1" stroke-linejoin="round"/>
<polygon points="877.93,737.40 877.93,734.26 878.59,734.20 879.25,734.14 879.91,734.08 880.56,734.01 881.22,733.95 881.88,733.89 882.53,733.82 883.19,733.76 883.85,733.69 884.50,733.62 885.16,733.56 885.82,733.49 886.48,733.42 887.13,733.36 887.79,733.29 888.45,733.22 889.10,733.15 889.76,733.08 890.42,733.01 891.07,732.94 891.73,732.87 892.39,732.80 893.04,732.72 893.70,732.65 894.36,732.58 895.02,732.51 895.67,732.43 896.33,732.36 896.99,732.28 897.64,732.21 898.30,732.14 898.96,732.06 899.61,731.98 900.27,731.91 900.93,731.83 901.59,731.75 902.24,731.68 902.90,731.60 903.56,731.52 904.21,731.44 904.87,731.37 905.53,731.29 906.18,731.21 906.84,731.13 907.50,731.05 908.15,730.97 908.81,730.89 909.47,730.81 910.13,730.73 910.78,730.65 911.44,730.57 912.10,730.48 912.75,730.40 913.41,730.32 914.07,730.24 914.72,730.15 915.38,730.07 916.04,729.99 916.69,729.90 917.35,729.82 918.01,729.74 918.67,729.65 919.32,729.57 919.98,729.48 920.64,729.40 921.29,729.31 921.95,729.22 922.61,729.14 923.26,729.05 923.92,728.96 924.58,728.88 925.24,728.79 925.89,728.70 926.55,728.61 927.21,728.52 927.86,728.44 928.52,728.35 929.18,728.26 929.83,728.17 930.49,728.08 931.15,727.98 931.80,727.89 932.46,727.80 933.12,727.71 933.78,727.62 934.43,727.53 935.09,727.43 935.75,727.34 936.40,727.25 937.06,727.15 937.72,727.06 938.37,726.96 939.03,726.87 939.69,726.77 940.34,726.68 941.00,726.58 941.66,726.49 942.32,726.39 942.97,726.30 943.63,726.20 944.29,726.10 944.94,726.00 945.60,725.91 946.26,725.81 946.91,725.71 947.57,725.61 948.23,725.52 948.89,725.42 949.54,725.32 950.20,725.22 950.86,725.12 951.51,725.02 952.17,724.93 952.83,724.83 953.48,724.73 954.14,724.63 954.80,724.53 955.45,724.43 956.11,724.34 956.77,724.24 957.43,724.14 958.08,724.04 958.74,723.95 959.40,723.85 960.05,723.75 960.71,723.66 961.37,723.56 962.02,723.47 962.68,723.37 963.34,723.28 964.00,723.19 964.65,723.09 965.31,723.00 965.97,722.91 966.62,722.82 967.28,722.73 967.94,722.65 968.59,722.56 969.25,722.47 969.91,722.39 970.56,722.30 971.22,722.22 971.88,722.14 972.54,722.06 973.19,721.98 973.85,721.90 974.51,721.83 975.16,721.75 975.82,721.68 976.48,721.61 977.13,721.54 977.79,721.47 978.45,721.41 979.10,721.34 979.76,721.28 980.42,721.22 981.08,721.16 981.73,721.10 982.39,721.05 983.05,720.99 983.70,720.94 984.36,720.89 985.02,720.84 985.67,720.80 986.33,720.76 986.99,720.71 987.65,720.68 988.30,720.64 988.96,720.60 989.62,720.57 990.27,720.54 990.93,720.51 991.59,720.48 992.24,720.46 992.90,720.44 993.56,720.42 994.21,720.40 994.87,720.38 995.53,720.37 996.19,720.35 996.84,720.34 997.50,720.33 998.16,720.33 998.81,720.32 999.47,720.32 1000.13,720.32 1000.78,720.32 1001.44,720.32 1002.10,720.32 1002.75,720.33 1003.41,720.33 1004.07,720.34 1004.73,720.35 1005.38,720.36 1006.04,720.38 1006.70,720.39 1007.35,720.41 1008.01,720.42 1008.67,720.44 1009.32,720.46 1009.98,720.48 1010.64,720.50 1011.30,720.52 1011.95,720.54 1012.61,720.57 1013.27,720.59 1013.92,720.61 1014.58,720.64 1015.24,720.67 1015.89,720.69 1016.55,720.72 1017.21,720.75 1017.86,720.78 1018.52,720.81 1019.18,720.84 1019.84,720.87 1020.49,720.90 1021.15,720.93 1021.81,720.96 1022.46,720.99 1023.12,721.02 1023.78,721.05 1024.43,721.08 1025.09,721.12 1025.75,721.15 1026.41,721.18 1027.06,721.21 1027.72,721.24 1028.38,721.28 1029.03,721.31 1029.69,721.34 1030.35,721.37 1031.00,721.40 1031.66,721.44 1032.32,721.47 1032.97,721.50 1033.63,721.53 1034.29,721.56 1034.95,721.59 1035.60,721.63 1036.26,721.66 1036.92,721.69 1037.57,721.72 1038.23,721.75 1038.89,721.78 1039.54,721.81 1040.20,721.85 1040.86,721.88 1041.51,721.91 1042.17,721.94 1042.83,721.97 1043.49,722.00 1044.14,722.03 1044.80,722.07 1045.46,722.10 1046.11,722.13 1046.77,722.16 1047.43,722.19 1048.08,722.22 1048.74,722.26 1049.40,722.29 1050.06,722.32 1050.71,722.35 1051.37,722.39 1052.03,722.42 1052.68,722.45 1053.34,722.49 1054.00,722.52 1054.65,722.56 1055.31,722.59 1055.97,722.63 1056.62,722.66 1057.28,722.70 1057.94,722.73 1058.60,722.77 1059.25,722.81 1059.91,722.84 1060.57,722.88 1061.22,722.92 1061.88,722.96 1062.54,722.99 1063.19,723.03 1063.85,723.07 1064.51,723.11 1065.16,723.15 1065.82,723.19 1066.48,723.23 1067.14,723.27 1067.79,723.31 1068.45,723.35 1069.11,723.39 1069.76,723.43 1070.42,723.48 1071.08,723.52 1071.73,723.56 1072.39,723.60 1073.05,723.64 1073.71,723.68 1074.36,723.73 1075.02,723.77 1075.68,723.81 1076.33,723.85 1076.99,723.89 1077.65,723.93 1078.30,723.98 1078.96,724.02 1079.62,724.06 1080.27,724.10 1080.93,724.14 1081.59,724.18 1082.25,724.22 1082.90,724.26 1083.56,724.29 1084.22,724.33 1084.87,724.37 1085.53,724.41 1086.19,724.44 1086.84,724.48 1087.50,724.51 1088.16,724.55 1088.82,724.58 1089.47,724.61 1090.13,724.65 1090.79,724.68 1091.44,724.71 1092.10,724.74 1092.76,724.76 1093.41,724.79 1094.07,724.82 1094.73,724.84 1095.38,724.87 1096.04,724.89 1096.70,724.92 1097.36,724.94 1098.01,724.96 1098.67,724.98 1099.33,725.00 1099.98,725.01 1100.64,725.03 1101.30,725.05 1101.95,725.06 1102.61,725.08 1103.27,725.09 1103.92,725.10 1104.58,725.11 1105.24,725.12 1105.90,725.13 1106.55,725.14 1107.21,725.15 1107.87,725.16 1108.52,725.16 1109.18,725.17 1109.84,725.18 1110.49,725.18 1111.15,725.18 1111.81,725.19 1112.47,725.19 1113.12,725.19 1113.78,725.20 1114.44,725.20 1115.09,725.20 1115.75,725.20 1116.41,725.20 1117.06,725.20 1117.72,725.20 1118.38,725.20 1119.03,725.20 1119.69,725.20 1120.35,725.20 1121.01,725.20 1121.66,725.20 1122.32,725.20 1122.98,725.20 1123.63,725.21 1124.29,725.21 1124.95,725.21 1125.60,725.21 1126.26,725.21 1126.92,725.21 1127.57,725.22 1128.23,725.22 1128.89,725.22 1129.55,725.23 1130.20,725.23 1130.86,725.24 1131.52,725.24 1132.17,725.25 1132.83,725.26 1133.49,725.26 1134.14,725.27 1134.80,725.28 1135.46,725.29 1136.12,725.29 1136.77,725.30 1137.43,725.31 1138.09,725.32 1138.74,725.33 1139.40,725.34 1140.06,725.35 1140.71,725.36 1141.37,725.37 1142.03,725.38 1142.68,725.38 1143.34,725.39 1144.00,725.40 1144.66,725.41 1145.31,725.42 1145.97,725.42 1146.63,725.43 1147.28,725.43 1147.94,725.44 1148.60,725.44 1149.25,725.44 1149.91,725.44 1150.57,725.44 1151.23,725.44 1151.88,725.43 1152.54,725.43 1153.20,725.42 1153.85,725.41 1154.51,725.40 1155.17,725.38 1155.82,725.36 1156.48,725.35 1157.14,725.32 1157.79,725.30 1158.45,725.27 1159.11,725.24 1159.77,725.20 1160.42,725.17 1161.08,725.13 1161.74,725.08 1162.39,725.04 1163.05,724.98 1163.71,724.93 1164.36,724.87 1165.02,724.81 1165.68,724.74 1166.33,724.67 1166.99,724.60 1167.65,724.52 1168.31,724.44 1168.96,724.35 1169.62,724.26 1170.28,724.17 1170.93,724.07 1171.59,723.97 1172.25,723.86 1172.90,723.75 1173.56,723.64 1174.22,723.52 1174.88,723.40 1175.53,723.27 1176.19,723.14 1176.85,723.01 1177.50,722.88 1178.16,722.74 1178.82,722.60 1179.47,722.45 1180.13,722.31 1180.79,722.16 1181.44,722.00 1182.10,721.85 1182.76,721.69 1183.42,721.54 1184.07,721.38 1184.73,721.21 1185.39,721.05 1186.04,720.89 1186.70,720.73 1187.36,720.56 1188.01,720.40 1188.67,720.24 1189.33,720.08 1189.98,719.92 1190.64,719.76 1191.30,719.60 1191.96,719.44 1192.61,719.29 1193.27,719.13 1193.93,718.98 1194.58,718.84 1195.24,718.70 1195.90,718.56 1196.55,718.42 1197.21,718.29 1197.87,718.17 1198.53,718.04 1199.18,717.93 1199.84,717.82 1200.50,717.71 1201.15,717.62 1201.81,717.52 1202.47,717.44 1203.12,717.36 1203.78,717.29 1204.44,717.22 1205.09,717.17 1205.75,717.12 1206.41,717.08 1207.07,717.04 1207.72,717.02 1208.38,717.00 1209.04,717.00 1209.69,717.00 1210.35,717.01 1211.01,717.03 1211.66,717.05 1212.32,717.09 1212.98,717.14 1213.63,717.19 1213.63,737.40" fill="#00BFC4" fill-opacity="0.3" stroke="#00BFC4" stroke-width="1" stroke-linejoin="round"/>
</g>
<text x="1045.5" y="533.6" font-size="12" fill="#1A1A1A" text-anchor="middle">uniformity_of_cell_size</text>
<text class="t" x="854.5" y="743" font-size="12" fill="#4D4D4D" text-anchor="end">0.0</text>
<text class="t" x="854.5" y="675" font-size="12" fill="#4D4D4D" text-anchor="end">0.5</text>
<text class="t" x="854.5" y="607" font-size="12" fill="#4D4D4D" text-anchor="end">1.0</text>
<text class="t" x="932.9" y="764" font-size="12" fill="#4D4D4D" text-anchor="middle">2.5</text>
<text class="t" x="1026.1" y="764" font-size="12" fill="#4D4D4D" text-anchor="middle">5.0</text>
<text class="t" x="1119.4" y="764" font-size="12" fill="#4D4D4D" text-anchor="middle">7.5</text>
<text class="t" x="1212.6" y="764" font-size="12" fill="#4D4D4D" text-anchor="middle">10.0</text>
<text class="t" x="644.8" y="782.7" font-size="14.6" fill="#000" text-anchor="middle">y</text>
<text class="t" style="letter-spacing:-0.2px" transform="translate(20,389.5) rotate(-90)" font-size="15" fill="#000" text-anchor="middle">density</text>
<text class="t" x="1253" y="369.7" font-size="15" fill="#000">classes</text>
<g shape-rendering="crispEdges">
<rect x="1254" y="376" width="22" height="22" fill="#F2F2F2"/><rect x="1254" y="399" width="22" height="22" fill="#F2F2F2"/>
<rect x="1254.5" y="376.5" width="21" height="21" fill="#F8766D" fill-opacity="0.3" stroke="#F8766D" stroke-width="1"/>
<rect x="1254.5" y="399.5" width="21" height="21" fill="#00BFC4" fill-opacity="0.3" stroke="#00BFC4" stroke-width="1"/>
</g>
<text x="1280" y="391.6" font-size="12" fill="#000">benign</text>
<text x="1280" y="414.4" font-size="12" fill="#000">malignant</text>
</svg></body></html>
